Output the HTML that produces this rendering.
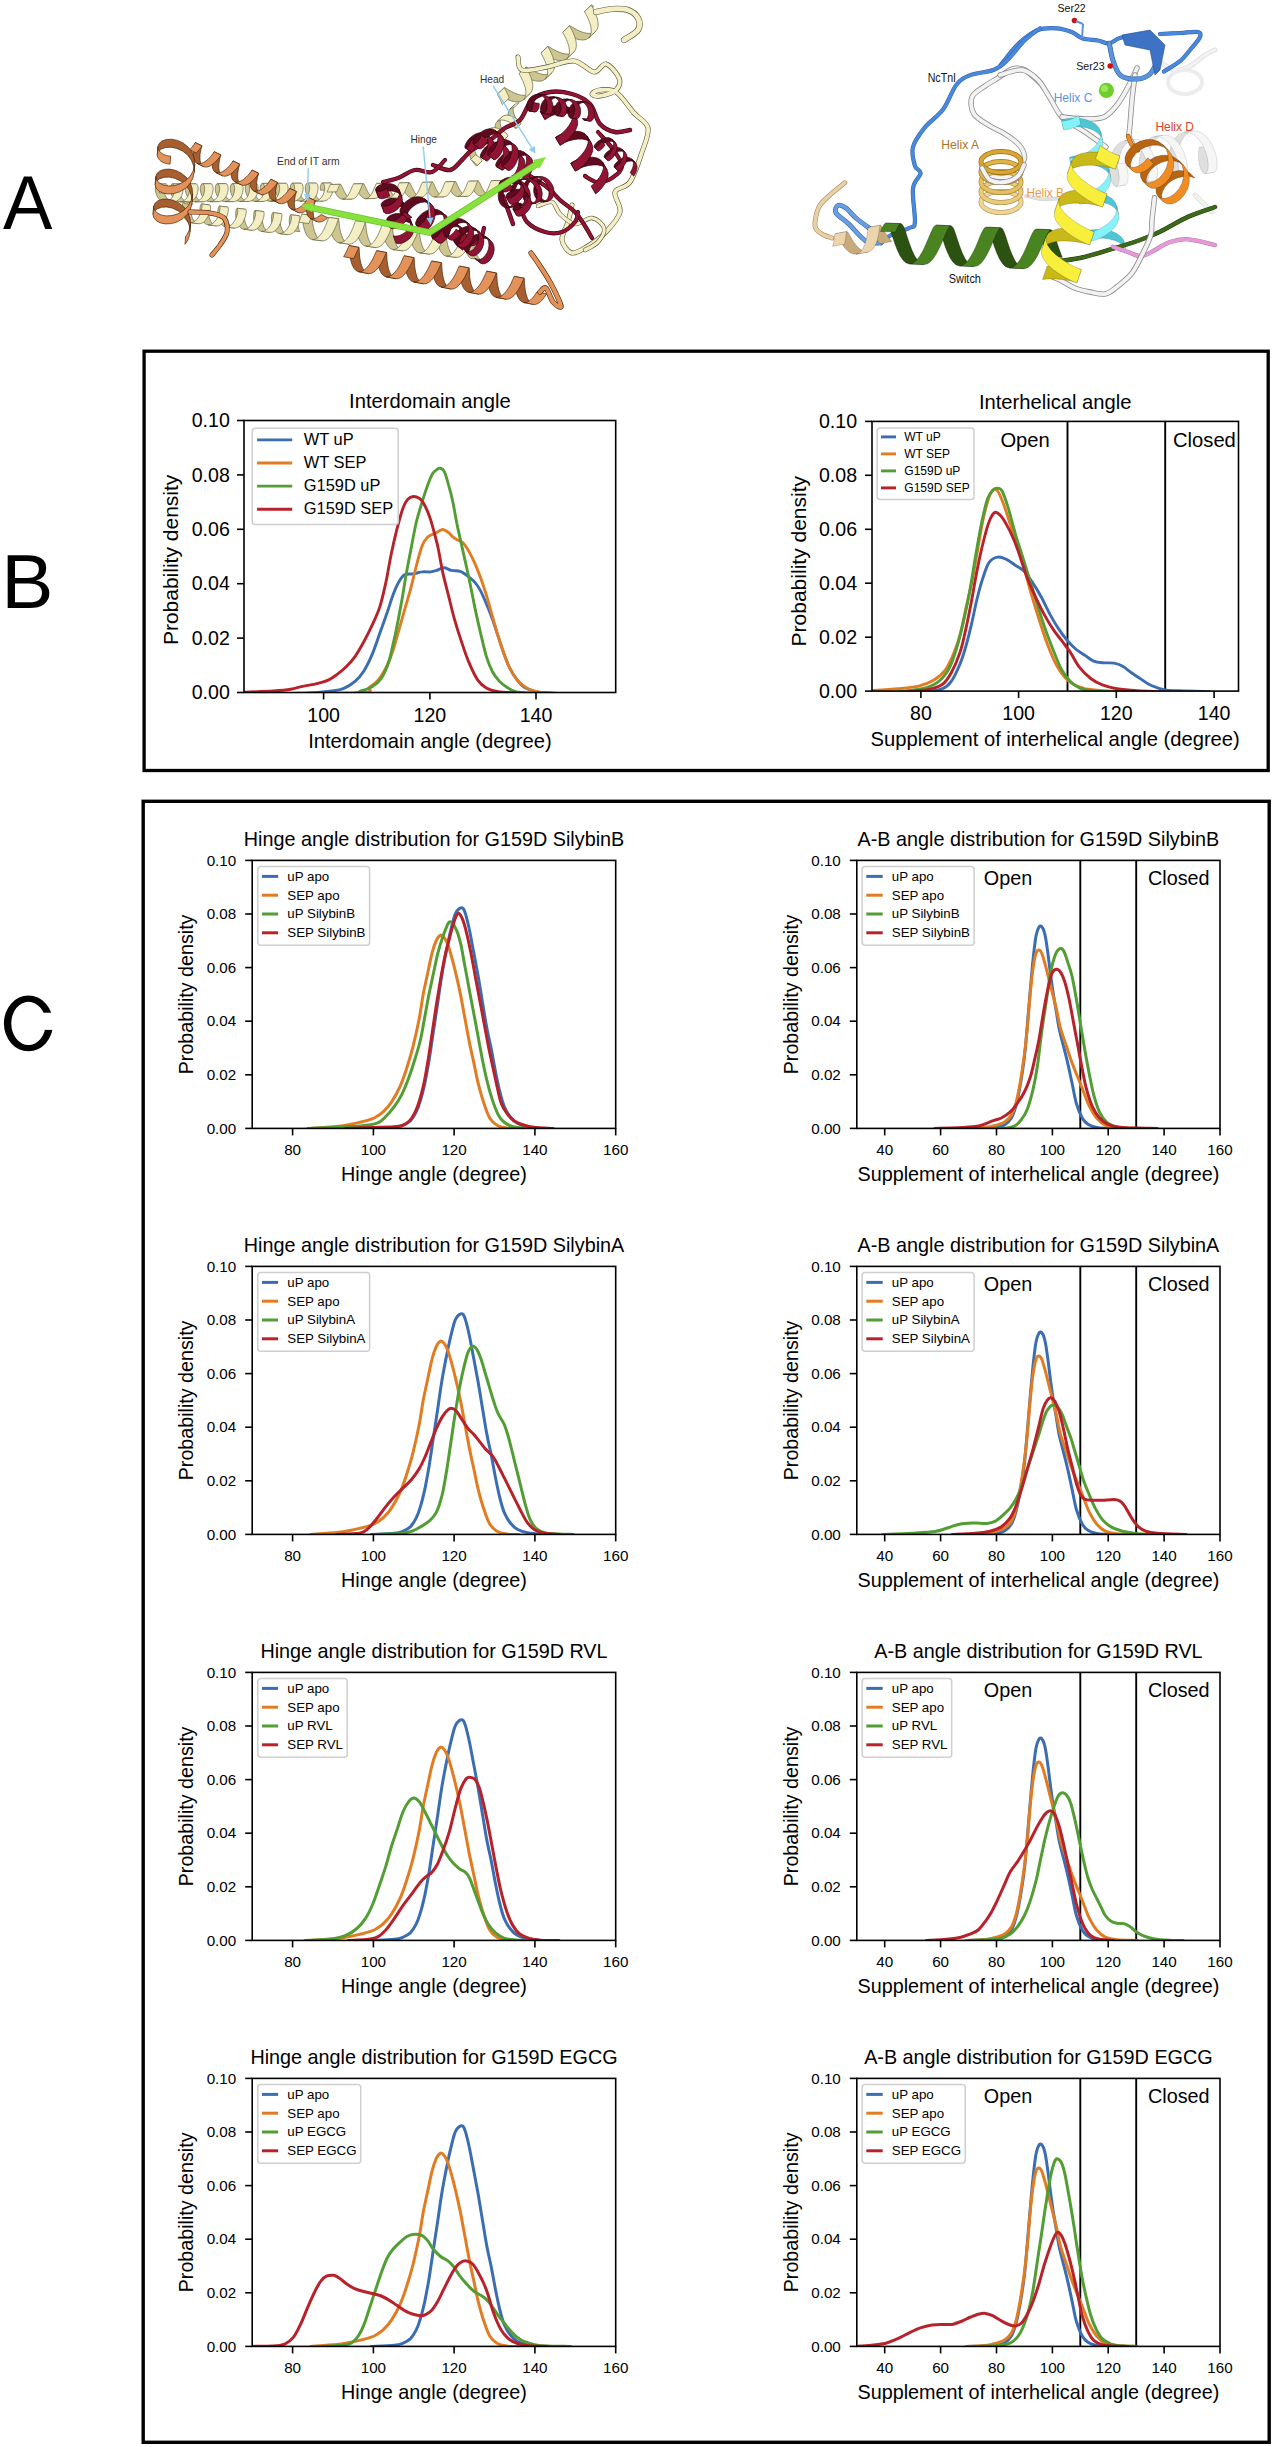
<!DOCTYPE html>
<html><head><meta charset="utf-8"><style>
html,body{margin:0;padding:0;background:#fff;}
svg{display:block;font-family:"Liberation Sans", sans-serif;}
</style></head><body>
<svg width="1274" height="2447" viewBox="0 0 1274 2447">
<rect width="1274" height="2447" fill="#fff"/>
<path d="M504.3,87.6 L504.9,87.8 L506.3,88.6 L508.5,89.9 L511.3,91.5 L514.5,93.1 L518.1,94.4 L521.7,95.2 L525.1,95.3 L528.0,94.7 L530.3,93.2 L523.5,99.8 L521.1,101.2 L518.2,101.9 L514.8,101.7 L511.2,100.9 L507.6,99.6 L504.4,98.0 L501.6,96.5 L499.4,95.1 L498.0,94.3 L497.4,94.1Z" fill="#cdc690" stroke="#6a6640" stroke-width="0.7"/><path d="M526.1,67.0 L526.7,67.1 L528.1,68.0 L530.2,69.3 L533.0,70.9 L536.3,72.4 L539.9,73.7 L543.5,74.6 L546.9,74.7 L549.8,74.1 L552.1,72.6 L545.2,79.1 L542.9,80.6 L540.0,81.2 L536.6,81.1 L533.0,80.3 L529.4,79.0 L526.1,77.4 L523.3,75.8 L521.2,74.5 L519.8,73.7 L519.2,73.5Z" fill="#cdc690" stroke="#6a6640" stroke-width="0.7"/><path d="M547.9,46.3 L548.5,46.5 L549.9,47.3 L552.0,48.7 L554.8,50.2 L558.1,51.8 L561.7,53.1 L565.3,53.9 L568.6,54.1 L571.6,53.4 L573.9,52.0 L567.0,58.5 L564.7,60.0 L561.7,60.6 L558.4,60.5 L554.8,59.6 L551.2,58.3 L547.9,56.8 L545.1,55.2 L543.0,53.9 L541.6,53.0 L541.0,52.9Z" fill="#cdc690" stroke="#6a6640" stroke-width="0.7"/><path d="M569.7,25.7 L570.3,25.9 L571.6,26.7 L573.8,28.0 L576.6,29.6 L579.9,31.2 L583.4,32.5 L587.0,33.3 L590.4,33.4 L593.4,32.8 L595.7,31.3 L588.8,37.9 L586.5,39.3 L583.5,40.0 L580.1,39.8 L576.5,39.0 L573.0,37.7 L569.7,36.1 L566.9,34.6 L564.7,33.2 L563.4,32.4 L562.8,32.2Z" fill="#cdc690" stroke="#6a6640" stroke-width="0.7"/><path d="M591.4,5.1 L591.5,5.0 L591.6,5.0 L591.8,5.1 L591.9,5.2 L592.2,5.3 L592.4,5.5 L592.7,5.6 L593.1,5.9 L593.5,6.1 L593.9,6.4 L587.0,12.9 L586.6,12.6 L586.2,12.4 L585.8,12.2 L585.5,12.0 L585.3,11.8 L585.0,11.7 L584.9,11.6 L584.7,11.6 L584.6,11.6 L584.5,11.6Z" fill="#cdc690" stroke="#6a6640" stroke-width="0.7"/><path d="M509.2,98.1 L508.6,96.4 L507.9,94.7 L507.1,93.2 L506.4,91.8 L505.8,90.6 L505.2,89.6 L504.8,88.8 L504.5,88.2 L504.3,87.8 L504.3,87.6 L497.4,94.1 L497.4,94.3 L497.6,94.7 L497.9,95.3 L498.3,96.2 L498.9,97.2 L499.5,98.4 L500.2,99.7 L501.0,101.2 L501.7,102.9 L502.3,104.6Z" fill="#f3eec4" stroke="#6a6640" stroke-width="0.7"/><path d="M530.3,93.2 L531.9,91.0 L532.7,88.1 L532.8,84.7 L532.1,81.1 L531.0,77.5 L529.6,74.1 L528.2,71.2 L527.0,69.0 L526.3,67.6 L526.1,67.0 L519.2,73.5 L519.4,74.1 L520.1,75.5 L521.3,77.7 L522.7,80.6 L524.1,84.0 L525.2,87.6 L525.9,91.2 L525.8,94.6 L525.0,97.5 L523.5,99.8Z" fill="#f3eec4" stroke="#6a6640" stroke-width="0.7"/><path d="M552.1,72.6 L553.7,70.4 L554.5,67.5 L554.5,64.1 L553.9,60.4 L552.8,56.8 L551.4,53.5 L550.0,50.6 L548.8,48.4 L548.0,46.9 L547.9,46.3 L541.0,52.9 L541.1,53.5 L541.9,54.9 L543.1,57.1 L544.5,60.0 L545.9,63.4 L547.0,67.0 L547.6,70.6 L547.6,74.0 L546.8,76.9 L545.2,79.1Z" fill="#f3eec4" stroke="#6a6640" stroke-width="0.7"/><path d="M573.9,52.0 L575.5,49.7 L576.3,46.8 L576.3,43.5 L575.7,39.8 L574.6,36.2 L573.2,32.8 L571.8,29.9 L570.6,27.7 L569.8,26.3 L569.7,25.7 L562.8,32.2 L562.9,32.8 L563.7,34.3 L564.9,36.5 L566.3,39.4 L567.7,42.7 L568.8,46.4 L569.4,50.0 L569.4,53.4 L568.6,56.3 L567.0,58.5Z" fill="#f3eec4" stroke="#6a6640" stroke-width="0.7"/><path d="M595.7,31.3 L597.3,29.1 L598.1,26.2 L598.1,22.8 L597.5,19.2 L596.4,15.6 L595.0,12.2 L593.6,9.3 L592.4,7.1 L591.6,5.7 L591.4,5.1 L584.5,11.6 L584.7,12.2 L585.5,13.6 L586.7,15.8 L588.1,18.7 L589.5,22.1 L590.6,25.7 L591.2,29.4 L591.2,32.7 L590.4,35.6 L588.8,37.9Z" fill="#f3eec4" stroke="#6a6640" stroke-width="0.7"/>
<path d="M482.0,161.0 L481.4,160.9 L480.4,160.1 L479.0,158.7 L477.5,156.6 L476.1,154.1 L475.0,151.4 L474.3,148.5 L474.2,145.9 L474.8,143.5 L476.0,141.7 L471.0,146.6 L469.7,148.4 L469.2,150.7 L469.2,153.4 L469.9,156.2 L471.0,159.0 L472.5,161.5 L474.0,163.5 L475.3,165.0 L476.4,165.7 L477.0,165.8Z" fill="#cdc690" stroke="#6a6640" stroke-width="0.7"/><path d="M495.0,148.5 L494.4,148.4 L493.4,147.6 L492.0,146.2 L490.5,144.2 L489.1,141.7 L487.9,138.9 L487.3,136.1 L487.2,133.4 L487.8,131.1 L489.0,129.3 L484.0,134.1 L482.7,135.9 L482.1,138.3 L482.2,140.9 L482.9,143.8 L484.0,146.5 L485.5,149.0 L487.0,151.1 L488.3,152.5 L489.4,153.3 L489.9,153.3Z" fill="#cdc690" stroke="#6a6640" stroke-width="0.7"/><path d="M508.0,136.0 L507.4,135.9 L506.4,135.2 L505.0,133.7 L503.5,131.7 L502.1,129.2 L500.9,126.5 L500.3,123.6 L500.2,120.9 L500.8,118.6 L502.0,116.8 L497.0,121.7 L495.7,123.5 L495.1,125.8 L495.2,128.5 L495.9,131.3 L497.0,134.1 L498.4,136.6 L499.9,138.6 L501.3,140.0 L502.4,140.8 L502.9,140.9Z" fill="#cdc690" stroke="#6a6640" stroke-width="0.7"/><path d="M521.0,123.6 L520.4,123.5 L519.3,122.7 L518.0,121.3 L516.5,119.2 L515.1,116.8 L513.9,114.0 L513.2,111.2 L513.2,108.5 L513.7,106.1 L515.0,104.3 L509.9,109.2 L508.7,111.0 L508.1,113.3 L508.2,116.0 L508.9,118.8 L510.0,121.6 L511.4,124.1 L512.9,126.1 L514.3,127.6 L515.4,128.3 L515.9,128.4Z" fill="#cdc690" stroke="#6a6640" stroke-width="0.7"/><path d="M475.4,154.8 L476.7,155.5 L477.9,156.3 L478.9,157.1 L479.9,157.9 L480.6,158.6 L481.2,159.3 L481.7,159.9 L482.0,160.4 L482.1,160.7 L482.0,161.0 L477.0,165.8 L477.0,165.6 L476.9,165.2 L476.6,164.8 L476.2,164.2 L475.6,163.5 L474.8,162.7 L473.9,161.9 L472.8,161.1 L471.7,160.4 L470.4,159.6Z" fill="#f3eec4" stroke="#6a6640" stroke-width="0.7"/><path d="M476.0,141.7 L477.9,140.6 L480.2,140.1 L482.9,140.3 L485.7,141.1 L488.4,142.3 L490.9,143.8 L492.8,145.4 L494.2,146.8 L494.9,147.9 L495.0,148.5 L489.9,153.3 L489.9,152.8 L489.2,151.7 L487.8,150.3 L485.8,148.7 L483.4,147.2 L480.7,145.9 L477.9,145.1 L475.2,144.9 L472.8,145.4 L471.0,146.6Z" fill="#f3eec4" stroke="#6a6640" stroke-width="0.7"/><path d="M489.0,129.3 L490.9,128.1 L493.2,127.6 L495.9,127.8 L498.7,128.6 L501.4,129.8 L503.8,131.4 L505.8,132.9 L507.2,134.4 L507.9,135.5 L508.0,136.0 L502.9,140.9 L502.9,140.3 L502.2,139.2 L500.8,137.8 L498.8,136.2 L496.4,134.7 L493.6,133.4 L490.8,132.7 L488.2,132.5 L485.8,132.9 L484.0,134.1Z" fill="#f3eec4" stroke="#6a6640" stroke-width="0.7"/><path d="M502.0,116.8 L503.9,115.6 L506.2,115.1 L508.9,115.3 L511.7,116.1 L514.4,117.4 L516.8,118.9 L518.8,120.5 L520.2,121.9 L520.9,123.0 L521.0,123.6 L515.9,128.4 L515.9,127.8 L515.1,126.8 L513.8,125.3 L511.8,123.7 L509.4,122.2 L506.6,121.0 L503.8,120.2 L501.2,120.0 L498.8,120.5 L497.0,121.7Z" fill="#f3eec4" stroke="#6a6640" stroke-width="0.7"/><path d="M515.0,104.3 L515.3,104.0 L515.7,103.8 L516.0,103.5 L516.4,103.3 L516.9,103.2 L517.3,103.0 L517.8,102.9 L518.2,102.8 L518.7,102.7 L519.2,102.7 L514.2,107.5 L513.7,107.6 L513.2,107.6 L512.7,107.7 L512.2,107.9 L511.8,108.0 L511.4,108.2 L511.0,108.4 L510.6,108.6 L510.3,108.9 L509.9,109.2Z" fill="#f3eec4" stroke="#6a6640" stroke-width="0.7"/>
<path d="M596.0,12.0 C598.7,11.5 606.7,9.3 612.0,9.0 C617.3,8.7 623.7,8.5 628.0,10.0 C632.3,11.5 636.3,14.7 638.0,18.0 C639.7,21.3 640.3,26.3 638.0,30.0 C635.7,33.7 626.3,38.3 624.0,40.0" fill="none" stroke="#5a573a" stroke-width="6.2" stroke-linecap="round" stroke-linejoin="round"/><path d="M596.0,12.0 C598.7,11.5 606.7,9.3 612.0,9.0 C617.3,8.7 623.7,8.5 628.0,10.0 C632.3,11.5 636.3,14.7 638.0,18.0 C639.7,21.3 640.3,26.3 638.0,30.0 C635.7,33.7 626.3,38.3 624.0,40.0" fill="none" stroke="#f3eec4" stroke-width="5" stroke-linecap="round" stroke-linejoin="round"/>
<path d="M518.0,57.0 C518.7,59.2 517.2,68.3 522.0,70.0 C526.8,71.7 538.3,68.5 547.0,67.0 C555.7,65.5 566.2,60.2 574.0,61.0 C581.8,61.8 588.7,71.5 594.0,72.0 C599.3,72.5 601.8,63.0 606.0,64.0 C610.2,65.0 617.3,73.7 619.0,78.0 C620.7,82.3 619.2,87.0 616.0,90.0 C612.8,93.0 604.0,95.3 600.0,96.0 C596.0,96.7 592.0,95.0 592.0,94.0 C592.0,93.0 596.0,90.3 600.0,90.0 C604.0,89.7 610.3,88.2 616.0,92.0 C621.7,95.8 628.7,107.0 634.0,113.0 C639.3,119.0 646.7,121.5 648.0,128.0 C649.3,134.5 645.0,143.0 642.0,152.0 C639.0,161.0 634.5,175.3 630.0,182.0 C625.5,188.7 616.7,187.0 615.0,192.0 C613.3,197.0 621.5,205.3 620.0,212.0 C618.5,218.7 611.3,226.3 606.0,232.0 C600.7,237.7 593.7,242.5 588.0,246.0 C582.3,249.5 576.3,254.0 572.0,253.0 C567.7,252.0 562.7,245.2 562.0,240.0 C561.3,234.8 566.3,227.8 568.0,222.0 C569.7,216.2 571.3,207.8 572.0,205.0" fill="none" stroke="#5a573a" stroke-width="5.0" stroke-linecap="round" stroke-linejoin="round"/><path d="M518.0,57.0 C518.7,59.2 517.2,68.3 522.0,70.0 C526.8,71.7 538.3,68.5 547.0,67.0 C555.7,65.5 566.2,60.2 574.0,61.0 C581.8,61.8 588.7,71.5 594.0,72.0 C599.3,72.5 601.8,63.0 606.0,64.0 C610.2,65.0 617.3,73.7 619.0,78.0 C620.7,82.3 619.2,87.0 616.0,90.0 C612.8,93.0 604.0,95.3 600.0,96.0 C596.0,96.7 592.0,95.0 592.0,94.0 C592.0,93.0 596.0,90.3 600.0,90.0 C604.0,89.7 610.3,88.2 616.0,92.0 C621.7,95.8 628.7,107.0 634.0,113.0 C639.3,119.0 646.7,121.5 648.0,128.0 C649.3,134.5 645.0,143.0 642.0,152.0 C639.0,161.0 634.5,175.3 630.0,182.0 C625.5,188.7 616.7,187.0 615.0,192.0 C613.3,197.0 621.5,205.3 620.0,212.0 C618.5,218.7 611.3,226.3 606.0,232.0 C600.7,237.7 593.7,242.5 588.0,246.0 C582.3,249.5 576.3,254.0 572.0,253.0 C567.7,252.0 562.7,245.2 562.0,240.0 C561.3,234.8 566.3,227.8 568.0,222.0 C569.7,216.2 571.3,207.8 572.0,205.0" fill="none" stroke="#f3eec4" stroke-width="3.8" stroke-linecap="round" stroke-linejoin="round"/>
<path d="M538.0,206.0 C540.3,205.3 548.3,200.7 552.0,202.0 C555.7,203.3 556.2,210.3 560.0,214.0 C563.8,217.7 569.7,223.3 575.0,224.0 C580.3,224.7 587.2,217.3 592.0,218.0 C596.8,218.7 603.0,224.0 604.0,228.0 C605.0,232.0 601.2,238.3 598.0,242.0 C594.8,245.7 587.2,248.7 585.0,250.0" fill="none" stroke="#5a573a" stroke-width="4.4" stroke-linecap="round" stroke-linejoin="round"/><path d="M538.0,206.0 C540.3,205.3 548.3,200.7 552.0,202.0 C555.7,203.3 556.2,210.3 560.0,214.0 C563.8,217.7 569.7,223.3 575.0,224.0 C580.3,224.7 587.2,217.3 592.0,218.0 C596.8,218.7 603.0,224.0 604.0,228.0 C605.0,232.0 601.2,238.3 598.0,242.0 C594.8,245.7 587.2,248.7 585.0,250.0" fill="none" stroke="#f3eec4" stroke-width="3.2" stroke-linecap="round" stroke-linejoin="round"/>
<path d="M165.9,184.0 L165.0,184.4 L164.3,185.7 L163.9,187.7 L163.8,190.2 L164.3,193.0 L165.4,195.7 L166.9,198.2 L168.9,200.2 L171.1,201.5 L173.6,201.9 L165.1,202.0 L162.6,201.5 L160.4,200.3 L158.4,198.3 L156.9,195.8 L155.9,193.0 L155.3,190.2 L155.4,187.7 L155.8,185.7 L156.5,184.4 L157.4,184.0Z" fill="#cdc690" stroke="#6a6640" stroke-width="0.7"/><path d="M180.9,183.9 L180.0,184.3 L179.3,185.6 L178.9,187.6 L178.8,190.1 L179.3,192.9 L180.4,195.7 L181.9,198.2 L183.9,200.1 L186.1,201.4 L188.6,201.8 L180.1,201.9 L177.6,201.4 L175.4,200.2 L173.4,198.2 L171.9,195.7 L170.8,192.9 L170.3,190.1 L170.4,187.6 L170.8,185.6 L171.5,184.4 L172.4,183.9Z" fill="#cdc690" stroke="#6a6640" stroke-width="0.7"/><path d="M195.9,183.8 L195.0,184.2 L194.3,185.5 L193.8,187.5 L193.8,190.0 L194.3,192.8 L195.4,195.6 L196.9,198.1 L198.9,200.0 L201.1,201.3 L203.6,201.7 L195.1,201.8 L192.6,201.4 L190.4,200.1 L188.4,198.1 L186.9,195.6 L185.8,192.8 L185.3,190.1 L185.4,187.6 L185.8,185.6 L186.5,184.3 L187.4,183.8Z" fill="#cdc690" stroke="#6a6640" stroke-width="0.7"/><path d="M210.9,183.7 L210.0,184.1 L209.3,185.4 L208.8,187.4 L208.8,189.9 L209.3,192.7 L210.4,195.5 L211.9,198.0 L213.9,200.0 L216.1,201.2 L218.6,201.6 L210.1,201.7 L207.6,201.3 L205.4,200.0 L203.4,198.0 L201.9,195.5 L200.8,192.8 L200.3,190.0 L200.3,187.5 L200.8,185.5 L201.5,184.2 L202.4,183.7Z" fill="#cdc690" stroke="#6a6640" stroke-width="0.7"/><path d="M225.9,183.6 L225.0,184.1 L224.3,185.3 L223.8,187.3 L223.8,189.8 L224.3,192.6 L225.4,195.4 L226.9,197.9 L228.9,199.9 L231.1,201.1 L233.6,201.6 L225.1,201.6 L222.6,201.2 L220.4,199.9 L218.4,197.9 L216.9,195.4 L215.8,192.7 L215.3,189.9 L215.3,187.4 L215.8,185.4 L216.5,184.1 L217.4,183.7Z" fill="#cdc690" stroke="#6a6640" stroke-width="0.7"/><path d="M240.9,183.5 L240.0,184.0 L239.3,185.2 L238.8,187.2 L238.8,189.7 L239.3,192.5 L240.4,195.3 L241.9,197.8 L243.9,199.8 L246.1,201.0 L248.6,201.5 L240.1,201.5 L237.6,201.1 L235.4,199.8 L233.4,197.9 L231.9,195.4 L230.8,192.6 L230.3,189.8 L230.3,187.3 L230.8,185.3 L231.5,184.0 L232.4,183.6Z" fill="#cdc690" stroke="#6a6640" stroke-width="0.7"/><path d="M255.9,183.4 L255.0,183.9 L254.3,185.2 L253.8,187.2 L253.8,189.7 L254.3,192.4 L255.4,195.2 L256.9,197.7 L258.9,199.7 L261.1,201.0 L263.6,201.4 L255.1,201.4 L252.6,201.0 L250.4,199.7 L248.4,197.8 L246.9,195.3 L245.8,192.5 L245.3,189.7 L245.3,187.2 L245.8,185.2 L246.5,183.9 L247.4,183.5Z" fill="#cdc690" stroke="#6a6640" stroke-width="0.7"/><path d="M270.9,183.3 L270.0,183.8 L269.3,185.1 L268.8,187.1 L268.8,189.6 L269.3,192.4 L270.4,195.1 L271.9,197.6 L273.9,199.6 L276.1,200.9 L278.6,201.3 L270.1,201.3 L267.6,200.9 L265.4,199.7 L263.4,197.7 L261.9,195.2 L260.8,192.4 L260.3,189.6 L260.3,187.1 L260.8,185.1 L261.5,183.8 L262.4,183.4Z" fill="#cdc690" stroke="#6a6640" stroke-width="0.7"/><path d="M285.9,183.3 L285.0,183.7 L284.3,185.0 L283.8,187.0 L283.8,189.5 L284.3,192.3 L285.4,195.0 L286.9,197.5 L288.9,199.5 L291.1,200.8 L293.6,201.2 L285.1,201.3 L282.6,200.8 L280.4,199.6 L278.4,197.6 L276.9,195.1 L275.8,192.3 L275.3,189.5 L275.3,187.0 L275.8,185.0 L276.5,183.8 L277.4,183.3Z" fill="#cdc690" stroke="#6a6640" stroke-width="0.7"/><path d="M300.9,183.2 L300.0,183.6 L299.3,184.9 L298.8,186.9 L298.8,189.4 L299.3,192.2 L300.4,195.0 L301.9,197.5 L303.9,199.4 L306.1,200.7 L308.5,201.1 L300.0,201.2 L297.6,200.7 L295.4,199.5 L293.4,197.5 L291.9,195.0 L290.8,192.2 L290.3,189.4 L290.3,186.9 L290.8,184.9 L291.5,183.7 L292.4,183.2Z" fill="#cdc690" stroke="#6a6640" stroke-width="0.7"/><path d="M315.9,183.1 L315.0,183.5 L314.3,184.8 L313.8,186.8 L313.8,189.3 L314.3,192.1 L315.4,194.9 L316.9,197.4 L318.9,199.3 L321.1,200.6 L323.5,201.0 L315.0,201.1 L312.6,200.7 L310.4,199.4 L308.4,197.4 L306.9,194.9 L305.8,192.1 L305.3,189.4 L305.3,186.9 L305.8,184.9 L306.5,183.6 L307.4,183.1Z" fill="#cdc690" stroke="#6a6640" stroke-width="0.7"/><path d="M330.9,183.0 L330.5,183.1 L330.1,183.3 L329.8,183.7 L329.5,184.3 L329.2,185.0 L329.0,185.8 L328.8,186.8 L328.8,187.8 L328.8,189.0 L329.0,190.1 L320.5,190.2 L320.3,189.0 L320.3,187.9 L320.3,186.8 L320.5,185.9 L320.7,185.1 L321.0,184.4 L321.3,183.8 L321.6,183.4 L322.0,183.1 L322.4,183.0Z" fill="#cdc690" stroke="#6a6640" stroke-width="0.7"/><path d="M167.6,192.9 L168.0,191.5 L168.1,190.2 L168.2,188.9 L168.1,187.7 L167.9,186.6 L167.6,185.7 L167.3,184.9 L166.9,184.4 L166.4,184.1 L165.9,184.0 L157.4,184.0 L157.9,184.1 L158.4,184.4 L158.8,185.0 L159.1,185.7 L159.4,186.6 L159.6,187.7 L159.7,188.9 L159.6,190.2 L159.5,191.6 L159.1,193.0Z" fill="#f3eec4" stroke="#6a6640" stroke-width="0.7"/><path d="M173.6,201.9 L176.0,201.5 L178.2,200.2 L180.1,198.2 L181.7,195.6 L182.6,192.9 L183.1,190.1 L183.1,187.6 L182.6,185.6 L181.9,184.3 L180.9,183.9 L172.4,183.9 L173.4,184.4 L174.1,185.6 L174.6,187.6 L174.6,190.1 L174.1,192.9 L173.2,195.7 L171.6,198.2 L169.7,200.2 L167.5,201.5 L165.1,202.0Z" fill="#f3eec4" stroke="#6a6640" stroke-width="0.7"/><path d="M188.6,201.8 L191.0,201.4 L193.2,200.1 L195.1,198.1 L196.7,195.6 L197.6,192.8 L198.1,190.0 L198.1,187.5 L197.6,185.5 L196.9,184.2 L195.9,183.8 L187.4,183.8 L188.4,184.3 L189.1,185.5 L189.6,187.5 L189.6,190.0 L189.1,192.8 L188.2,195.6 L186.6,198.1 L184.7,200.1 L182.5,201.4 L180.1,201.9Z" fill="#f3eec4" stroke="#6a6640" stroke-width="0.7"/><path d="M203.6,201.7 L206.0,201.3 L208.2,200.0 L210.1,198.0 L211.7,195.5 L212.6,192.7 L213.1,189.9 L213.1,187.4 L212.6,185.4 L211.9,184.1 L210.9,183.7 L202.4,183.7 L203.4,184.2 L204.1,185.5 L204.6,187.4 L204.6,189.9 L204.1,192.7 L203.2,195.5 L201.6,198.0 L199.7,200.0 L197.5,201.3 L195.1,201.8Z" fill="#f3eec4" stroke="#6a6640" stroke-width="0.7"/><path d="M218.6,201.6 L221.0,201.2 L223.2,199.9 L225.1,197.9 L226.7,195.4 L227.6,192.6 L228.1,189.8 L228.1,187.3 L227.6,185.3 L226.9,184.0 L225.9,183.6 L217.4,183.7 L218.4,184.1 L219.1,185.4 L219.6,187.4 L219.6,189.9 L219.1,192.6 L218.2,195.4 L216.6,197.9 L214.7,200.0 L212.5,201.2 L210.1,201.7Z" fill="#f3eec4" stroke="#6a6640" stroke-width="0.7"/><path d="M233.6,201.6 L236.0,201.1 L238.2,199.8 L240.1,197.8 L241.7,195.3 L242.6,192.5 L243.1,189.7 L243.1,187.2 L242.6,185.2 L241.9,184.0 L240.9,183.5 L232.4,183.6 L233.4,184.0 L234.1,185.3 L234.6,187.3 L234.6,189.8 L234.1,192.6 L233.2,195.3 L231.6,197.9 L229.7,199.9 L227.5,201.2 L225.1,201.6Z" fill="#f3eec4" stroke="#6a6640" stroke-width="0.7"/><path d="M248.6,201.5 L251.0,201.0 L253.2,199.7 L255.1,197.7 L256.7,195.2 L257.6,192.4 L258.1,189.6 L258.1,187.1 L257.6,185.1 L256.9,183.9 L255.9,183.4 L247.4,183.5 L248.4,183.9 L249.1,185.2 L249.6,187.2 L249.6,189.7 L249.1,192.5 L248.2,195.3 L246.6,197.8 L244.7,199.8 L242.5,201.1 L240.1,201.5Z" fill="#f3eec4" stroke="#6a6640" stroke-width="0.7"/><path d="M263.6,201.4 L266.0,200.9 L268.2,199.6 L270.1,197.6 L271.6,195.1 L272.6,192.3 L273.1,189.5 L273.1,187.0 L272.6,185.1 L271.9,183.8 L270.9,183.3 L262.4,183.4 L263.4,183.8 L264.1,185.1 L264.6,187.1 L264.6,189.6 L264.1,192.4 L263.2,195.2 L261.6,197.7 L259.7,199.7 L257.5,201.0 L255.1,201.4Z" fill="#f3eec4" stroke="#6a6640" stroke-width="0.7"/><path d="M278.6,201.3 L281.0,200.8 L283.2,199.6 L285.1,197.6 L286.6,195.0 L287.6,192.2 L288.1,189.5 L288.1,187.0 L287.6,185.0 L286.9,183.7 L285.9,183.3 L277.4,183.3 L278.4,183.7 L279.1,185.0 L279.6,187.0 L279.6,189.5 L279.1,192.3 L278.1,195.1 L276.6,197.6 L274.7,199.6 L272.5,200.9 L270.1,201.3Z" fill="#f3eec4" stroke="#6a6640" stroke-width="0.7"/><path d="M293.6,201.2 L296.0,200.8 L298.2,199.5 L300.1,197.5 L301.6,194.9 L302.6,192.2 L303.1,189.4 L303.1,186.9 L302.6,184.9 L301.9,183.6 L300.9,183.2 L292.4,183.2 L293.4,183.7 L294.1,184.9 L294.6,186.9 L294.6,189.4 L294.1,192.2 L293.1,195.0 L291.6,197.5 L289.7,199.5 L287.5,200.8 L285.1,201.3Z" fill="#f3eec4" stroke="#6a6640" stroke-width="0.7"/><path d="M308.5,201.1 L311.0,200.7 L313.2,199.4 L315.1,197.4 L316.6,194.9 L317.6,192.1 L318.1,189.3 L318.1,186.8 L317.6,184.8 L316.9,183.5 L315.9,183.1 L307.4,183.1 L308.4,183.6 L309.1,184.8 L309.6,186.8 L309.6,189.3 L309.1,192.1 L308.1,194.9 L306.6,197.4 L304.7,199.4 L302.5,200.7 L300.0,201.2Z" fill="#f3eec4" stroke="#6a6640" stroke-width="0.7"/><path d="M323.5,201.0 L326.0,200.6 L328.2,199.3 L330.1,197.3 L331.6,194.8 L332.6,192.0 L333.1,189.2 L333.1,186.7 L332.6,184.7 L331.9,183.4 L330.9,183.0 L322.4,183.0 L323.4,183.5 L324.1,184.8 L324.6,186.7 L324.6,189.3 L324.1,192.0 L323.1,194.8 L321.6,197.3 L319.7,199.3 L317.5,200.6 L315.0,201.1Z" fill="#f3eec4" stroke="#6a6640" stroke-width="0.7"/>
<path d="M340.3,184.3 L340.9,184.6 L341.6,185.7 L342.3,187.3 L343.3,189.4 L344.4,191.7 L345.7,193.9 L347.1,196.0 L348.7,197.6 L350.4,198.7 L352.2,199.0 L342.7,199.2 L340.9,198.9 L339.2,197.9 L337.6,196.2 L336.2,194.2 L334.9,191.9 L333.8,189.6 L332.8,187.5 L332.1,185.9 L331.4,184.8 L330.8,184.5Z" fill="#cdc690" stroke="#6a6640" stroke-width="0.7"/><path d="M363.3,183.7 L363.9,184.1 L364.5,185.1 L365.3,186.8 L366.3,188.8 L367.4,191.1 L368.7,193.4 L370.1,195.5 L371.7,197.1 L373.4,198.1 L375.2,198.4 L365.7,198.7 L363.9,198.3 L362.2,197.3 L360.6,195.7 L359.2,193.6 L357.9,191.3 L356.8,189.1 L355.8,187.0 L355.0,185.3 L354.4,184.3 L353.8,183.9Z" fill="#cdc690" stroke="#6a6640" stroke-width="0.7"/><path d="M386.3,183.2 L386.9,183.5 L387.5,184.6 L388.3,186.2 L389.2,188.3 L390.4,190.6 L391.7,192.9 L393.1,194.9 L394.7,196.5 L396.4,197.6 L398.2,197.9 L388.7,198.1 L386.9,197.8 L385.2,196.8 L383.6,195.1 L382.2,193.1 L380.9,190.8 L379.7,188.5 L378.8,186.4 L378.0,184.8 L377.4,183.8 L376.8,183.4Z" fill="#cdc690" stroke="#6a6640" stroke-width="0.7"/><path d="M409.3,182.6 L409.9,183.0 L410.5,184.0 L411.3,185.7 L412.2,187.7 L413.4,190.0 L414.6,192.3 L416.1,194.4 L417.7,196.0 L419.4,197.0 L421.2,197.4 L411.7,197.6 L409.9,197.3 L408.2,196.2 L406.6,194.6 L405.2,192.6 L403.9,190.3 L402.7,188.0 L401.8,185.9 L401.0,184.3 L400.4,183.2 L399.8,182.9Z" fill="#cdc690" stroke="#6a6640" stroke-width="0.7"/><path d="M432.3,182.1 L432.9,182.4 L433.5,183.5 L434.3,185.1 L435.2,187.2 L436.3,189.5 L437.6,191.8 L439.1,193.8 L440.7,195.5 L442.4,196.5 L444.1,196.8 L434.6,197.0 L432.9,196.7 L431.2,195.7 L429.6,194.1 L428.1,192.0 L426.8,189.7 L425.7,187.4 L424.8,185.4 L424.0,183.7 L423.4,182.7 L422.8,182.3Z" fill="#cdc690" stroke="#6a6640" stroke-width="0.7"/><path d="M455.3,181.5 L455.9,181.9 L456.5,183.0 L457.3,184.6 L458.2,186.7 L459.3,189.0 L460.6,191.2 L462.1,193.3 L463.7,194.9 L465.4,195.9 L467.1,196.3 L457.6,196.5 L455.9,196.2 L454.2,195.1 L452.6,193.5 L451.1,191.5 L449.8,189.2 L448.7,186.9 L447.8,184.8 L447.0,183.2 L446.4,182.1 L445.8,181.8Z" fill="#cdc690" stroke="#6a6640" stroke-width="0.7"/><path d="M478.3,181.0 L478.9,181.4 L479.5,182.4 L480.3,184.1 L481.2,186.1 L482.3,188.4 L483.6,190.7 L485.1,192.8 L486.7,194.4 L488.4,195.4 L490.1,195.7 L480.6,196.0 L478.9,195.6 L477.2,194.6 L475.6,193.0 L474.1,190.9 L472.8,188.6 L471.7,186.3 L470.8,184.3 L470.0,182.6 L469.4,181.6 L468.8,181.2Z" fill="#cdc690" stroke="#6a6640" stroke-width="0.7"/><path d="M501.3,180.5 L501.4,180.5 L501.6,180.6 L501.8,180.7 L501.9,180.9 L502.1,181.2 L502.3,181.5 L502.5,181.9 L502.7,182.3 L502.9,182.8 L503.2,183.3 L493.7,183.5 L493.4,183.0 L493.2,182.5 L493.0,182.1 L492.8,181.7 L492.6,181.4 L492.4,181.2 L492.3,181.0 L492.1,180.8 L491.9,180.7 L491.8,180.7Z" fill="#cdc690" stroke="#6a6640" stroke-width="0.7"/><path d="M336.6,191.8 L337.1,190.7 L337.6,189.5 L338.1,188.4 L338.5,187.4 L338.8,186.5 L339.2,185.7 L339.5,185.1 L339.8,184.6 L340.0,184.4 L340.3,184.3 L330.8,184.5 L330.5,184.6 L330.3,184.9 L330.0,185.3 L329.7,185.9 L329.3,186.7 L329.0,187.6 L328.6,188.6 L328.1,189.7 L327.6,190.9 L327.1,192.1Z" fill="#f3eec4" stroke="#6a6640" stroke-width="0.7"/><path d="M352.2,199.0 L353.9,198.6 L355.5,197.5 L357.1,195.8 L358.4,193.6 L359.6,191.3 L360.6,189.0 L361.5,186.9 L362.2,185.2 L362.8,184.1 L363.3,183.7 L353.8,183.9 L353.3,184.3 L352.7,185.4 L352.0,187.1 L351.1,189.2 L350.1,191.5 L348.9,193.9 L347.6,196.0 L346.0,197.7 L344.4,198.8 L342.7,199.2Z" fill="#f3eec4" stroke="#6a6640" stroke-width="0.7"/><path d="M375.2,198.4 L376.9,198.0 L378.5,196.9 L380.1,195.2 L381.4,193.1 L382.6,190.8 L383.6,188.4 L384.4,186.3 L385.1,184.6 L385.7,183.6 L386.3,183.2 L376.8,183.4 L376.2,183.8 L375.6,184.9 L375.0,186.5 L374.1,188.6 L373.1,191.0 L371.9,193.3 L370.6,195.5 L369.0,197.2 L367.4,198.3 L365.7,198.7Z" fill="#f3eec4" stroke="#6a6640" stroke-width="0.7"/><path d="M398.2,197.9 L399.9,197.5 L401.5,196.4 L403.1,194.7 L404.4,192.6 L405.6,190.2 L406.6,187.9 L407.4,185.8 L408.1,184.1 L408.7,183.0 L409.3,182.6 L399.8,182.9 L399.2,183.2 L398.6,184.3 L397.9,186.0 L397.1,188.1 L396.1,190.4 L394.9,192.8 L393.6,194.9 L392.0,196.6 L390.4,197.7 L388.7,198.1Z" fill="#f3eec4" stroke="#6a6640" stroke-width="0.7"/><path d="M421.2,197.4 L422.9,196.9 L424.5,195.8 L426.0,194.1 L427.4,192.0 L428.6,189.7 L429.6,187.3 L430.4,185.2 L431.1,183.6 L431.7,182.5 L432.3,182.1 L422.8,182.3 L422.2,182.7 L421.6,183.8 L420.9,185.5 L420.1,187.6 L419.1,189.9 L417.9,192.2 L416.5,194.4 L415.0,196.1 L413.4,197.2 L411.7,197.6Z" fill="#f3eec4" stroke="#6a6640" stroke-width="0.7"/><path d="M444.1,196.8 L445.9,196.4 L447.5,195.3 L449.0,193.6 L450.4,191.5 L451.6,189.1 L452.6,186.8 L453.4,184.7 L454.1,183.0 L454.7,181.9 L455.3,181.5 L445.8,181.8 L445.2,182.2 L444.6,183.2 L443.9,184.9 L443.1,187.0 L442.1,189.4 L440.9,191.7 L439.5,193.8 L438.0,195.5 L436.4,196.6 L434.6,197.0Z" fill="#f3eec4" stroke="#6a6640" stroke-width="0.7"/><path d="M467.1,196.3 L468.9,195.9 L470.5,194.8 L472.0,193.1 L473.4,190.9 L474.6,188.6 L475.6,186.3 L476.4,184.1 L477.1,182.5 L477.7,181.4 L478.3,181.0 L468.8,181.2 L468.2,181.6 L467.6,182.7 L466.9,184.4 L466.1,186.5 L465.1,188.8 L463.9,191.2 L462.5,193.3 L461.0,195.0 L459.4,196.1 L457.6,196.5Z" fill="#f3eec4" stroke="#6a6640" stroke-width="0.7"/><path d="M490.1,195.7 L491.9,195.3 L493.5,194.2 L495.0,192.5 L496.4,190.4 L497.6,188.1 L498.6,185.7 L499.4,183.6 L500.1,181.9 L500.7,180.8 L501.3,180.5 L491.8,180.7 L491.2,181.1 L490.6,182.2 L489.9,183.8 L489.1,185.9 L488.1,188.3 L486.9,190.6 L485.5,192.8 L484.0,194.4 L482.4,195.6 L480.6,196.0Z" fill="#f3eec4" stroke="#6a6640" stroke-width="0.7"/>
<path d="M192.1,202.8 L191.5,203.2 L191.0,204.6 L190.6,206.8 L190.5,209.6 L190.8,212.7 L191.6,215.9 L192.8,218.9 L194.4,221.3 L196.4,223.0 L198.6,223.7 L190.1,222.7 L187.9,221.9 L185.9,220.3 L184.3,217.8 L183.1,214.9 L182.4,211.7 L182.1,208.5 L182.2,205.7 L182.5,203.6 L183.1,202.2 L183.6,201.8Z" fill="#cdc690" stroke="#6a6640" stroke-width="0.7"/><path d="M209.9,205.0 L209.4,205.4 L208.8,206.8 L208.5,208.9 L208.4,211.7 L208.7,214.9 L209.4,218.1 L210.6,221.0 L212.3,223.5 L214.2,225.1 L216.4,225.9 L208.0,224.9 L205.8,224.1 L203.8,222.4 L202.2,220.0 L201.0,217.1 L200.3,213.9 L200.0,210.7 L200.0,207.9 L200.4,205.7 L200.9,204.4 L201.5,203.9Z" fill="#cdc690" stroke="#6a6640" stroke-width="0.7"/><path d="M227.8,207.1 L227.2,207.6 L226.7,208.9 L226.4,211.1 L226.3,213.9 L226.6,217.1 L227.3,220.3 L228.5,223.2 L230.1,225.6 L232.1,227.3 L234.3,228.1 L225.9,227.0 L223.7,226.3 L221.7,224.6 L220.1,222.2 L218.9,219.2 L218.1,216.0 L217.8,212.9 L217.9,210.1 L218.3,207.9 L218.8,206.5 L219.3,206.1Z" fill="#cdc690" stroke="#6a6640" stroke-width="0.7"/><path d="M245.7,209.3 L245.1,209.7 L244.6,211.1 L244.2,213.3 L244.1,216.1 L244.4,219.2 L245.2,222.4 L246.4,225.4 L248.0,227.8 L250.0,229.5 L252.2,230.3 L243.7,229.2 L241.5,228.5 L239.6,226.8 L237.9,224.4 L236.7,221.4 L236.0,218.2 L235.7,215.1 L235.8,212.3 L236.1,210.1 L236.7,208.7 L237.2,208.3Z" fill="#cdc690" stroke="#6a6640" stroke-width="0.7"/><path d="M263.5,211.5 L263.0,211.9 L262.5,213.3 L262.1,215.5 L262.0,218.3 L262.3,221.4 L263.1,224.6 L264.2,227.6 L265.9,230.0 L267.8,231.7 L270.0,232.4 L261.6,231.4 L259.4,230.6 L257.4,229.0 L255.8,226.5 L254.6,223.6 L253.9,220.4 L253.6,217.2 L253.7,214.4 L254.0,212.3 L254.5,210.9 L255.1,210.5Z" fill="#cdc690" stroke="#6a6640" stroke-width="0.7"/><path d="M281.4,213.7 L280.8,214.1 L280.3,215.5 L280.0,217.6 L279.9,220.4 L280.2,223.6 L280.9,226.8 L282.1,229.7 L283.7,232.2 L285.7,233.8 L287.9,234.6 L279.5,233.6 L277.3,232.8 L275.3,231.1 L273.7,228.7 L272.5,225.8 L271.7,222.6 L271.4,219.4 L271.5,216.6 L271.9,214.4 L272.4,213.1 L273.0,212.6Z" fill="#cdc690" stroke="#6a6640" stroke-width="0.7"/><path d="M299.3,215.8 L298.9,216.0 L298.5,216.7 L298.2,217.8 L297.9,219.2 L297.8,221.0 L297.8,223.0 L298.0,225.2 L298.4,227.5 L299.0,229.6 L299.8,231.7 L291.4,230.6 L290.6,228.6 L289.9,226.4 L289.5,224.2 L289.3,222.0 L289.3,220.0 L289.5,218.2 L289.7,216.7 L290.1,215.6 L290.4,215.0 L290.8,214.8Z" fill="#cdc690" stroke="#6a6640" stroke-width="0.7"/><path d="M192.6,204.5 L192.6,204.2 L192.6,203.9 L192.6,203.6 L192.5,203.4 L192.4,203.2 L192.4,203.1 L192.3,203.0 L192.2,202.9 L192.1,202.8 L192.1,202.8 L183.6,201.8 L183.7,201.8 L183.8,201.8 L183.9,201.9 L183.9,202.1 L184.0,202.2 L184.1,202.4 L184.1,202.6 L184.2,202.9 L184.2,203.1 L184.2,203.4Z" fill="#f3eec4" stroke="#6a6640" stroke-width="0.7"/><path d="M198.6,223.7 L200.9,223.5 L203.2,222.4 L205.4,220.4 L207.2,217.8 L208.7,214.9 L209.8,211.9 L210.4,209.2 L210.5,207.0 L210.3,205.5 L209.9,205.0 L201.5,203.9 L201.9,204.5 L202.1,205.9 L201.9,208.1 L201.3,210.9 L200.3,213.9 L198.8,216.8 L196.9,219.4 L194.8,221.3 L192.5,222.5 L190.1,222.7Z" fill="#f3eec4" stroke="#6a6640" stroke-width="0.7"/><path d="M216.4,225.9 L218.8,225.7 L221.1,224.5 L223.2,222.6 L225.1,220.0 L226.6,217.1 L227.6,214.1 L228.2,211.3 L228.4,209.1 L228.2,207.7 L227.8,207.1 L219.3,206.1 L219.8,206.7 L220.0,208.1 L219.8,210.3 L219.2,213.0 L218.1,216.0 L216.7,219.0 L214.8,221.5 L212.6,223.5 L210.3,224.7 L208.0,224.9Z" fill="#f3eec4" stroke="#6a6640" stroke-width="0.7"/><path d="M234.3,228.1 L236.6,227.9 L238.9,226.7 L241.1,224.8 L243.0,222.2 L244.4,219.2 L245.5,216.3 L246.1,213.5 L246.3,211.3 L246.1,209.9 L245.7,209.3 L237.2,208.3 L237.6,208.8 L237.8,210.3 L237.7,212.5 L237.1,215.2 L236.0,218.2 L234.5,221.1 L232.7,223.7 L230.5,225.7 L228.2,226.8 L225.9,227.0Z" fill="#f3eec4" stroke="#6a6640" stroke-width="0.7"/><path d="M252.2,230.3 L254.5,230.0 L256.8,228.9 L259.0,226.9 L260.8,224.3 L262.3,221.4 L263.4,218.4 L264.0,215.7 L264.1,213.5 L264.0,212.0 L263.5,211.5 L255.1,210.5 L255.5,211.0 L255.7,212.5 L255.5,214.7 L254.9,217.4 L253.9,220.4 L252.4,223.3 L250.5,225.9 L248.4,227.9 L246.1,229.0 L243.7,229.2Z" fill="#f3eec4" stroke="#6a6640" stroke-width="0.7"/><path d="M270.0,232.4 L272.4,232.2 L274.7,231.1 L276.8,229.1 L278.7,226.5 L280.2,223.6 L281.2,220.6 L281.8,217.9 L282.0,215.7 L281.8,214.2 L281.4,213.7 L273.0,212.6 L273.4,213.2 L273.6,214.6 L273.4,216.8 L272.8,219.6 L271.7,222.6 L270.3,225.5 L268.4,228.1 L266.2,230.0 L263.9,231.2 L261.6,231.4Z" fill="#f3eec4" stroke="#6a6640" stroke-width="0.7"/><path d="M287.9,234.6 L290.2,234.4 L292.6,233.2 L294.7,231.3 L296.6,228.7 L298.1,225.8 L299.1,222.8 L299.7,220.0 L299.9,217.8 L299.7,216.4 L299.3,215.8 L290.8,214.8 L291.2,215.4 L291.4,216.8 L291.3,219.0 L290.7,221.8 L289.6,224.7 L288.1,227.7 L286.3,230.2 L284.1,232.2 L281.8,233.4 L279.5,233.6Z" fill="#f3eec4" stroke="#6a6640" stroke-width="0.7"/>
<path d="M311.9,215.4 L312.0,216.0 L312.2,217.7 L312.4,220.4 L312.8,223.8 L313.5,227.7 L314.6,231.5 L316.0,235.1 L317.8,238.0 L319.9,240.0 L322.3,240.8 L312.4,239.6 L310.0,238.7 L307.9,236.8 L306.1,233.9 L304.6,230.3 L303.6,226.4 L302.9,222.6 L302.5,219.2 L302.2,216.5 L302.1,214.8 L301.9,214.1Z" fill="#cdc690" stroke="#6a6640" stroke-width="0.7"/><path d="M338.6,218.7 L338.8,219.3 L338.9,221.0 L339.2,223.7 L339.6,227.2 L340.3,231.0 L341.4,234.8 L342.8,238.4 L344.6,241.3 L346.7,243.3 L349.1,244.2 L339.2,242.9 L336.8,242.0 L334.7,240.1 L332.9,237.2 L331.4,233.6 L330.4,229.8 L329.7,225.9 L329.2,222.5 L329.0,219.8 L328.9,218.1 L328.7,217.5Z" fill="#cdc690" stroke="#6a6640" stroke-width="0.7"/><path d="M365.4,222.0 L365.6,222.6 L365.7,224.3 L366.0,227.0 L366.4,230.5 L367.1,234.3 L368.2,238.2 L369.6,241.7 L371.4,244.6 L373.5,246.6 L375.9,247.5 L366.0,246.2 L363.6,245.4 L361.5,243.4 L359.7,240.5 L358.2,236.9 L357.2,233.1 L356.5,229.2 L356.0,225.8 L355.8,223.1 L355.7,221.4 L355.5,220.8Z" fill="#cdc690" stroke="#6a6640" stroke-width="0.7"/><path d="M392.2,225.3 L392.4,225.9 L392.5,227.7 L392.8,230.4 L393.2,233.8 L393.9,237.6 L395.0,241.5 L396.4,245.0 L398.2,247.9 L400.3,249.9 L402.7,250.8 L392.8,249.6 L390.4,248.7 L388.3,246.7 L386.5,243.8 L385.0,240.2 L384.0,236.4 L383.3,232.6 L382.8,229.1 L382.6,226.4 L382.5,224.7 L382.3,224.1Z" fill="#cdc690" stroke="#6a6640" stroke-width="0.7"/><path d="M419.0,228.6 L419.2,229.2 L419.3,231.0 L419.6,233.7 L420.0,237.1 L420.7,240.9 L421.8,244.8 L423.2,248.3 L425.0,251.2 L427.1,253.2 L429.5,254.1 L419.6,252.9 L417.2,252.0 L415.1,250.0 L413.3,247.1 L411.8,243.6 L410.8,239.7 L410.1,235.9 L409.6,232.4 L409.4,229.7 L409.3,228.0 L409.1,227.4Z" fill="#cdc690" stroke="#6a6640" stroke-width="0.7"/><path d="M445.8,231.9 L446.0,232.5 L446.1,234.3 L446.4,237.0 L446.8,240.4 L447.5,244.2 L448.5,248.1 L450.0,251.6 L451.8,254.5 L453.9,256.5 L456.3,257.4 L446.4,256.2 L444.0,255.3 L441.9,253.3 L440.1,250.4 L438.6,246.9 L437.6,243.0 L436.9,239.2 L436.4,235.8 L436.2,233.1 L436.1,231.3 L435.9,230.7Z" fill="#cdc690" stroke="#6a6640" stroke-width="0.7"/><path d="M472.6,235.2 L472.8,235.7 L472.9,237.1 L473.1,239.2 L473.3,242.0 L473.8,245.2 L474.6,248.7 L475.6,252.0 L476.9,255.1 L478.4,257.7 L480.3,259.5 L470.4,258.3 L468.5,256.4 L466.9,253.9 L465.6,250.8 L464.6,247.4 L463.9,244.0 L463.4,240.8 L463.1,238.0 L463.0,235.9 L462.9,234.5 L462.7,234.0Z" fill="#cdc690" stroke="#6a6640" stroke-width="0.7"/><path d="M308.8,223.5 L309.4,222.1 L309.9,220.9 L310.3,219.7 L310.7,218.6 L311.0,217.6 L311.2,216.8 L311.5,216.2 L311.6,215.7 L311.8,215.5 L311.9,215.4 L301.9,214.1 L301.8,214.2 L301.7,214.5 L301.5,215.0 L301.3,215.6 L301.1,216.4 L300.7,217.3 L300.4,218.4 L299.9,219.6 L299.4,220.9 L298.9,222.3Z" fill="#f3eec4" stroke="#6a6640" stroke-width="0.7"/><path d="M322.3,240.8 L324.8,240.6 L327.4,239.2 L329.8,236.8 L332.1,233.7 L334.1,230.2 L335.7,226.7 L336.9,223.5 L337.8,220.9 L338.3,219.2 L338.6,218.7 L328.7,217.5 L328.4,218.0 L327.9,219.7 L327.0,222.2 L325.7,225.4 L324.1,229.0 L322.2,232.5 L319.9,235.6 L317.4,237.9 L314.9,239.3 L312.4,239.6Z" fill="#f3eec4" stroke="#6a6640" stroke-width="0.7"/><path d="M349.1,244.2 L351.6,243.9 L354.2,242.5 L356.6,240.1 L358.9,237.0 L360.8,233.5 L362.5,230.0 L363.7,226.8 L364.6,224.2 L365.1,222.6 L365.4,222.0 L355.5,220.8 L355.2,221.3 L354.7,223.0 L353.8,225.5 L352.5,228.8 L350.9,232.3 L349.0,235.8 L346.7,238.9 L344.2,241.2 L341.7,242.7 L339.2,242.9Z" fill="#f3eec4" stroke="#6a6640" stroke-width="0.7"/><path d="M375.9,247.5 L378.4,247.2 L381.0,245.8 L383.4,243.4 L385.7,240.3 L387.6,236.8 L389.3,233.3 L390.5,230.1 L391.4,227.5 L391.9,225.9 L392.2,225.3 L382.3,224.1 L382.0,224.6 L381.5,226.3 L380.6,228.9 L379.3,232.1 L377.7,235.6 L375.7,239.1 L373.5,242.2 L371.0,244.6 L368.5,246.0 L366.0,246.2Z" fill="#f3eec4" stroke="#6a6640" stroke-width="0.7"/><path d="M402.7,250.8 L405.2,250.5 L407.8,249.1 L410.2,246.7 L412.5,243.6 L414.4,240.1 L416.1,236.6 L417.3,233.4 L418.2,230.8 L418.7,229.2 L419.0,228.6 L409.1,227.4 L408.8,227.9 L408.3,229.6 L407.4,232.2 L406.1,235.4 L404.5,238.9 L402.5,242.4 L400.3,245.5 L397.8,247.9 L395.3,249.3 L392.8,249.6Z" fill="#f3eec4" stroke="#6a6640" stroke-width="0.7"/><path d="M429.5,254.1 L432.0,253.8 L434.6,252.4 L437.0,250.0 L439.3,246.9 L441.2,243.5 L442.9,239.9 L444.1,236.7 L445.0,234.1 L445.5,232.5 L445.8,231.9 L435.9,230.7 L435.6,231.3 L435.0,232.9 L434.2,235.5 L432.9,238.7 L431.3,242.2 L429.3,245.7 L427.1,248.8 L424.6,251.2 L422.1,252.6 L419.6,252.9Z" fill="#f3eec4" stroke="#6a6640" stroke-width="0.7"/><path d="M456.3,257.4 L458.8,257.1 L461.3,255.7 L463.8,253.4 L466.1,250.3 L468.0,246.8 L469.7,243.2 L470.9,240.0 L471.8,237.4 L472.3,235.8 L472.6,235.2 L462.7,234.0 L462.4,234.6 L461.8,236.2 L461.0,238.8 L459.7,242.0 L458.1,245.5 L456.1,249.0 L453.9,252.1 L451.4,254.5 L448.9,255.9 L446.4,256.2Z" fill="#f3eec4" stroke="#6a6640" stroke-width="0.7"/>
<path d="M433.0,165.0 C435.8,165.8 445.2,170.8 450.0,170.0 C454.8,169.2 458.3,163.3 462.0,160.0 C465.7,156.7 467.3,153.3 472.0,150.0 C476.7,146.7 484.5,143.7 490.0,140.0 C495.5,136.3 500.0,131.3 505.0,128.0 C510.0,124.7 515.5,124.7 520.0,120.0 C524.5,115.3 527.0,104.7 532.0,100.0 C537.0,95.3 543.3,93.0 550.0,92.0 C556.7,91.0 565.3,92.0 572.0,94.0 C578.7,96.0 585.3,99.0 590.0,104.0 C594.7,109.0 595.8,119.3 600.0,124.0 C604.2,128.7 610.0,131.0 615.0,132.0 C620.0,133.0 627.5,130.3 630.0,130.0" fill="none" stroke="#3a0510" stroke-width="4.4" stroke-linecap="round" stroke-linejoin="round"/><path d="M433.0,165.0 C435.8,165.8 445.2,170.8 450.0,170.0 C454.8,169.2 458.3,163.3 462.0,160.0 C465.7,156.7 467.3,153.3 472.0,150.0 C476.7,146.7 484.5,143.7 490.0,140.0 C495.5,136.3 500.0,131.3 505.0,128.0 C510.0,124.7 515.5,124.7 520.0,120.0 C524.5,115.3 527.0,104.7 532.0,100.0 C537.0,95.3 543.3,93.0 550.0,92.0 C556.7,91.0 565.3,92.0 572.0,94.0 C578.7,96.0 585.3,99.0 590.0,104.0 C594.7,109.0 595.8,119.3 600.0,124.0 C604.2,128.7 610.0,131.0 615.0,132.0 C620.0,133.0 627.5,130.3 630.0,130.0" fill="none" stroke="#921434" stroke-width="3.2" stroke-linecap="round" stroke-linejoin="round"/>
<path d="M383.0,182.0 C385.5,181.3 392.7,180.0 398.0,178.0 C403.3,176.0 409.3,171.0 415.0,170.0 C420.7,169.0 427.0,173.7 432.0,172.0 C437.0,170.3 442.8,162.0 445.0,160.0" fill="none" stroke="#3a0510" stroke-width="4.2" stroke-linecap="round" stroke-linejoin="round"/><path d="M383.0,182.0 C385.5,181.3 392.7,180.0 398.0,178.0 C403.3,176.0 409.3,171.0 415.0,170.0 C420.7,169.0 427.0,173.7 432.0,172.0 C437.0,170.3 442.8,162.0 445.0,160.0" fill="none" stroke="#921434" stroke-width="3" stroke-linecap="round" stroke-linejoin="round"/>
<path d="M530.0,176.0 C533.0,178.0 543.0,184.0 548.0,188.0 C553.0,192.0 555.5,196.0 560.0,200.0 C564.5,204.0 570.8,207.7 575.0,212.0 C579.2,216.3 582.2,221.7 585.0,226.0 C587.8,230.3 590.8,236.0 592.0,238.0" fill="none" stroke="#3a0510" stroke-width="4.2" stroke-linecap="round" stroke-linejoin="round"/><path d="M530.0,176.0 C533.0,178.0 543.0,184.0 548.0,188.0 C553.0,192.0 555.5,196.0 560.0,200.0 C564.5,204.0 570.8,207.7 575.0,212.0 C579.2,216.3 582.2,221.7 585.0,226.0 C587.8,230.3 590.8,236.0 592.0,238.0" fill="none" stroke="#921434" stroke-width="3" stroke-linecap="round" stroke-linejoin="round"/>
<path d="M598.0,132.0 C600.3,134.7 608.0,142.3 612.0,148.0 C616.0,153.7 622.0,161.0 622.0,166.0 C622.0,171.0 616.2,175.3 612.0,178.0 C607.8,180.7 601.5,182.3 597.0,182.0 C592.5,181.7 587.0,177.0 585.0,176.0" fill="none" stroke="#3a0510" stroke-width="4.2" stroke-linecap="round" stroke-linejoin="round"/><path d="M598.0,132.0 C600.3,134.7 608.0,142.3 612.0,148.0 C616.0,153.7 622.0,161.0 622.0,166.0 C622.0,171.0 616.2,175.3 612.0,178.0 C607.8,180.7 601.5,182.3 597.0,182.0 C592.5,181.7 587.0,177.0 585.0,176.0" fill="none" stroke="#921434" stroke-width="3" stroke-linecap="round" stroke-linejoin="round"/>
<path d="M503.0,196.0 C503.8,198.3 506.3,205.3 508.0,210.0 C509.7,214.7 512.2,221.7 513.0,224.0" fill="none" stroke="#3a0510" stroke-width="4.4" stroke-linecap="round" stroke-linejoin="round"/><path d="M503.0,196.0 C503.8,198.3 506.3,205.3 508.0,210.0 C509.7,214.7 512.2,221.7 513.0,224.0" fill="none" stroke="#921434" stroke-width="3.2" stroke-linecap="round" stroke-linejoin="round"/>
<path d="M520.0,205.0 C521.2,207.8 522.8,217.5 527.0,222.0 C531.2,226.5 539.2,230.3 545.0,232.0 C550.8,233.7 557.0,233.7 562.0,232.0 C567.0,230.3 572.3,225.3 575.0,222.0 C577.7,218.7 577.5,213.7 578.0,212.0" fill="none" stroke="#3a0510" stroke-width="4.2" stroke-linecap="round" stroke-linejoin="round"/><path d="M520.0,205.0 C521.2,207.8 522.8,217.5 527.0,222.0 C531.2,226.5 539.2,230.3 545.0,232.0 C550.8,233.7 557.0,233.7 562.0,232.0 C567.0,230.3 572.3,225.3 575.0,222.0 C577.7,218.7 577.5,213.7 578.0,212.0" fill="none" stroke="#921434" stroke-width="3" stroke-linecap="round" stroke-linejoin="round"/>
<path d="M454.0,236.0 C456.7,237.3 465.7,243.3 470.0,244.0 C474.3,244.7 477.7,242.7 480.0,240.0 C482.3,237.3 483.3,230.0 484.0,228.0" fill="none" stroke="#3a0510" stroke-width="4.2" stroke-linecap="round" stroke-linejoin="round"/><path d="M454.0,236.0 C456.7,237.3 465.7,243.3 470.0,244.0 C474.3,244.7 477.7,242.7 480.0,240.0 C482.3,237.3 483.3,230.0 484.0,228.0" fill="none" stroke="#921434" stroke-width="3" stroke-linecap="round" stroke-linejoin="round"/>
<path d="M544.8,119.4 L545.3,118.8 L547.0,117.8 L549.8,116.4 L553.5,115.1 L557.8,113.9 L562.5,113.2 L567.0,113.2 L571.1,114.0 L574.3,115.7 L576.6,118.1 L572.0,110.3 L569.8,107.9 L566.5,106.3 L562.4,105.5 L557.9,105.5 L553.3,106.2 L548.9,107.3 L545.2,108.7 L542.4,110.0 L540.7,111.1 L540.3,111.6Z" fill="#600a20" stroke="#30000c" stroke-width="0.7"/><path d="M560.1,145.2 L560.5,144.7 L562.2,143.6 L565.0,142.3 L568.7,140.9 L573.1,139.8 L577.7,139.1 L582.2,139.1 L586.3,139.9 L589.6,141.5 L591.8,143.9 L587.2,136.2 L585.0,133.7 L581.7,132.1 L577.7,131.3 L573.1,131.3 L568.5,132.0 L564.2,133.1 L560.4,134.5 L557.6,135.9 L556.0,136.9 L555.5,137.5Z" fill="#600a20" stroke="#30000c" stroke-width="0.7"/><path d="M575.3,171.1 L575.8,170.5 L577.5,169.5 L580.3,168.1 L584.0,166.7 L588.3,165.6 L593.0,164.9 L597.5,164.9 L601.5,165.7 L604.8,167.3 L607.0,169.8 L602.5,162.0 L600.2,159.6 L597.0,158.0 L592.9,157.2 L588.4,157.2 L583.8,157.8 L579.4,159.0 L575.7,160.4 L572.9,161.7 L571.2,162.8 L570.7,163.3Z" fill="#600a20" stroke="#30000c" stroke-width="0.7"/><path d="M551.0,115.5 L550.0,116.3 L549.1,117.1 L548.2,117.7 L547.4,118.2 L546.7,118.7 L546.1,119.0 L545.6,119.2 L545.2,119.4 L544.9,119.4 L544.8,119.4 L540.3,111.6 L540.4,111.7 L540.6,111.6 L541.0,111.5 L541.5,111.2 L542.1,110.9 L542.8,110.5 L543.6,109.9 L544.5,109.3 L545.4,108.6 L546.4,107.8Z" fill="#921434" stroke="#30000c" stroke-width="0.7"/><path d="M576.6,118.1 L577.6,121.2 L577.5,124.9 L576.2,128.8 L574.0,132.8 L571.2,136.5 L568.1,139.7 L565.0,142.3 L562.5,144.1 L560.8,145.1 L560.1,145.2 L555.5,137.5 L556.2,137.3 L557.9,136.4 L560.5,134.6 L563.5,132.0 L566.6,128.7 L569.4,125.0 L571.6,121.0 L572.9,117.1 L573.0,113.5 L572.0,110.3Z" fill="#921434" stroke="#30000c" stroke-width="0.7"/><path d="M591.8,143.9 L592.9,147.1 L592.7,150.7 L591.4,154.6 L589.2,158.6 L586.4,162.3 L583.3,165.6 L580.3,168.2 L577.8,170.0 L576.0,170.9 L575.3,171.1 L570.7,163.3 L571.4,163.2 L573.2,162.2 L575.7,160.4 L578.7,157.8 L581.8,154.6 L584.7,150.8 L586.8,146.9 L588.1,143.0 L588.3,139.3 L587.2,136.2Z" fill="#921434" stroke="#30000c" stroke-width="0.7"/><path d="M607.0,169.8 L607.9,171.9 L608.2,174.3 L607.9,176.9 L607.0,179.6 L605.7,182.4 L604.0,185.1 L602.0,187.7 L599.9,190.1 L597.7,192.2 L595.6,193.9 L591.1,186.2 L593.1,184.4 L595.3,182.3 L597.4,180.0 L599.4,177.4 L601.1,174.6 L602.4,171.9 L603.3,169.1 L603.6,166.5 L603.3,164.1 L602.5,162.0Z" fill="#921434" stroke="#30000c" stroke-width="0.7"/>
<path d="M534.9,111.9 L533.8,111.3 L532.9,109.9 L532.6,107.8 L532.8,105.3 L533.6,102.6 L535.1,100.0 L537.1,97.8 L539.5,96.2 L542.1,95.3 L544.8,95.3 L538.9,94.4 L536.2,94.4 L533.6,95.2 L531.2,96.8 L529.2,99.0 L527.7,101.6 L526.9,104.3 L526.7,106.8 L527.0,108.9 L527.9,110.3 L529.0,111.0Z" fill="#600a20" stroke="#30000c" stroke-width="0.7"/><path d="M548.7,114.2 L547.6,113.6 L546.8,112.2 L546.4,110.1 L546.6,107.6 L547.5,104.9 L548.9,102.3 L550.9,100.1 L553.3,98.5 L555.9,97.6 L558.6,97.6 L552.7,96.7 L550.0,96.7 L547.4,97.5 L545.0,99.1 L543.0,101.3 L541.5,103.9 L540.7,106.6 L540.5,109.1 L540.8,111.2 L541.7,112.6 L542.8,113.3Z" fill="#600a20" stroke="#30000c" stroke-width="0.7"/><path d="M562.6,116.5 L561.4,115.9 L560.6,114.5 L560.2,112.4 L560.4,109.9 L561.3,107.2 L562.7,104.6 L564.7,102.4 L567.1,100.8 L569.7,99.9 L572.4,99.9 L566.5,99.0 L563.8,99.0 L561.2,99.8 L558.8,101.4 L556.8,103.6 L555.4,106.2 L554.5,108.9 L554.3,111.4 L554.6,113.5 L555.5,114.9 L556.6,115.6Z" fill="#600a20" stroke="#30000c" stroke-width="0.7"/><path d="M576.4,118.9 L575.2,118.2 L574.4,116.8 L574.0,114.7 L574.2,112.2 L575.1,109.5 L576.5,106.9 L578.5,104.7 L580.9,103.1 L583.5,102.2 L586.2,102.2 L580.3,101.3 L577.6,101.3 L575.0,102.1 L572.6,103.7 L570.6,105.9 L569.2,108.5 L568.3,111.2 L568.1,113.7 L568.5,115.8 L569.3,117.2 L570.4,117.9Z" fill="#600a20" stroke="#30000c" stroke-width="0.7"/><path d="M590.2,121.2 L589.9,121.1 L589.7,121.0 L589.5,120.9 L589.3,120.7 L589.1,120.6 L588.9,120.4 L588.7,120.1 L588.5,119.9 L588.4,119.6 L588.2,119.3 L582.3,118.3 L582.5,118.6 L582.6,118.9 L582.8,119.1 L583.0,119.4 L583.1,119.6 L583.4,119.8 L583.6,119.9 L583.8,120.0 L584.0,120.1 L584.3,120.2Z" fill="#600a20" stroke="#30000c" stroke-width="0.7"/><path d="M539.2,103.5 L539.2,105.0 L539.1,106.3 L538.9,107.6 L538.5,108.8 L538.0,109.8 L537.5,110.6 L536.9,111.3 L536.2,111.7 L535.6,111.9 L534.9,111.9 L529.0,111.0 L529.7,111.0 L530.3,110.7 L531.0,110.3 L531.6,109.6 L532.1,108.8 L532.6,107.8 L532.9,106.6 L533.2,105.4 L533.3,104.0 L533.3,102.5Z" fill="#921434" stroke="#30000c" stroke-width="0.7"/><path d="M544.8,95.3 L547.3,96.2 L549.5,97.9 L551.3,100.2 L552.4,102.9 L553.0,105.8 L552.9,108.6 L552.3,111.1 L551.3,112.9 L550.0,114.0 L548.7,114.2 L542.8,113.3 L544.1,113.0 L545.4,111.9 L546.4,110.1 L547.0,107.7 L547.1,104.8 L546.5,101.9 L545.4,99.2 L543.6,96.9 L541.4,95.2 L538.9,94.4Z" fill="#921434" stroke="#30000c" stroke-width="0.7"/><path d="M558.6,97.6 L561.1,98.5 L563.4,100.2 L565.1,102.5 L566.3,105.2 L566.8,108.1 L566.7,110.9 L566.1,113.4 L565.1,115.2 L563.9,116.3 L562.6,116.5 L556.6,115.6 L557.9,115.3 L559.2,114.2 L560.2,112.4 L560.8,110.0 L560.9,107.1 L560.3,104.2 L559.2,101.5 L557.4,99.2 L555.2,97.5 L552.7,96.7Z" fill="#921434" stroke="#30000c" stroke-width="0.7"/><path d="M572.4,99.9 L575.0,100.8 L577.2,102.5 L578.9,104.8 L580.1,107.5 L580.6,110.4 L580.5,113.2 L579.9,115.7 L578.9,117.5 L577.7,118.6 L576.4,118.9 L570.4,117.9 L571.7,117.6 L573.0,116.5 L574.0,114.7 L574.6,112.3 L574.7,109.4 L574.1,106.5 L573.0,103.8 L571.2,101.5 L569.0,99.8 L566.5,99.0Z" fill="#921434" stroke="#30000c" stroke-width="0.7"/><path d="M586.2,102.2 L588.8,103.1 L591.0,104.8 L592.7,107.1 L593.9,109.8 L594.4,112.7 L594.3,115.5 L593.7,118.0 L592.7,119.8 L591.5,120.9 L590.2,121.2 L584.3,120.2 L585.6,119.9 L586.8,118.8 L587.8,117.0 L588.4,114.6 L588.5,111.7 L588.0,108.8 L586.8,106.1 L585.1,103.8 L582.8,102.1 L580.3,101.3Z" fill="#921434" stroke="#30000c" stroke-width="0.7"/>
<path d="M512.5,206.9 L509.8,206.7 L507.3,205.3 L505.1,202.7 L503.7,199.3 L503.1,195.3 L503.6,191.2 L505.0,187.3 L507.4,183.9 L510.6,181.6 L514.3,180.3 L509.3,181.1 L505.7,182.4 L502.5,184.8 L500.1,188.1 L498.6,192.0 L498.2,196.1 L498.7,200.1 L500.2,203.5 L502.3,206.1 L504.9,207.5 L507.6,207.8Z" fill="#600a20" stroke="#30000c" stroke-width="0.7"/><path d="M524.4,205.0 L521.7,204.8 L519.1,203.4 L517.0,200.8 L515.5,197.4 L515.0,193.4 L515.4,189.2 L516.9,185.3 L519.3,182.0 L522.4,179.6 L526.1,178.4 L521.2,179.2 L517.5,180.4 L514.4,182.8 L512.0,186.1 L510.5,190.0 L510.0,194.2 L510.6,198.2 L512.0,201.6 L514.2,204.2 L516.7,205.6 L519.4,205.8Z" fill="#600a20" stroke="#30000c" stroke-width="0.7"/><path d="M536.2,203.1 L533.5,202.9 L531.0,201.4 L528.8,198.9 L527.4,195.4 L526.8,191.4 L527.3,187.3 L528.7,183.4 L531.1,180.1 L534.3,177.7 L537.9,176.5 L533.0,177.3 L529.4,178.5 L526.2,180.9 L523.8,184.2 L522.3,188.1 L521.9,192.3 L522.4,196.2 L523.9,199.7 L526.0,202.2 L528.6,203.7 L531.3,203.9Z" fill="#600a20" stroke="#30000c" stroke-width="0.7"/><path d="M548.0,201.2 L546.0,201.1 L544.0,200.3 L542.1,198.9 L540.6,196.8 L539.4,194.2 L538.8,191.3 L538.7,188.2 L539.2,185.0 L540.3,182.0 L541.9,179.4 L537.0,180.2 L535.4,182.8 L534.3,185.8 L533.8,189.0 L533.8,192.1 L534.5,195.0 L535.6,197.6 L537.2,199.7 L539.1,201.1 L541.1,201.9 L543.1,202.0Z" fill="#600a20" stroke="#30000c" stroke-width="0.7"/><path d="M517.7,192.9 L518.2,194.9 L518.5,196.9 L518.5,198.8 L518.2,200.6 L517.7,202.2 L517.0,203.7 L516.1,204.9 L515.0,205.9 L513.8,206.6 L512.5,206.9 L507.6,207.8 L508.9,207.4 L510.1,206.7 L511.1,205.7 L512.0,204.5 L512.7,203.1 L513.2,201.4 L513.5,199.6 L513.5,197.7 L513.3,195.7 L512.8,193.7Z" fill="#921434" stroke="#30000c" stroke-width="0.7"/><path d="M514.3,180.3 L518.1,180.3 L521.9,181.6 L525.2,184.0 L527.8,187.2 L529.6,191.0 L530.3,194.9 L530.0,198.7 L528.8,201.8 L526.8,204.0 L524.4,205.0 L519.4,205.8 L521.9,204.8 L523.9,202.6 L525.1,199.5 L525.4,195.8 L524.6,191.8 L522.9,188.0 L520.3,184.8 L516.9,182.4 L513.2,181.1 L509.3,181.1Z" fill="#921434" stroke="#30000c" stroke-width="0.7"/><path d="M526.1,178.4 L530.0,178.4 L533.7,179.7 L537.0,182.0 L539.7,185.3 L541.4,189.1 L542.2,193.0 L541.9,196.7 L540.7,199.9 L538.7,202.0 L536.2,203.1 L531.3,203.9 L533.7,202.8 L535.7,200.7 L536.9,197.5 L537.2,193.8 L536.5,189.9 L534.7,186.1 L532.1,182.8 L528.8,180.5 L525.0,179.2 L521.2,179.2Z" fill="#921434" stroke="#30000c" stroke-width="0.7"/><path d="M537.9,176.5 L541.8,176.5 L545.6,177.7 L548.9,180.1 L551.5,183.4 L553.3,187.1 L554.0,191.1 L553.7,194.8 L552.5,197.9 L550.5,200.1 L548.0,201.2 L543.1,202.0 L545.6,200.9 L547.6,198.7 L548.8,195.6 L549.1,191.9 L548.3,187.9 L546.6,184.2 L544.0,180.9 L540.6,178.5 L536.9,177.3 L533.0,177.3Z" fill="#921434" stroke="#30000c" stroke-width="0.7"/>
<path d="M471.2,151.5 L470.8,150.7 L471.1,149.0 L472.0,146.8 L473.7,144.2 L476.0,141.6 L478.8,139.3 L481.8,137.5 L484.8,136.5 L487.7,136.4 L490.2,137.3 L484.2,133.7 L481.7,132.8 L478.8,132.9 L475.8,133.9 L472.8,135.7 L470.0,138.0 L467.7,140.6 L466.0,143.2 L465.1,145.4 L464.8,147.1 L465.2,147.9Z" fill="#600a20" stroke="#30000c" stroke-width="0.7"/><path d="M486.6,160.8 L486.2,159.9 L486.5,158.3 L487.5,156.0 L489.1,153.5 L491.4,150.9 L494.2,148.5 L497.2,146.8 L500.3,145.8 L503.2,145.7 L505.7,146.6 L499.7,143.0 L497.2,142.1 L494.3,142.2 L491.2,143.2 L488.2,144.9 L485.4,147.3 L483.1,149.9 L481.5,152.4 L480.5,154.7 L480.2,156.3 L480.6,157.2Z" fill="#600a20" stroke="#30000c" stroke-width="0.7"/><path d="M502.1,170.1 L501.7,169.2 L501.9,167.5 L502.9,165.3 L504.6,162.7 L506.9,160.1 L509.6,157.8 L512.6,156.0 L515.7,155.0 L518.6,155.0 L521.1,155.8 L515.1,152.2 L512.6,151.4 L509.7,151.4 L506.6,152.4 L503.6,154.2 L500.9,156.5 L498.6,159.1 L496.9,161.7 L495.9,163.9 L495.7,165.6 L496.1,166.5Z" fill="#600a20" stroke="#30000c" stroke-width="0.7"/><path d="M477.7,142.6 L477.2,144.3 L476.5,145.9 L475.8,147.3 L475.0,148.6 L474.3,149.6 L473.5,150.5 L472.8,151.1 L472.2,151.5 L471.6,151.6 L471.2,151.5 L465.2,147.9 L465.6,148.0 L466.2,147.9 L466.8,147.5 L467.5,146.9 L468.3,146.0 L469.0,145.0 L469.8,143.7 L470.5,142.3 L471.2,140.7 L471.7,139.0Z" fill="#921434" stroke="#30000c" stroke-width="0.7"/><path d="M490.2,137.3 L492.2,139.1 L493.5,141.7 L494.0,144.9 L493.9,148.4 L493.2,151.9 L491.9,155.1 L490.5,157.8 L488.9,159.7 L487.6,160.8 L486.6,160.8 L480.6,157.2 L481.6,157.2 L482.9,156.1 L484.5,154.2 L485.9,151.5 L487.1,148.3 L487.9,144.8 L488.0,141.3 L487.5,138.1 L486.2,135.5 L484.2,133.7Z" fill="#921434" stroke="#30000c" stroke-width="0.7"/><path d="M505.7,146.6 L507.6,148.4 L508.9,151.0 L509.5,154.1 L509.3,157.6 L508.6,161.2 L507.4,164.4 L505.9,167.1 L504.4,169.0 L503.0,170.0 L502.1,170.1 L496.1,166.5 L497.0,166.4 L498.4,165.4 L499.9,163.5 L501.4,160.8 L502.6,157.6 L503.3,154.0 L503.5,150.5 L502.9,147.4 L501.6,144.8 L499.7,143.0Z" fill="#921434" stroke="#30000c" stroke-width="0.7"/><path d="M521.1,155.8 L523.0,157.6 L524.3,160.1 L524.9,163.2 L524.8,166.6 L524.1,170.0 L523.0,173.3 L521.6,176.0 L520.1,178.0 L518.7,179.2 L517.7,179.4 L511.7,175.8 L512.7,175.6 L514.1,174.4 L515.6,172.4 L517.0,169.7 L518.1,166.4 L518.8,163.0 L518.9,159.6 L518.3,156.5 L517.0,154.0 L515.1,152.2Z" fill="#921434" stroke="#30000c" stroke-width="0.7"/>
<path d="M378.5,197.4 L378.6,196.0 L379.7,194.5 L381.7,193.0 L384.5,191.8 L387.9,191.1 L391.5,190.9 L395.0,191.5 L398.0,192.7 L400.4,194.6 L401.9,197.1 L399.1,189.6 L397.6,187.2 L395.2,185.2 L392.1,184.0 L388.7,183.4 L385.1,183.6 L381.7,184.3 L378.9,185.5 L376.9,187.0 L375.8,188.5 L375.7,189.9Z" fill="#600a20" stroke="#30000c" stroke-width="0.7"/><path d="M384.1,212.3 L384.2,211.0 L385.3,209.5 L387.3,208.0 L390.2,206.8 L393.5,206.0 L397.1,205.9 L400.6,206.4 L403.6,207.7 L406.0,209.6 L407.5,212.1 L404.7,204.6 L403.2,202.1 L400.8,200.2 L397.8,199.0 L394.3,198.4 L390.7,198.5 L387.4,199.3 L384.5,200.5 L382.5,202.0 L381.4,203.5 L381.3,204.8Z" fill="#600a20" stroke="#30000c" stroke-width="0.7"/><path d="M389.7,227.3 L389.8,226.0 L390.9,224.4 L393.0,223.0 L395.8,221.8 L399.1,221.0 L402.7,220.9 L406.2,221.4 L409.3,222.7 L411.7,224.6 L413.2,227.1 L410.3,219.6 L408.8,217.1 L406.5,215.2 L403.4,213.9 L399.9,213.4 L396.3,213.5 L393.0,214.3 L390.1,215.5 L388.1,217.0 L387.0,218.5 L386.9,219.8Z" fill="#600a20" stroke="#30000c" stroke-width="0.7"/><path d="M389.7,195.9 L388.2,196.8 L386.7,197.6 L385.2,198.1 L383.8,198.5 L382.5,198.7 L381.3,198.7 L380.3,198.6 L379.4,198.3 L378.9,197.9 L378.5,197.4 L375.7,189.9 L376.0,190.4 L376.6,190.8 L377.5,191.1 L378.5,191.3 L379.7,191.2 L381.0,191.0 L382.4,190.6 L383.9,190.1 L385.4,189.3 L386.9,188.4Z" fill="#921434" stroke="#30000c" stroke-width="0.7"/><path d="M401.9,197.1 L402.4,200.0 L401.9,203.0 L400.4,206.0 L398.1,208.7 L395.3,210.9 L392.3,212.5 L389.4,213.5 L386.9,213.7 L385.1,213.3 L384.1,212.3 L381.3,204.8 L382.3,205.8 L384.1,206.2 L386.6,206.0 L389.5,205.1 L392.5,203.4 L395.3,201.2 L397.6,198.5 L399.1,195.5 L399.6,192.5 L399.1,189.6Z" fill="#921434" stroke="#30000c" stroke-width="0.7"/><path d="M407.5,212.1 L408.0,214.9 L407.5,218.0 L406.0,220.9 L403.7,223.6 L401.0,225.9 L397.9,227.5 L395.0,228.5 L392.5,228.7 L390.7,228.3 L389.7,227.3 L386.9,219.8 L387.9,220.8 L389.7,221.2 L392.2,221.0 L395.1,220.0 L398.1,218.4 L400.9,216.2 L403.2,213.4 L404.7,210.5 L405.2,207.5 L404.7,204.6Z" fill="#921434" stroke="#30000c" stroke-width="0.7"/><path d="M413.2,227.1 L413.6,229.7 L413.3,232.4 L412.1,235.1 L410.3,237.7 L407.9,239.9 L405.2,241.7 L402.5,242.9 L399.9,243.6 L397.8,243.7 L396.2,243.2 L393.4,235.7 L395.0,236.2 L397.1,236.1 L399.7,235.4 L402.4,234.2 L405.1,232.4 L407.5,230.2 L409.3,227.6 L410.5,224.9 L410.8,222.2 L410.3,219.6Z" fill="#921434" stroke="#30000c" stroke-width="0.7"/>
<path d="M407.3,218.4 L406.5,217.0 L406.8,214.8 L408.0,212.1 L410.1,209.2 L413.1,206.4 L416.6,204.1 L420.5,202.5 L424.5,202.0 L428.1,202.5 L431.2,204.1 L424.5,198.8 L421.4,197.2 L417.8,196.7 L413.8,197.3 L409.9,198.9 L406.4,201.2 L403.4,203.9 L401.3,206.9 L400.1,209.6 L399.9,211.8 L400.6,213.1Z" fill="#600a20" stroke="#30000c" stroke-width="0.7"/><path d="M423.0,230.7 L422.3,229.3 L422.5,227.1 L423.7,224.4 L425.9,221.5 L428.8,218.7 L432.4,216.4 L436.3,214.9 L440.2,214.3 L443.8,214.8 L446.9,216.4 L440.2,211.1 L437.1,209.5 L433.5,209.0 L429.6,209.6 L425.7,211.2 L422.1,213.5 L419.2,216.3 L417.0,219.2 L415.8,221.9 L415.6,224.1 L416.3,225.5Z" fill="#600a20" stroke="#30000c" stroke-width="0.7"/><path d="M438.8,243.0 L438.0,241.7 L438.3,239.5 L439.5,236.8 L441.6,233.8 L444.6,231.1 L448.1,228.7 L452.0,227.2 L456.0,226.6 L459.6,227.1 L462.7,228.7 L456.0,223.5 L452.9,221.9 L449.3,221.4 L445.3,222.0 L441.4,223.5 L437.9,225.8 L434.9,228.6 L432.8,231.5 L431.6,234.2 L431.4,236.4 L432.1,237.8Z" fill="#600a20" stroke="#30000c" stroke-width="0.7"/><path d="M411.9,217.3 L411.3,217.7 L410.7,218.1 L410.2,218.3 L409.7,218.5 L409.2,218.7 L408.7,218.7 L408.3,218.7 L407.9,218.7 L407.6,218.6 L407.3,218.4 L400.6,213.1 L400.9,213.3 L401.2,213.4 L401.6,213.5 L402.0,213.5 L402.5,213.4 L403.0,213.3 L403.5,213.1 L404.1,212.8 L404.6,212.5 L405.2,212.1Z" fill="#921434" stroke="#30000c" stroke-width="0.7"/><path d="M431.2,204.1 L433.5,206.7 L434.8,210.1 L435.2,214.0 L434.6,218.2 L433.2,222.2 L431.2,225.7 L428.9,228.5 L426.6,230.3 L424.5,231.1 L423.0,230.7 L416.3,225.5 L417.8,225.8 L419.9,225.1 L422.2,223.3 L424.6,220.5 L426.5,216.9 L427.9,212.9 L428.5,208.8 L428.1,204.8 L426.8,201.4 L424.5,198.8Z" fill="#921434" stroke="#30000c" stroke-width="0.7"/><path d="M446.9,216.4 L449.2,219.0 L450.6,222.4 L450.9,226.3 L450.4,230.5 L449.0,234.5 L447.0,238.1 L444.7,240.8 L442.3,242.7 L440.3,243.4 L438.8,243.0 L432.1,237.8 L433.6,238.2 L435.6,237.4 L438.0,235.6 L440.3,232.8 L442.3,229.3 L443.7,225.3 L444.3,221.1 L443.9,217.2 L442.5,213.7 L440.2,211.1Z" fill="#921434" stroke="#30000c" stroke-width="0.7"/><path d="M462.7,228.7 L464.1,230.2 L465.3,231.9 L466.1,233.9 L466.6,236.2 L466.7,238.6 L466.5,241.1 L465.9,243.5 L465.1,245.9 L464.1,248.2 L462.8,250.2 L456.1,245.0 L457.4,243.0 L458.4,240.7 L459.2,238.3 L459.8,235.8 L460.0,233.3 L459.9,231.0 L459.4,228.7 L458.6,226.7 L457.4,224.9 L456.0,223.5Z" fill="#921434" stroke="#30000c" stroke-width="0.7"/>
<path d="M449.9,239.5 L448.7,237.8 L448.4,235.5 L449.0,232.6 L450.6,229.6 L453.1,226.8 L456.2,224.5 L459.7,223.0 L463.3,222.4 L466.7,222.9 L469.6,224.4 L464.5,220.4 L461.5,218.9 L458.1,218.4 L454.5,219.0 L451.0,220.6 L447.9,222.9 L445.5,225.7 L443.9,228.7 L443.2,231.5 L443.5,233.9 L444.7,235.5Z" fill="#600a20" stroke="#30000c" stroke-width="0.7"/><path d="M460.2,247.4 L459.0,245.7 L458.7,243.3 L459.4,240.5 L461.0,237.5 L463.4,234.7 L466.5,232.4 L470.0,230.9 L473.6,230.3 L477.0,230.8 L479.9,232.3 L474.8,228.3 L471.8,226.8 L468.4,226.3 L464.8,226.9 L461.3,228.5 L458.2,230.8 L455.8,233.6 L454.2,236.6 L453.5,239.4 L453.8,241.8 L455.0,243.4Z" fill="#600a20" stroke="#30000c" stroke-width="0.7"/><path d="M470.5,255.3 L469.3,253.6 L469.0,251.2 L469.7,248.4 L471.3,245.4 L473.7,242.6 L476.8,240.3 L480.3,238.8 L483.9,238.2 L487.3,238.7 L490.3,240.2 L485.1,236.2 L482.2,234.7 L478.8,234.2 L475.2,234.8 L471.7,236.4 L468.6,238.7 L466.1,241.5 L464.5,244.5 L463.9,247.3 L464.2,249.7 L465.4,251.3Z" fill="#600a20" stroke="#30000c" stroke-width="0.7"/><path d="M480.9,263.2 L480.7,263.1 L480.6,263.0 L480.5,262.8 L480.4,262.7 L480.3,262.6 L480.1,262.4 L480.0,262.3 L480.0,262.1 L479.9,262.0 L479.8,261.8 L474.6,257.9 L474.7,258.0 L474.8,258.2 L474.9,258.3 L475.0,258.5 L475.1,258.6 L475.2,258.8 L475.3,258.9 L475.4,259.0 L475.6,259.1 L475.7,259.2Z" fill="#600a20" stroke="#30000c" stroke-width="0.7"/><path d="M461.3,233.1 L460.3,234.7 L459.2,236.2 L458.0,237.4 L456.7,238.5 L455.4,239.3 L454.2,239.9 L452.9,240.2 L451.8,240.2 L450.7,240.0 L449.9,239.5 L444.7,235.5 L445.6,236.0 L446.6,236.2 L447.8,236.2 L449.0,235.9 L450.3,235.4 L451.6,234.5 L452.8,233.5 L454.0,232.2 L455.1,230.8 L456.1,229.1Z" fill="#921434" stroke="#30000c" stroke-width="0.7"/><path d="M469.6,224.4 L471.8,226.8 L473.2,230.0 L473.6,233.6 L473.0,237.4 L471.6,241.0 L469.5,244.1 L467.1,246.4 L464.5,247.8 L462.1,248.1 L460.2,247.4 L455.0,243.4 L456.9,244.1 L459.3,243.8 L461.9,242.4 L464.4,240.1 L466.4,237.0 L467.8,233.4 L468.4,229.7 L468.0,226.0 L466.7,222.9 L464.5,220.4Z" fill="#921434" stroke="#30000c" stroke-width="0.7"/><path d="M479.9,232.3 L482.2,234.7 L483.5,237.9 L483.9,241.5 L483.3,245.3 L481.9,248.9 L479.8,252.0 L477.4,254.3 L474.8,255.7 L472.4,256.0 L470.5,255.3 L465.4,251.3 L467.3,252.0 L469.6,251.7 L472.2,250.3 L474.7,248.0 L476.7,244.9 L478.2,241.3 L478.7,237.6 L478.3,233.9 L477.0,230.8 L474.8,228.3Z" fill="#921434" stroke="#30000c" stroke-width="0.7"/><path d="M490.3,240.2 L492.5,242.6 L493.8,245.8 L494.2,249.4 L493.6,253.2 L492.2,256.8 L490.2,259.9 L487.7,262.2 L485.1,263.6 L482.8,263.9 L480.9,263.2 L475.7,259.2 L477.6,259.9 L480.0,259.6 L482.5,258.2 L485.0,255.9 L487.1,252.8 L488.5,249.2 L489.0,245.5 L488.7,241.8 L487.3,238.6 L485.1,236.2Z" fill="#921434" stroke="#30000c" stroke-width="0.7"/>
<path d="M479.5,148.7 L479.1,147.7 L479.6,145.8 L480.8,143.5 L482.9,140.8 L485.6,138.2 L488.8,136.0 L492.2,134.4 L495.6,133.6 L498.6,133.8 L501.2,135.0 L494.8,130.2 L492.3,129.0 L489.2,128.8 L485.8,129.5 L482.4,131.2 L479.2,133.4 L476.5,136.0 L474.4,138.6 L473.2,141.0 L472.8,142.8 L473.2,143.9Z" fill="#600a20" stroke="#30000c" stroke-width="0.7"/><path d="M493.9,159.5 L493.5,158.5 L493.9,156.7 L495.2,154.3 L497.2,151.7 L499.9,149.1 L503.1,146.8 L506.5,145.2 L509.9,144.4 L513.0,144.6 L515.6,145.8 L509.2,141.0 L506.6,139.8 L503.5,139.6 L500.2,140.4 L496.8,142.0 L493.6,144.2 L490.8,146.8 L488.8,149.5 L487.5,151.9 L487.1,153.7 L487.5,154.7Z" fill="#600a20" stroke="#30000c" stroke-width="0.7"/><path d="M508.3,170.4 L507.9,169.4 L508.3,167.5 L509.5,165.2 L511.6,162.5 L514.3,159.9 L517.5,157.7 L520.9,156.1 L524.3,155.3 L527.4,155.5 L529.9,156.7 L523.5,151.9 L521.0,150.7 L517.9,150.5 L514.5,151.2 L511.1,152.9 L507.9,155.1 L505.2,157.7 L503.2,160.3 L501.9,162.7 L501.5,164.5 L501.9,165.6Z" fill="#600a20" stroke="#30000c" stroke-width="0.7"/><path d="M488.0,140.0 L487.1,141.8 L486.2,143.4 L485.2,144.8 L484.2,146.1 L483.3,147.1 L482.3,147.9 L481.4,148.5 L480.7,148.8 L480.0,148.9 L479.5,148.7 L473.2,143.9 L473.6,144.1 L474.3,144.0 L475.0,143.7 L475.9,143.1 L476.9,142.3 L477.9,141.2 L478.9,140.0 L479.8,138.5 L480.8,136.9 L481.6,135.2Z" fill="#921434" stroke="#30000c" stroke-width="0.7"/><path d="M501.2,135.0 L503.0,137.1 L504.1,140.0 L504.2,143.5 L503.6,147.2 L502.3,150.9 L500.6,154.2 L498.6,156.9 L496.7,158.8 L495.0,159.7 L493.9,159.5 L487.5,154.7 L488.6,154.8 L490.3,153.9 L492.2,152.1 L494.2,149.4 L496.0,146.1 L497.2,142.4 L497.9,138.7 L497.7,135.2 L496.7,132.3 L494.8,130.2Z" fill="#921434" stroke="#30000c" stroke-width="0.7"/><path d="M515.6,145.8 L517.4,148.0 L518.4,150.9 L518.6,154.3 L518.0,158.1 L516.7,161.7 L515.0,165.1 L513.0,167.8 L511.0,169.6 L509.4,170.5 L508.3,170.4 L501.9,165.6 L503.0,165.7 L504.6,164.8 L506.6,162.9 L508.6,160.2 L510.3,156.9 L511.6,153.2 L512.2,149.5 L512.0,146.0 L511.0,143.1 L509.2,141.0Z" fill="#921434" stroke="#30000c" stroke-width="0.7"/><path d="M529.9,156.7 L531.4,158.2 L532.4,160.3 L532.9,162.7 L532.9,165.4 L532.5,168.3 L531.6,171.1 L530.5,173.9 L529.1,176.3 L527.5,178.4 L526.0,179.9 L519.6,175.1 L521.2,173.5 L522.7,171.5 L524.1,169.0 L525.3,166.3 L526.1,163.5 L526.6,160.6 L526.5,157.9 L526.0,155.5 L525.0,153.4 L523.5,151.9Z" fill="#921434" stroke="#30000c" stroke-width="0.7"/>
<path d="M502.8,191.0 L502.6,189.8 L503.4,188.2 L505.0,186.6 L507.3,185.1 L510.2,183.9 L513.4,183.3 L516.6,183.2 L519.5,183.9 L521.9,185.3 L523.6,187.3 L520.2,181.2 L518.5,179.2 L516.1,177.8 L513.1,177.1 L509.9,177.2 L506.8,177.8 L503.9,179.0 L501.5,180.5 L499.9,182.1 L499.2,183.7 L499.3,184.9Z" fill="#600a20" stroke="#30000c" stroke-width="0.7"/><path d="M509.7,203.2 L509.5,202.0 L510.3,200.4 L511.9,198.8 L514.2,197.3 L517.1,196.1 L520.3,195.4 L523.5,195.4 L526.4,196.1 L528.8,197.4 L530.5,199.4 L527.1,193.3 L525.4,191.4 L523.0,190.0 L520.0,189.3 L516.8,189.3 L513.7,190.0 L510.8,191.2 L508.4,192.7 L506.8,194.3 L506.1,195.9 L506.2,197.1Z" fill="#600a20" stroke="#30000c" stroke-width="0.7"/><path d="M516.6,215.4 L516.4,214.9 L516.4,214.3 L516.5,213.7 L516.9,213.1 L517.3,212.4 L518.0,211.7 L518.7,211.0 L519.7,210.3 L520.7,209.7 L521.8,209.1 L518.4,203.0 L517.2,203.6 L516.2,204.2 L515.3,204.9 L514.5,205.6 L513.9,206.3 L513.4,207.0 L513.1,207.6 L512.9,208.3 L512.9,208.8 L513.1,209.3Z" fill="#600a20" stroke="#30000c" stroke-width="0.7"/><path d="M512.7,188.3 L511.5,189.3 L510.2,190.1 L508.9,190.8 L507.7,191.4 L506.5,191.7 L505.5,191.9 L504.5,191.9 L503.7,191.8 L503.1,191.5 L502.8,191.0 L499.3,184.9 L499.7,185.4 L500.3,185.7 L501.1,185.8 L502.0,185.8 L503.1,185.7 L504.2,185.3 L505.5,184.8 L506.7,184.1 L508.0,183.2 L509.2,182.2Z" fill="#921434" stroke="#30000c" stroke-width="0.7"/><path d="M523.6,187.3 L524.4,189.7 L524.4,192.5 L523.4,195.3 L521.8,198.1 L519.6,200.4 L517.1,202.3 L514.6,203.6 L512.4,204.1 L510.6,204.0 L509.7,203.2 L506.2,197.1 L507.2,197.9 L508.9,198.0 L511.1,197.5 L513.6,196.2 L516.1,194.4 L518.3,192.0 L520.0,189.2 L520.9,186.4 L521.0,183.6 L520.2,181.2Z" fill="#921434" stroke="#30000c" stroke-width="0.7"/><path d="M530.5,199.4 L531.3,201.9 L531.3,204.7 L530.3,207.5 L528.7,210.2 L526.5,212.6 L524.0,214.5 L521.5,215.7 L519.3,216.3 L517.6,216.1 L516.6,215.4 L513.1,209.3 L514.1,210.1 L515.8,210.2 L518.0,209.7 L520.5,208.4 L523.0,206.5 L525.2,204.1 L526.9,201.4 L527.8,198.6 L527.9,195.8 L527.1,193.3Z" fill="#921434" stroke="#30000c" stroke-width="0.7"/>
<path d="M597.9,150.6 L597.7,149.8 L598.2,148.5 L599.4,146.9 L601.2,145.2 L603.5,143.5 L606.2,142.2 L608.9,141.4 L611.5,141.2 L613.8,141.7 L615.6,142.8 L612.0,139.3 L610.2,138.1 L607.9,137.6 L605.3,137.9 L602.6,138.7 L600.0,140.0 L597.7,141.6 L595.9,143.4 L594.7,145.0 L594.2,146.3 L594.3,147.1Z" fill="#600a20" stroke="#30000c" stroke-width="0.7"/><path d="M607.8,160.5 L607.6,159.7 L608.1,158.4 L609.3,156.8 L611.1,155.1 L613.4,153.4 L616.1,152.1 L618.8,151.3 L621.4,151.1 L623.7,151.6 L625.5,152.7 L621.9,149.2 L620.1,148.0 L617.8,147.5 L615.2,147.8 L612.5,148.6 L609.9,149.9 L607.6,151.5 L605.8,153.3 L604.6,154.9 L604.1,156.2 L604.2,157.0Z" fill="#600a20" stroke="#30000c" stroke-width="0.7"/><path d="M617.7,170.4 L617.5,169.6 L618.0,168.3 L619.2,166.7 L621.0,165.0 L623.3,163.3 L626.0,162.0 L628.7,161.2 L631.3,161.0 L633.6,161.5 L635.4,162.6 L631.8,159.1 L630.0,157.9 L627.7,157.4 L625.1,157.7 L622.4,158.5 L619.8,159.8 L617.5,161.4 L615.7,163.2 L614.5,164.8 L614.0,166.1 L614.1,166.9Z" fill="#600a20" stroke="#30000c" stroke-width="0.7"/><path d="M604.9,144.9 L604.2,146.2 L603.3,147.3 L602.5,148.2 L601.6,149.1 L600.8,149.8 L600.0,150.3 L599.3,150.6 L598.7,150.8 L598.2,150.8 L597.9,150.6 L594.3,147.1 L594.7,147.2 L595.1,147.2 L595.7,147.1 L596.4,146.7 L597.2,146.2 L598.1,145.5 L598.9,144.7 L599.8,143.7 L600.6,142.6 L601.4,141.4Z" fill="#921434" stroke="#30000c" stroke-width="0.7"/><path d="M615.6,142.8 L616.7,144.6 L617.2,146.9 L617.0,149.5 L616.2,152.2 L614.8,154.8 L613.2,157.2 L611.5,159.0 L609.9,160.2 L608.6,160.7 L607.8,160.5 L604.2,157.0 L605.0,157.1 L606.3,156.6 L608.0,155.4 L609.7,153.6 L611.3,151.3 L612.6,148.7 L613.5,146.0 L613.7,143.4 L613.2,141.1 L612.0,139.3Z" fill="#921434" stroke="#30000c" stroke-width="0.7"/><path d="M625.5,152.7 L626.6,154.5 L627.1,156.8 L626.9,159.4 L626.1,162.1 L624.7,164.7 L623.1,167.1 L621.4,168.9 L619.8,170.1 L618.5,170.6 L617.7,170.4 L614.1,166.9 L614.9,167.0 L616.2,166.5 L617.9,165.3 L619.6,163.5 L621.2,161.2 L622.5,158.6 L623.4,155.9 L623.6,153.3 L623.1,151.0 L621.9,149.2Z" fill="#921434" stroke="#30000c" stroke-width="0.7"/><path d="M635.4,162.6 L636.1,163.6 L636.6,164.7 L636.9,165.9 L637.0,167.3 L636.9,168.8 L636.6,170.3 L636.0,171.8 L635.4,173.3 L634.6,174.8 L633.7,176.1 L630.1,172.6 L631.0,171.2 L631.8,169.8 L632.5,168.3 L633.0,166.8 L633.3,165.2 L633.5,163.8 L633.4,162.4 L633.1,161.1 L632.6,160.0 L631.8,159.1Z" fill="#921434" stroke="#30000c" stroke-width="0.7"/>
<path d="M359.0,247.4 L359.2,248.0 L359.2,249.8 L359.4,252.5 L359.6,256.0 L360.1,259.8 L361.0,263.8 L362.3,267.4 L363.9,270.4 L366.0,272.5 L368.4,273.6 L358.5,271.7 L356.2,270.7 L354.1,268.6 L352.4,265.6 L351.2,261.9 L350.3,258.0 L349.8,254.1 L349.5,250.7 L349.4,247.9 L349.3,246.2 L349.2,245.6Z" fill="#a85f30" stroke="#4a2508" stroke-width="0.7"/><path d="M386.5,252.5 L386.7,253.2 L386.8,254.9 L386.9,257.6 L387.1,261.1 L387.7,265.0 L388.5,268.9 L389.8,272.5 L391.5,275.5 L393.5,277.7 L395.9,278.7 L386.1,276.9 L383.7,275.8 L381.6,273.7 L380.0,270.7 L378.7,267.1 L377.8,263.1 L377.3,259.3 L377.1,255.8 L376.9,253.1 L376.9,251.3 L376.7,250.7Z" fill="#a85f30" stroke="#4a2508" stroke-width="0.7"/><path d="M414.0,257.7 L414.2,258.3 L414.3,260.1 L414.4,262.8 L414.7,266.2 L415.2,270.1 L416.1,274.0 L417.3,277.7 L419.0,280.7 L421.0,282.8 L423.4,283.8 L413.6,282.0 L411.2,281.0 L409.2,278.8 L407.5,275.8 L406.2,272.2 L405.4,268.3 L404.8,264.4 L404.6,260.9 L404.5,258.2 L404.4,256.5 L404.2,255.8Z" fill="#a85f30" stroke="#4a2508" stroke-width="0.7"/><path d="M441.6,262.8 L441.7,263.4 L441.8,265.2 L441.9,267.9 L442.2,271.4 L442.7,275.2 L443.6,279.2 L444.8,282.8 L446.5,285.8 L448.6,287.9 L450.9,289.0 L441.1,287.1 L438.7,286.1 L436.7,284.0 L435.0,281.0 L433.8,277.3 L432.9,273.4 L432.4,269.5 L432.1,266.1 L432.0,263.4 L431.9,261.6 L431.7,261.0Z" fill="#a85f30" stroke="#4a2508" stroke-width="0.7"/><path d="M469.1,267.9 L469.3,268.6 L469.4,270.3 L469.5,273.0 L469.7,276.5 L470.2,280.4 L471.1,284.3 L472.4,287.9 L474.0,290.9 L476.1,293.1 L478.5,294.1 L468.6,292.3 L466.3,291.2 L464.2,289.1 L462.5,286.1 L461.3,282.5 L460.4,278.5 L459.9,274.7 L459.6,271.2 L459.5,268.5 L459.4,266.7 L459.3,266.1Z" fill="#a85f30" stroke="#4a2508" stroke-width="0.7"/><path d="M496.6,273.1 L496.8,273.7 L496.9,275.5 L497.0,278.2 L497.2,281.6 L497.8,285.5 L498.6,289.4 L499.9,293.1 L501.6,296.1 L503.6,298.2 L506.0,299.2 L496.2,297.4 L493.8,296.4 L491.7,294.2 L490.1,291.2 L488.8,287.6 L487.9,283.7 L487.4,279.8 L487.2,276.3 L487.0,273.6 L487.0,271.9 L486.8,271.2Z" fill="#a85f30" stroke="#4a2508" stroke-width="0.7"/><path d="M524.1,278.2 L524.3,278.8 L524.4,280.6 L524.5,283.3 L524.8,286.8 L525.3,290.6 L526.2,294.6 L527.4,298.2 L529.1,301.2 L531.1,303.3 L533.5,304.4 L523.7,302.5 L521.3,301.5 L519.3,299.4 L517.6,296.4 L516.3,292.7 L515.5,288.8 L514.9,284.9 L514.7,281.5 L514.6,278.8 L514.5,277.0 L514.3,276.4Z" fill="#a85f30" stroke="#4a2508" stroke-width="0.7"/><path d="M353.5,258.6 L354.4,256.9 L355.3,255.2 L356.1,253.5 L356.8,252.0 L357.4,250.7 L357.9,249.5 L358.3,248.6 L358.6,247.9 L358.8,247.5 L359.0,247.4 L349.2,245.6 L349.0,245.7 L348.8,246.1 L348.5,246.8 L348.1,247.7 L347.6,248.9 L347.0,250.2 L346.3,251.7 L345.5,253.3 L344.6,255.0 L343.6,256.7Z" fill="#e3935a" stroke="#4a2508" stroke-width="0.7"/><path d="M368.4,273.6 L370.9,273.4 L373.6,272.2 L376.3,270.0 L378.8,267.1 L381.0,263.7 L382.9,260.3 L384.3,257.2 L385.4,254.7 L386.1,253.1 L386.5,252.5 L376.7,250.7 L376.3,251.2 L375.6,252.8 L374.5,255.3 L373.0,258.5 L371.1,261.9 L368.9,265.2 L366.4,268.2 L363.8,270.4 L361.1,271.6 L358.5,271.7Z" fill="#e3935a" stroke="#4a2508" stroke-width="0.7"/><path d="M395.9,278.7 L398.5,278.6 L401.1,277.3 L403.8,275.1 L406.3,272.2 L408.5,268.8 L410.4,265.4 L411.9,262.3 L413.0,259.8 L413.7,258.2 L414.0,257.7 L404.2,255.8 L403.8,256.4 L403.1,258.0 L402.0,260.5 L400.6,263.6 L398.7,267.0 L396.4,270.4 L394.0,273.3 L391.3,275.5 L388.6,276.7 L386.1,276.9Z" fill="#e3935a" stroke="#4a2508" stroke-width="0.7"/><path d="M423.4,283.8 L426.0,283.7 L428.7,282.5 L431.3,280.3 L433.8,277.3 L436.0,274.0 L437.9,270.6 L439.4,267.4 L440.5,264.9 L441.2,263.3 L441.6,262.8 L431.7,261.0 L431.4,261.5 L430.6,263.1 L429.6,265.6 L428.1,268.7 L426.2,272.1 L424.0,275.5 L421.5,278.4 L418.8,280.6 L416.2,281.9 L413.6,282.0Z" fill="#e3935a" stroke="#4a2508" stroke-width="0.7"/><path d="M450.9,289.0 L453.5,288.9 L456.2,287.6 L458.8,285.4 L461.3,282.5 L463.6,279.1 L465.4,275.7 L466.9,272.6 L468.0,270.1 L468.7,268.5 L469.1,267.9 L459.3,266.1 L458.9,266.6 L458.2,268.2 L457.1,270.7 L455.6,273.9 L453.7,277.3 L451.5,280.6 L449.0,283.6 L446.4,285.8 L443.7,287.0 L441.1,287.1Z" fill="#e3935a" stroke="#4a2508" stroke-width="0.7"/><path d="M478.5,294.1 L481.0,294.0 L483.7,292.7 L486.4,290.5 L488.9,287.6 L491.1,284.2 L493.0,280.8 L494.5,277.7 L495.5,275.2 L496.2,273.6 L496.6,273.1 L486.8,271.2 L486.4,271.8 L485.7,273.4 L484.6,275.9 L483.1,279.0 L481.3,282.4 L479.0,285.8 L476.5,288.7 L473.9,290.9 L471.2,292.2 L468.6,292.3Z" fill="#e3935a" stroke="#4a2508" stroke-width="0.7"/><path d="M506.0,299.2 L508.6,299.1 L511.2,297.9 L513.9,295.7 L516.4,292.7 L518.6,289.4 L520.5,286.0 L522.0,282.8 L523.1,280.3 L523.8,278.7 L524.1,278.2 L514.3,276.4 L513.9,276.9 L513.2,278.5 L512.1,281.0 L510.7,284.1 L508.8,287.5 L506.5,290.9 L504.1,293.8 L501.4,296.1 L498.7,297.3 L496.2,297.4Z" fill="#e3935a" stroke="#4a2508" stroke-width="0.7"/><path d="M533.5,304.4 L534.8,304.5 L536.2,304.2 L537.6,303.7 L539.0,302.8 L540.4,301.8 L541.8,300.4 L543.1,298.9 L544.3,297.3 L545.5,295.5 L546.6,293.7 L536.8,291.9 L535.7,293.7 L534.5,295.4 L533.3,297.1 L531.9,298.6 L530.6,299.9 L529.2,301.0 L527.8,301.8 L526.4,302.4 L525.0,302.6 L523.7,302.5Z" fill="#e3935a" stroke="#4a2508" stroke-width="0.7"/>
<path d="M531.0,253.0 C532.5,255.2 536.8,261.2 540.0,266.0 C543.2,270.8 547.0,276.7 550.0,282.0 C553.0,287.3 556.2,293.8 558.0,298.0 C559.8,302.2 561.8,306.3 561.0,307.0 C560.2,307.7 555.5,305.2 553.0,302.0 C550.5,298.8 548.2,289.7 546.0,288.0 C543.8,286.3 541.0,291.3 540.0,292.0" fill="none" stroke="#4a2508" stroke-width="5.2" stroke-linecap="round" stroke-linejoin="round"/><path d="M531.0,253.0 C532.5,255.2 536.8,261.2 540.0,266.0 C543.2,270.8 547.0,276.7 550.0,282.0 C553.0,287.3 556.2,293.8 558.0,298.0 C559.8,302.2 561.8,306.3 561.0,307.0 C560.2,307.7 555.5,305.2 553.0,302.0 C550.5,298.8 548.2,289.7 546.0,288.0 C543.8,286.3 541.0,291.3 540.0,292.0" fill="none" stroke="#e3935a" stroke-width="4" stroke-linecap="round" stroke-linejoin="round"/>
<path d="M202.0,145.8 L201.9,146.3 L201.5,147.5 L200.9,149.4 L200.4,151.9 L200.0,154.8 L199.9,157.9 L200.1,160.8 L200.8,163.3 L202.0,165.3 L203.6,166.6 L196.9,163.3 L195.2,162.1 L194.1,160.1 L193.4,157.5 L193.1,154.6 L193.2,151.6 L193.6,148.7 L194.2,146.2 L194.7,144.2 L195.2,143.0 L195.3,142.6Z" fill="#a85f30" stroke="#4a2508" stroke-width="0.7"/><path d="M220.9,155.0 L220.8,155.4 L220.4,156.6 L219.8,158.6 L219.3,161.1 L218.9,164.0 L218.8,167.0 L219.0,169.9 L219.7,172.5 L220.9,174.5 L222.5,175.8 L215.8,172.5 L214.1,171.2 L213.0,169.2 L212.3,166.7 L212.0,163.8 L212.1,160.7 L212.5,157.8 L213.1,155.3 L213.6,153.4 L214.0,152.1 L214.2,151.7Z" fill="#a85f30" stroke="#4a2508" stroke-width="0.7"/><path d="M239.8,164.2 L239.7,164.6 L239.3,165.8 L238.7,167.8 L238.2,170.3 L237.8,173.2 L237.7,176.2 L237.9,179.1 L238.6,181.7 L239.8,183.7 L241.4,184.9 L234.7,181.7 L233.0,180.4 L231.9,178.4 L231.2,175.8 L230.9,172.9 L231.0,169.9 L231.4,167.0 L232.0,164.5 L232.5,162.5 L232.9,161.3 L233.1,160.9Z" fill="#a85f30" stroke="#4a2508" stroke-width="0.7"/><path d="M258.7,173.3 L258.6,173.7 L258.2,175.0 L257.6,176.9 L257.1,179.4 L256.7,182.3 L256.5,185.4 L256.8,188.3 L257.5,190.8 L258.7,192.8 L260.3,194.1 L253.6,190.8 L251.9,189.5 L250.8,187.5 L250.1,185.0 L249.8,182.1 L249.9,179.1 L250.3,176.2 L250.9,173.6 L251.4,171.7 L251.8,170.5 L252.0,170.0Z" fill="#a85f30" stroke="#4a2508" stroke-width="0.7"/><path d="M277.6,182.5 L277.5,182.9 L277.1,184.1 L276.5,186.1 L276.0,188.6 L275.6,191.5 L275.4,194.5 L275.7,197.4 L276.4,200.0 L277.6,202.0 L279.2,203.3 L272.5,200.0 L270.8,198.7 L269.6,196.7 L268.9,194.2 L268.7,191.2 L268.8,188.2 L269.2,185.3 L269.8,182.8 L270.3,180.9 L270.7,179.6 L270.9,179.2Z" fill="#a85f30" stroke="#4a2508" stroke-width="0.7"/><path d="M296.5,191.6 L296.4,192.1 L296.0,193.3 L295.4,195.2 L294.9,197.8 L294.5,200.7 L294.3,203.7 L294.6,206.6 L295.3,209.1 L296.5,211.1 L298.1,212.4 L291.4,209.1 L289.7,207.9 L288.5,205.9 L287.8,203.3 L287.6,200.4 L287.7,197.4 L288.1,194.5 L288.7,192.0 L289.2,190.0 L289.6,188.8 L289.8,188.4Z" fill="#a85f30" stroke="#4a2508" stroke-width="0.7"/><path d="M315.4,200.8 L315.3,201.2 L314.9,202.5 L314.3,204.4 L313.8,206.9 L313.4,209.8 L313.2,212.8 L313.5,215.8 L314.2,218.3 L315.4,220.3 L317.0,221.6 L310.2,218.3 L308.6,217.0 L307.4,215.0 L306.7,212.5 L306.5,209.6 L306.6,206.5 L307.0,203.6 L307.6,201.1 L308.1,199.2 L308.5,198.0 L308.7,197.5Z" fill="#a85f30" stroke="#4a2508" stroke-width="0.7"/><path d="M196.2,153.0 L197.3,152.0 L198.2,150.9 L199.1,149.9 L199.9,148.9 L200.5,148.0 L201.1,147.3 L201.5,146.6 L201.8,146.2 L201.9,145.9 L202.0,145.8 L195.3,142.6 L195.2,142.6 L195.0,142.9 L194.7,143.4 L194.3,144.0 L193.8,144.8 L193.1,145.6 L192.4,146.6 L191.5,147.6 L190.5,148.7 L189.5,149.7Z" fill="#e3935a" stroke="#4a2508" stroke-width="0.7"/><path d="M203.6,166.6 L205.6,167.1 L207.9,166.8 L210.4,165.8 L212.8,164.1 L215.1,162.2 L217.1,160.1 L218.8,158.1 L219.9,156.4 L220.7,155.4 L220.9,155.0 L214.2,151.7 L213.9,152.1 L213.2,153.2 L212.0,154.8 L210.4,156.8 L208.4,158.9 L206.1,160.9 L203.6,162.5 L201.2,163.5 L198.9,163.8 L196.9,163.3Z" fill="#e3935a" stroke="#4a2508" stroke-width="0.7"/><path d="M222.5,175.8 L224.5,176.3 L226.8,175.9 L229.3,174.9 L231.7,173.3 L234.0,171.3 L236.0,169.2 L237.7,167.2 L238.8,165.6 L239.6,164.5 L239.8,164.2 L233.1,160.9 L232.8,161.2 L232.1,162.3 L230.9,164.0 L229.3,166.0 L227.3,168.1 L225.0,170.0 L222.5,171.6 L220.1,172.7 L217.8,173.0 L215.8,172.5Z" fill="#e3935a" stroke="#4a2508" stroke-width="0.7"/><path d="M241.4,184.9 L243.4,185.4 L245.7,185.1 L248.2,184.1 L250.6,182.5 L252.9,180.5 L254.9,178.4 L256.6,176.4 L257.7,174.8 L258.5,173.7 L258.7,173.3 L252.0,170.0 L251.7,170.4 L251.0,171.5 L249.8,173.1 L248.2,175.1 L246.1,177.2 L243.9,179.2 L241.4,180.8 L239.0,181.8 L236.7,182.1 L234.7,181.7Z" fill="#e3935a" stroke="#4a2508" stroke-width="0.7"/><path d="M260.3,194.1 L262.3,194.6 L264.6,194.3 L267.1,193.2 L269.5,191.6 L271.8,189.7 L273.8,187.5 L275.4,185.6 L276.6,183.9 L277.3,182.8 L277.6,182.5 L270.9,179.2 L270.6,179.6 L269.9,180.6 L268.7,182.3 L267.1,184.3 L265.0,186.4 L262.7,188.4 L260.3,190.0 L257.9,191.0 L255.6,191.3 L253.6,190.8Z" fill="#e3935a" stroke="#4a2508" stroke-width="0.7"/><path d="M279.2,203.3 L281.2,203.7 L283.5,203.4 L286.0,202.4 L288.4,200.8 L290.7,198.8 L292.7,196.7 L294.3,194.7 L295.5,193.1 L296.2,192.0 L296.5,191.6 L289.8,188.4 L289.5,188.7 L288.8,189.8 L287.6,191.4 L286.0,193.4 L283.9,195.5 L281.6,197.5 L279.2,199.1 L276.8,200.2 L274.5,200.5 L272.5,200.0Z" fill="#e3935a" stroke="#4a2508" stroke-width="0.7"/><path d="M298.1,212.4 L300.1,212.9 L302.4,212.6 L304.8,211.6 L307.3,210.0 L309.6,208.0 L311.6,205.9 L313.2,203.9 L314.4,202.2 L315.1,201.2 L315.4,200.8 L308.7,197.5 L308.4,197.9 L307.7,199.0 L306.5,200.6 L304.9,202.6 L302.8,204.7 L300.5,206.7 L298.1,208.3 L295.7,209.3 L293.4,209.6 L291.4,209.1Z" fill="#e3935a" stroke="#4a2508" stroke-width="0.7"/><path d="M317.0,221.6 L317.9,221.9 L318.9,222.1 L319.9,222.0 L321.0,221.8 L322.2,221.5 L323.3,220.9 L324.5,220.3 L325.6,219.5 L326.8,218.7 L327.8,217.7 L321.1,214.5 L320.0,215.4 L318.9,216.3 L317.7,217.0 L316.6,217.7 L315.4,218.2 L314.3,218.6 L313.2,218.8 L312.1,218.8 L311.2,218.6 L310.2,218.3Z" fill="#e3935a" stroke="#4a2508" stroke-width="0.7"/>
<path d="M157.3,154.7 L158.5,151.6 L161.4,149.0 L165.7,147.5 L171.0,147.2 L176.8,148.4 L182.5,151.0 L187.6,155.0 L191.4,160.2 L193.7,166.1 L194.2,172.4 L194.7,164.4 L194.2,158.1 L192.0,152.2 L188.1,147.1 L183.1,143.0 L177.4,140.4 L171.6,139.2 L166.3,139.5 L161.9,141.0 L159.1,143.6 L157.9,146.7Z" fill="#a85f30" stroke="#4a2508" stroke-width="0.7"/><path d="M155.2,184.6 L156.3,181.5 L159.2,179.0 L163.6,177.4 L168.9,177.1 L174.7,178.3 L180.4,180.9 L185.4,185.0 L189.3,190.1 L191.5,196.0 L192.0,202.3 L192.6,194.3 L192.1,188.1 L189.8,182.1 L186.0,177.0 L181.0,173.0 L175.3,170.3 L169.5,169.1 L164.1,169.4 L159.8,171.0 L156.9,173.5 L155.8,176.6Z" fill="#a85f30" stroke="#4a2508" stroke-width="0.7"/><path d="M153.1,214.5 L154.2,211.4 L157.1,208.9 L161.4,207.3 L166.8,207.0 L172.6,208.2 L178.3,210.9 L183.3,214.9 L187.1,220.0 L189.4,226.0 L189.9,232.2 L190.5,224.2 L190.0,218.0 L187.7,212.1 L183.8,206.9 L178.8,202.9 L173.1,200.2 L167.3,199.1 L162.0,199.3 L157.7,200.9 L154.8,203.4 L153.6,206.6Z" fill="#a85f30" stroke="#4a2508" stroke-width="0.7"/><path d="M170.1,164.1 L167.8,163.8 L165.7,163.4 L163.8,162.7 L162.1,161.9 L160.6,160.9 L159.4,159.8 L158.4,158.6 L157.8,157.3 L157.4,156.0 L157.3,154.7 L157.9,146.7 L158.0,148.0 L158.3,149.4 L159.0,150.6 L159.9,151.8 L161.2,152.9 L162.7,153.9 L164.4,154.8 L166.3,155.4 L168.4,155.9 L170.6,156.1Z" fill="#e3935a" stroke="#4a2508" stroke-width="0.7"/><path d="M194.2,172.4 L192.8,178.5 L189.7,184.0 L185.2,188.6 L179.6,191.8 L173.6,193.6 L167.7,194.0 L162.5,192.9 L158.4,190.8 L155.9,187.9 L155.2,184.6 L155.8,176.6 L156.5,179.9 L159.0,182.8 L163.0,185.0 L168.3,186.0 L174.2,185.7 L180.2,183.8 L185.7,180.6 L190.3,176.0 L193.4,170.5 L194.7,164.4Z" fill="#e3935a" stroke="#4a2508" stroke-width="0.7"/><path d="M192.0,202.3 L190.7,208.4 L187.6,213.9 L183.0,218.5 L177.5,221.8 L171.5,223.6 L165.5,223.9 L160.3,222.9 L156.3,220.7 L153.8,217.8 L153.1,214.5 L153.6,206.6 L154.3,209.8 L156.8,212.7 L160.9,214.9 L166.1,215.9 L172.0,215.6 L178.0,213.8 L183.6,210.5 L188.1,205.9 L191.2,200.4 L192.6,194.3Z" fill="#e3935a" stroke="#4a2508" stroke-width="0.7"/><path d="M189.9,232.2 L189.8,233.5 L189.5,234.8 L189.2,236.1 L188.9,237.4 L188.4,238.6 L187.9,239.8 L187.3,241.0 L186.6,242.2 L185.8,243.3 L185.0,244.3 L185.6,236.4 L186.4,235.3 L187.2,234.2 L187.8,233.0 L188.4,231.8 L189.0,230.6 L189.4,229.4 L189.8,228.1 L190.1,226.8 L190.3,225.5 L190.5,224.2Z" fill="#e3935a" stroke="#4a2508" stroke-width="0.7"/>
<path d="M190.0,212.0 C193.3,212.2 204.3,212.0 210.0,213.0 C215.7,214.0 221.2,214.8 224.0,218.0 C226.8,221.2 227.7,227.5 227.0,232.0 C226.3,236.5 222.5,241.2 220.0,245.0 C217.5,248.8 213.3,253.3 212.0,255.0" fill="none" stroke="#4a2508" stroke-width="5.0" stroke-linecap="round" stroke-linejoin="round"/><path d="M190.0,212.0 C193.3,212.2 204.3,212.0 210.0,213.0 C215.7,214.0 221.2,214.8 224.0,218.0 C226.8,221.2 227.7,227.5 227.0,232.0 C226.3,236.5 222.5,241.2 220.0,245.0 C217.5,248.8 213.3,253.3 212.0,255.0" fill="none" stroke="#e3935a" stroke-width="3.8" stroke-linecap="round" stroke-linejoin="round"/>
<path d="M305,206.5 L429.5,232.5 L540,162" fill="none" stroke="#6cc430" stroke-width="6.5" stroke-linejoin="round"/>
<path d="M305,206.5 L429.5,232.5 L540,162" fill="none" stroke="#88e23e" stroke-width="5" stroke-linejoin="round"/>
<path d="M300,205 L314,203 L312,212Z" fill="#88e23e"/>
<path d="M546,157 L533,160 L539,169Z" fill="#88e23e"/>
<line x1="308.3" y1="168.3" x2="307.4" y2="194.3" stroke="#8ccdf0" stroke-width="1.4"/>
<path d="M307.1,201.3 L303.9,194.2 L310.9,194.4Z" fill="#8ccdf0"/>
<line x1="423.2" y1="146.6" x2="430.0" y2="217.8" stroke="#8ccdf0" stroke-width="1.4"/>
<path d="M430.7,224.8 L426.5,218.2 L433.5,217.5Z" fill="#8ccdf0"/>
<line x1="493.1" y1="85.9" x2="531.8" y2="147.8" stroke="#8ccdf0" stroke-width="1.4"/>
<path d="M535.5,153.7 L528.8,149.6 L534.8,145.9Z" fill="#8ccdf0"/>
<g font-family='"Liberation Sans", sans-serif' font-size="11.5" fill="#333">
<text x="277" y="164.8" textLength="62.6" lengthAdjust="spacingAndGlyphs">End of IT arm</text>
<text x="410.5" y="142.9" textLength="26.5" lengthAdjust="spacingAndGlyphs">Hinge</text>
<text x="480" y="82.8" textLength="24.2" lengthAdjust="spacingAndGlyphs">Head</text>
</g>
<g opacity="0.8">
<path d="M1125.0,185.1 L1123.0,184.3 L1121.0,181.4 L1119.4,176.7 L1118.4,170.7 L1118.4,163.8 L1119.5,156.8 L1121.6,150.3 L1124.8,144.9 L1128.9,141.2 L1133.6,139.4 L1124.7,140.7 L1120.0,142.4 L1115.9,146.2 L1112.7,151.5 L1110.6,158.1 L1109.5,165.1 L1109.5,171.9 L1110.4,178.0 L1112.1,182.7 L1114.0,185.6 L1116.1,186.4Z" fill="#d8d8d8" stroke="#00000030" stroke-width="0.7"/><path d="M1154.7,180.8 L1152.7,180.0 L1150.7,177.2 L1149.1,172.5 L1148.1,166.4 L1148.1,159.6 L1149.2,152.5 L1151.3,146.0 L1154.5,140.7 L1158.6,136.9 L1163.3,135.2 L1154.4,136.4 L1149.7,138.2 L1145.6,141.9 L1142.4,147.3 L1140.3,153.8 L1139.2,160.8 L1139.2,167.7 L1140.1,173.8 L1141.8,178.4 L1143.7,181.3 L1145.8,182.1Z" fill="#d8d8d8" stroke="#00000030" stroke-width="0.7"/><path d="M1184.4,176.6 L1182.4,175.8 L1180.4,172.9 L1178.8,168.2 L1177.8,162.2 L1177.8,155.3 L1178.9,148.3 L1181.0,141.8 L1184.2,136.4 L1188.3,132.7 L1193.0,130.9 L1184.1,132.2 L1179.4,133.9 L1175.3,137.7 L1172.1,143.1 L1170.0,149.6 L1168.9,156.6 L1168.9,163.5 L1169.8,169.5 L1171.5,174.2 L1173.4,177.1 L1175.5,177.9Z" fill="#d8d8d8" stroke="#00000030" stroke-width="0.7"/><path d="M1214.1,172.4 L1212.9,172.2 L1211.8,171.3 L1210.6,169.7 L1209.5,167.5 L1208.6,164.8 L1208.0,161.6 L1207.5,158.0 L1207.4,154.1 L1207.6,150.1 L1208.1,146.1 L1199.2,147.3 L1198.7,151.4 L1198.5,155.4 L1198.6,159.2 L1199.0,162.8 L1199.7,166.0 L1200.6,168.8 L1201.7,171.0 L1202.9,172.5 L1204.0,173.4 L1205.2,173.6Z" fill="#d8d8d8" stroke="#00000030" stroke-width="0.7"/><path d="M1125.3,162.8 L1126.4,166.1 L1127.3,169.4 L1127.8,172.5 L1128.1,175.5 L1128.1,178.1 L1127.8,180.4 L1127.4,182.3 L1126.7,183.7 L1125.9,184.7 L1125.0,185.1 L1116.1,186.4 L1117.0,185.9 L1117.8,185.0 L1118.5,183.6 L1118.9,181.7 L1119.2,179.4 L1119.2,176.8 L1118.9,173.8 L1118.3,170.7 L1117.5,167.4 L1116.4,164.1Z" fill="#f4f4f4" stroke="#00000030" stroke-width="0.7"/><path d="M1133.6,139.4 L1138.6,139.8 L1143.6,142.2 L1148.2,146.5 L1152.1,152.1 L1155.0,158.6 L1157.0,165.2 L1157.8,171.2 L1157.5,176.2 L1156.4,179.5 L1154.7,180.8 L1145.8,182.1 L1147.5,180.8 L1148.6,177.5 L1148.9,172.5 L1148.0,166.4 L1146.1,159.8 L1143.2,153.4 L1139.3,147.8 L1134.7,143.5 L1129.7,141.0 L1124.7,140.7Z" fill="#f4f4f4" stroke="#00000030" stroke-width="0.7"/><path d="M1163.3,135.2 L1168.3,135.5 L1173.3,138.0 L1177.9,142.2 L1181.8,147.9 L1184.7,154.3 L1186.7,160.9 L1187.5,167.0 L1187.2,171.9 L1186.1,175.3 L1184.4,176.6 L1175.5,177.9 L1177.2,176.5 L1178.3,173.2 L1178.6,168.3 L1177.7,162.2 L1175.8,155.6 L1172.9,149.2 L1169.0,143.5 L1164.4,139.3 L1159.4,136.8 L1154.4,136.4Z" fill="#f4f4f4" stroke="#00000030" stroke-width="0.7"/><path d="M1193.0,130.9 L1198.0,131.3 L1203.0,133.7 L1207.6,138.0 L1211.5,143.6 L1214.4,150.1 L1216.4,156.7 L1217.2,162.8 L1216.9,167.7 L1215.8,171.0 L1214.1,172.4 L1205.2,173.6 L1206.9,172.3 L1208.0,169.0 L1208.2,164.0 L1207.4,157.9 L1205.5,151.4 L1202.6,144.9 L1198.7,139.3 L1194.1,135.0 L1189.1,132.6 L1184.1,132.2Z" fill="#f4f4f4" stroke="#00000030" stroke-width="0.7"/>
<path d="M1160.0,62.0 C1162.5,63.3 1170.0,69.3 1175.0,70.0 C1180.0,70.7 1185.0,68.5 1190.0,66.0 C1195.0,63.5 1200.8,57.7 1205.0,55.0 C1209.2,52.3 1213.3,50.8 1215.0,50.0" fill="none" stroke="#00000030" stroke-width="4.7" stroke-linecap="round" stroke-linejoin="round"/><path d="M1160.0,62.0 C1162.5,63.3 1170.0,69.3 1175.0,70.0 C1180.0,70.7 1185.0,68.5 1190.0,66.0 C1195.0,63.5 1200.8,57.7 1205.0,55.0 C1209.2,52.3 1213.3,50.8 1215.0,50.0" fill="none" stroke="#f0f0f0" stroke-width="3.5" stroke-linecap="round" stroke-linejoin="round"/>
<ellipse cx="1185" cy="82" rx="17" ry="12" fill="none" stroke="#e8e8e8" stroke-width="4"/>
<path d="M1195.0,195.0 C1196.7,196.7 1202.2,202.2 1205.0,205.0 C1207.8,207.8 1210.8,210.8 1212.0,212.0" fill="none" stroke="#00000030" stroke-width="4.7" stroke-linecap="round" stroke-linejoin="round"/><path d="M1195.0,195.0 C1196.7,196.7 1202.2,202.2 1205.0,205.0 C1207.8,207.8 1210.8,210.8 1212.0,212.0" fill="none" stroke="#f0f0f0" stroke-width="3.5" stroke-linecap="round" stroke-linejoin="round"/>
</g>
<path d="M1040.0,83.0 C1037.5,80.8 1029.7,72.3 1025.0,70.0 C1020.3,67.7 1016.5,67.7 1012.0,69.0 C1007.5,70.3 1002.5,75.2 998.0,78.0 C993.5,80.8 989.3,82.8 985.0,86.0 C980.7,89.2 973.8,92.3 972.0,97.0 C970.2,101.7 971.0,109.2 974.0,114.0 C977.0,118.8 984.8,122.7 990.0,126.0 C995.2,129.3 1000.0,130.7 1005.0,134.0 C1010.0,137.3 1016.8,141.7 1020.0,146.0 C1023.2,150.3 1025.7,155.0 1024.0,160.0 C1022.3,165.0 1015.3,173.3 1010.0,176.0 C1004.7,178.7 996.7,177.3 992.0,176.0 C987.3,174.7 983.7,169.3 982.0,168.0" fill="none" stroke="#8a8a8a" stroke-width="5.4" stroke-linecap="round" stroke-linejoin="round"/><path d="M1040.0,83.0 C1037.5,80.8 1029.7,72.3 1025.0,70.0 C1020.3,67.7 1016.5,67.7 1012.0,69.0 C1007.5,70.3 1002.5,75.2 998.0,78.0 C993.5,80.8 989.3,82.8 985.0,86.0 C980.7,89.2 973.8,92.3 972.0,97.0 C970.2,101.7 971.0,109.2 974.0,114.0 C977.0,118.8 984.8,122.7 990.0,126.0 C995.2,129.3 1000.0,130.7 1005.0,134.0 C1010.0,137.3 1016.8,141.7 1020.0,146.0 C1023.2,150.3 1025.7,155.0 1024.0,160.0 C1022.3,165.0 1015.3,173.3 1010.0,176.0 C1004.7,178.7 996.7,177.3 992.0,176.0 C987.3,174.7 983.7,169.3 982.0,168.0" fill="none" stroke="#f2f2f2" stroke-width="3.8" stroke-linecap="round" stroke-linejoin="round"/>
<path d="M1000.0,75.0 C1003.7,74.2 1015.7,69.2 1022.0,70.0 C1028.3,70.8 1033.3,75.3 1038.0,80.0 C1042.7,84.7 1046.0,91.8 1050.0,98.0 C1054.0,104.2 1056.2,111.3 1062.0,117.0 C1067.8,122.7 1077.7,127.0 1085.0,132.0 C1092.3,137.0 1102.5,144.5 1106.0,147.0" fill="none" stroke="#8a8a8a" stroke-width="5.4" stroke-linecap="round" stroke-linejoin="round"/><path d="M1000.0,75.0 C1003.7,74.2 1015.7,69.2 1022.0,70.0 C1028.3,70.8 1033.3,75.3 1038.0,80.0 C1042.7,84.7 1046.0,91.8 1050.0,98.0 C1054.0,104.2 1056.2,111.3 1062.0,117.0 C1067.8,122.7 1077.7,127.0 1085.0,132.0 C1092.3,137.0 1102.5,144.5 1106.0,147.0" fill="none" stroke="#f2f2f2" stroke-width="3.8" stroke-linecap="round" stroke-linejoin="round"/>
<path d="M1062.0,117.0 C1065.8,117.3 1078.0,119.0 1085.0,119.0 C1092.0,119.0 1098.7,119.3 1104.0,117.0 C1109.3,114.7 1113.0,110.0 1117.0,105.0 C1121.0,100.0 1124.7,93.2 1128.0,87.0 C1131.3,80.8 1135.5,71.2 1137.0,68.0" fill="none" stroke="#8a8a8a" stroke-width="5.4" stroke-linecap="round" stroke-linejoin="round"/><path d="M1062.0,117.0 C1065.8,117.3 1078.0,119.0 1085.0,119.0 C1092.0,119.0 1098.7,119.3 1104.0,117.0 C1109.3,114.7 1113.0,110.0 1117.0,105.0 C1121.0,100.0 1124.7,93.2 1128.0,87.0 C1131.3,80.8 1135.5,71.2 1137.0,68.0" fill="none" stroke="#f2f2f2" stroke-width="3.8" stroke-linecap="round" stroke-linejoin="round"/>
<path d="M1135.0,75.0 C1134.5,79.2 1132.8,91.7 1132.0,100.0 C1131.2,108.3 1130.5,119.0 1130.0,125.0 C1129.5,131.0 1128.7,133.0 1129.0,136.0 C1129.3,139.0 1131.5,141.8 1132.0,143.0" fill="none" stroke="#8a8a8a" stroke-width="5.4" stroke-linecap="round" stroke-linejoin="round"/><path d="M1135.0,75.0 C1134.5,79.2 1132.8,91.7 1132.0,100.0 C1131.2,108.3 1130.5,119.0 1130.0,125.0 C1129.5,131.0 1128.7,133.0 1129.0,136.0 C1129.3,139.0 1131.5,141.8 1132.0,143.0" fill="none" stroke="#f2f2f2" stroke-width="3.8" stroke-linecap="round" stroke-linejoin="round"/>
<path d="M1026.0,196.0 C1028.3,196.5 1036.0,198.5 1040.0,199.0 C1044.0,199.5 1046.2,199.2 1050.0,199.0 C1053.8,198.8 1060.8,198.2 1063.0,198.0" fill="none" stroke="#00000030" stroke-width="3.5" stroke-linecap="round" stroke-linejoin="round"/><path d="M1026.0,196.0 C1028.3,196.5 1036.0,198.5 1040.0,199.0 C1044.0,199.5 1046.2,199.2 1050.0,199.0 C1053.8,198.8 1060.8,198.2 1063.0,198.0" fill="none" stroke="#e0e0e0" stroke-width="2.5" stroke-linecap="round" stroke-linejoin="round"/>
<ellipse cx="1001" cy="202" rx="20" ry="10.5" fill="none" stroke="#b8a070" stroke-width="5"/>
<ellipse cx="1001" cy="202" rx="20" ry="10.5" fill="none" stroke="#efd590" stroke-width="3.6"/>
<ellipse cx="1001" cy="192" rx="20" ry="10.5" fill="none" stroke="#b09555" stroke-width="5"/>
<ellipse cx="1001" cy="192" rx="20" ry="10.5" fill="none" stroke="#ebcb78" stroke-width="3.6"/>
<ellipse cx="1001" cy="182" rx="20" ry="10.5" fill="none" stroke="#a88a40" stroke-width="5"/>
<ellipse cx="1001" cy="182" rx="20" ry="10.5" fill="none" stroke="#e6c060" stroke-width="3.6"/>
<ellipse cx="1001" cy="172" rx="20" ry="10.5" fill="none" stroke="#a07a20" stroke-width="5"/>
<ellipse cx="1001" cy="172" rx="20" ry="10.5" fill="none" stroke="#e0b445" stroke-width="3.6"/>
<ellipse cx="1001" cy="162" rx="20" ry="10.5" fill="none" stroke="#9a7010" stroke-width="5"/>
<ellipse cx="1001" cy="162" rx="20" ry="10.5" fill="none" stroke="#d9a534" stroke-width="3.6"/>
<path d="M982.0,168.0 C983.3,170.0 986.2,177.7 990.0,180.0 C993.8,182.3 1000.3,182.7 1005.0,182.0 C1009.7,181.3 1014.8,178.8 1018.0,176.0 C1021.2,173.2 1023.0,166.8 1024.0,165.0" fill="none" stroke="#8a8a8a" stroke-width="5.4" stroke-linecap="round" stroke-linejoin="round"/><path d="M982.0,168.0 C983.3,170.0 986.2,177.7 990.0,180.0 C993.8,182.3 1000.3,182.7 1005.0,182.0 C1009.7,181.3 1014.8,178.8 1018.0,176.0 C1021.2,173.2 1023.0,166.8 1024.0,165.0" fill="none" stroke="#f2f2f2" stroke-width="3.8" stroke-linecap="round" stroke-linejoin="round"/>
<path d="M1000.0,66.0 C1003.1,62.2 1012.5,49.3 1018.8,43.3 C1025.1,37.3 1031.4,32.6 1037.7,30.1 C1044.0,27.6 1050.8,28.0 1056.5,28.3 C1062.2,28.6 1067.2,30.3 1071.6,32.0 C1076.0,33.7 1078.5,37.2 1082.9,38.6 C1087.3,40.0 1093.6,39.7 1098.0,40.5 C1102.4,41.3 1105.5,43.8 1109.3,43.3 C1113.1,42.8 1115.0,39.2 1120.6,37.7 C1126.2,36.2 1139.3,34.6 1143.0,34.0" fill="none" stroke="#3064b0" stroke-width="4.2" stroke-linecap="round" stroke-linejoin="round"/><path d="M1000.0,66.0 C1003.1,62.2 1012.5,49.3 1018.8,43.3 C1025.1,37.3 1031.4,32.6 1037.7,30.1 C1044.0,27.6 1050.8,28.0 1056.5,28.3 C1062.2,28.6 1067.2,30.3 1071.6,32.0 C1076.0,33.7 1078.5,37.2 1082.9,38.6 C1087.3,40.0 1093.6,39.7 1098.0,40.5 C1102.4,41.3 1105.5,43.8 1109.3,43.3 C1113.1,42.8 1115.0,39.2 1120.6,37.7 C1126.2,36.2 1139.3,34.6 1143.0,34.0" fill="none" stroke="#4a88dc" stroke-width="3.2" stroke-linecap="round" stroke-linejoin="round"/>
<path d="M1040.0,28.3 C1037.5,30.2 1030.5,34.7 1025.0,40.0 C1019.5,45.3 1012.4,55.3 1007.2,60.3 C1002.0,65.2 1000.3,67.2 994.0,69.7 C987.7,72.2 975.9,72.9 969.6,75.4 C963.3,77.9 960.8,79.2 956.4,84.8 C952.0,90.4 948.6,102.1 943.2,109.3 C937.9,116.5 929.3,121.8 924.3,128.1 C919.3,134.4 914.6,140.7 913.0,147.0 C911.4,153.3 913.6,161.4 914.9,165.8 C916.2,170.2 920.9,169.5 920.6,173.3 C920.3,177.1 914.0,180.2 913.0,188.4 C912.0,196.6 915.5,215.7 914.9,222.3 C914.3,228.9 913.4,225.8 909.3,228.0 C905.2,230.2 895.1,233.0 890.4,235.5 C885.7,238.0 882.6,241.8 881.0,243.0" fill="none" stroke="#3064b0" stroke-width="4.2" stroke-linecap="round" stroke-linejoin="round"/><path d="M1040.0,28.3 C1037.5,30.2 1030.5,34.7 1025.0,40.0 C1019.5,45.3 1012.4,55.3 1007.2,60.3 C1002.0,65.2 1000.3,67.2 994.0,69.7 C987.7,72.2 975.9,72.9 969.6,75.4 C963.3,77.9 960.8,79.2 956.4,84.8 C952.0,90.4 948.6,102.1 943.2,109.3 C937.9,116.5 929.3,121.8 924.3,128.1 C919.3,134.4 914.6,140.7 913.0,147.0 C911.4,153.3 913.6,161.4 914.9,165.8 C916.2,170.2 920.9,169.5 920.6,173.3 C920.3,177.1 914.0,180.2 913.0,188.4 C912.0,196.6 915.5,215.7 914.9,222.3 C914.3,228.9 913.4,225.8 909.3,228.0 C905.2,230.2 895.1,233.0 890.4,235.5 C885.7,238.0 882.6,241.8 881.0,243.0" fill="none" stroke="#4a88dc" stroke-width="3.2" stroke-linecap="round" stroke-linejoin="round"/>
<path d="M881.0,243.0 C878.5,242.7 871.3,244.2 866.0,241.1 C860.7,238.0 854.0,228.9 849.0,224.2 C844.0,219.5 837.8,216.2 836.0,213.0 C834.2,209.8 836.3,206.1 838.0,205.3 C839.7,204.5 842.9,205.8 846.0,208.0 C849.1,210.2 852.2,214.9 856.5,218.5 C860.8,222.1 867.7,226.9 871.6,229.8 C875.5,232.7 878.6,235.0 880.0,236.0" fill="none" stroke="#3064b0" stroke-width="4.8" stroke-linecap="round" stroke-linejoin="round"/><path d="M881.0,243.0 C878.5,242.7 871.3,244.2 866.0,241.1 C860.7,238.0 854.0,228.9 849.0,224.2 C844.0,219.5 837.8,216.2 836.0,213.0 C834.2,209.8 836.3,206.1 838.0,205.3 C839.7,204.5 842.9,205.8 846.0,208.0 C849.1,210.2 852.2,214.9 856.5,218.5 C860.8,222.1 867.7,226.9 871.6,229.8 C875.5,232.7 878.6,235.0 880.0,236.0" fill="none" stroke="#6a9ee0" stroke-width="3.6" stroke-linecap="round" stroke-linejoin="round"/>
<path d="M1160.0,34.0 C1163.3,33.8 1173.7,33.3 1180.0,33.0 C1186.3,32.7 1194.5,31.2 1197.8,32.0 C1201.1,32.8 1201.0,34.7 1199.7,37.7 C1198.4,40.7 1193.1,46.2 1190.0,50.0 C1186.9,53.8 1185.2,56.7 1180.9,60.3 C1176.6,63.9 1166.7,69.7 1163.9,71.6" fill="none" stroke="#3064b0" stroke-width="4.2" stroke-linecap="round" stroke-linejoin="round"/><path d="M1160.0,34.0 C1163.3,33.8 1173.7,33.3 1180.0,33.0 C1186.3,32.7 1194.5,31.2 1197.8,32.0 C1201.1,32.8 1201.0,34.7 1199.7,37.7 C1198.4,40.7 1193.1,46.2 1190.0,50.0 C1186.9,53.8 1185.2,56.7 1180.9,60.3 C1176.6,63.9 1166.7,69.7 1163.9,71.6" fill="none" stroke="#4a88dc" stroke-width="3.2" stroke-linecap="round" stroke-linejoin="round"/>
<path d="M1109.3,43.3 C1109.9,46.1 1111.1,54.9 1113.0,60.3 C1114.9,65.7 1116.5,72.3 1120.6,75.4 C1124.7,78.5 1132.6,79.2 1137.5,79.0 C1142.4,78.8 1146.6,77.2 1150.0,74.0 C1153.4,70.8 1156.7,62.3 1158.0,60.0" fill="none" stroke="#3064b0" stroke-width="5.0" stroke-linecap="round" stroke-linejoin="round"/><path d="M1109.3,43.3 C1109.9,46.1 1111.1,54.9 1113.0,60.3 C1114.9,65.7 1116.5,72.3 1120.6,75.4 C1124.7,78.5 1132.6,79.2 1137.5,79.0 C1142.4,78.8 1146.6,77.2 1150.0,74.0 C1153.4,70.8 1156.7,62.3 1158.0,60.0" fill="none" stroke="#5a94dc" stroke-width="3.8" stroke-linecap="round" stroke-linejoin="round"/>
<path d="M1122,35 L1150,30 L1165,45 L1160,70 L1155,75 L1150,50 L1125,45Z" fill="#3d72c4" stroke="#24508f" stroke-width="0.6"/>
<circle cx="1074.5" cy="20.5" r="2.8" fill="#d01010"/><circle cx="1110.2" cy="66" r="2.8" fill="#d01010"/>
<line x1="1082" y1="38" x2="1083" y2="24" stroke="#5a94dc" stroke-width="2"/><line x1="1083" y1="24" x2="1076" y2="21" stroke="#5a94dc" stroke-width="2"/>
<line x1="1109" y1="43" x2="1112" y2="60" stroke="#5a94dc" stroke-width="2"/>
<circle cx="1106.4" cy="90.4" r="7.6" fill="#6ccf2a"/><circle cx="1104.5" cy="88.5" r="3.5" fill="#9be860"/>
<path d="M845.0,182.7 C842.5,184.8 834.4,190.9 830.0,195.0 C825.6,199.1 821.3,202.0 818.8,207.2 C816.3,212.4 814.5,221.5 815.0,226.0 C815.5,230.5 819.2,232.0 822.0,234.0 C824.8,236.0 830.3,237.3 832.0,238.0" fill="none" stroke="#a88a60" stroke-width="4.8" stroke-linecap="round" stroke-linejoin="round"/><path d="M845.0,182.7 C842.5,184.8 834.4,190.9 830.0,195.0 C825.6,199.1 821.3,202.0 818.8,207.2 C816.3,212.4 814.5,221.5 815.0,226.0 C815.5,230.5 819.2,232.0 822.0,234.0 C824.8,236.0 830.3,237.3 832.0,238.0" fill="none" stroke="#e9d0a6" stroke-width="3.6" stroke-linecap="round" stroke-linejoin="round"/>
<path d="M847.0,231.5 L847.7,232.0 L848.7,233.5 L850.1,236.0 L851.9,239.0 L854.1,242.4 L856.6,245.7 L859.4,248.6 L862.3,250.7 L865.3,251.9 L868.2,252.0 L856.4,254.2 L853.5,254.1 L850.5,252.9 L847.6,250.8 L844.8,247.9 L842.3,244.6 L840.1,241.3 L838.3,238.2 L836.9,235.8 L835.9,234.2 L835.2,233.7Z" fill="#c8aa7c" stroke="#00000040" stroke-width="0.7"/><path d="M880.4,225.2 L880.9,225.4 L881.4,226.1 L882.1,227.3 L883.0,228.8 L884.1,230.7 L885.4,232.9 L886.8,235.1 L888.4,237.4 L890.2,239.6 L892.0,241.5 L880.2,243.8 L878.4,241.8 L876.6,239.6 L875.0,237.3 L873.6,235.1 L872.3,233.0 L871.2,231.1 L870.4,229.5 L869.6,228.3 L869.1,227.6 L868.6,227.4Z" fill="#c8aa7c" stroke="#00000040" stroke-width="0.7"/><path d="M844.4,244.2 L844.9,242.2 L845.2,240.3 L845.5,238.5 L845.8,236.8 L846.0,235.3 L846.2,234.0 L846.4,233.0 L846.6,232.2 L846.8,231.7 L847.0,231.5 L835.2,233.7 L835.0,233.9 L834.8,234.4 L834.6,235.2 L834.4,236.2 L834.2,237.5 L834.0,239.0 L833.8,240.7 L833.5,242.5 L833.1,244.5 L832.6,246.4Z" fill="#ecd4ac" stroke="#00000040" stroke-width="0.7"/><path d="M868.2,252.0 L870.8,250.9 L873.2,248.7 L875.1,245.6 L876.7,241.9 L877.8,237.9 L878.7,234.0 L879.2,230.5 L879.6,227.7 L880.0,225.9 L880.4,225.2 L868.6,227.4 L868.2,228.1 L867.8,229.9 L867.4,232.7 L866.9,236.2 L866.1,240.1 L864.9,244.1 L863.3,247.8 L861.4,250.9 L859.0,253.1 L856.4,254.2Z" fill="#ecd4ac" stroke="#00000040" stroke-width="0.7"/>
<path d="M1063.4,129.5 L1064.1,128.7 L1066.5,127.8 L1070.5,127.1 L1075.5,126.8 L1081.3,127.0 L1087.2,128.1 L1092.7,130.0 L1097.4,132.8 L1100.8,136.3 L1102.6,140.4 L1100.7,131.6 L1098.9,127.5 L1095.5,124.0 L1090.8,121.2 L1085.3,119.3 L1079.4,118.3 L1073.6,118.0 L1068.5,118.3 L1064.6,119.0 L1062.2,119.9 L1061.5,120.7Z" fill="#4fc6d4" stroke="#00000030" stroke-width="0.7"/><path d="M1071.5,166.6 L1072.2,165.9 L1074.6,165.0 L1078.5,164.2 L1083.6,163.9 L1089.3,164.2 L1095.3,165.2 L1100.8,167.2 L1105.5,169.9 L1108.9,173.4 L1110.7,177.6 L1108.8,168.8 L1107.0,164.6 L1103.6,161.1 L1098.9,158.4 L1093.4,156.4 L1087.4,155.4 L1081.7,155.1 L1076.6,155.4 L1072.7,156.2 L1070.3,157.1 L1069.5,157.8Z" fill="#4fc6d4" stroke="#00000030" stroke-width="0.7"/><path d="M1079.5,203.8 L1080.3,203.0 L1082.7,202.1 L1086.6,201.4 L1091.7,201.0 L1097.4,201.3 L1103.3,202.4 L1108.9,204.3 L1113.6,207.1 L1116.9,210.6 L1118.7,214.7 L1116.8,205.9 L1115.0,201.8 L1111.7,198.3 L1107.0,195.5 L1101.4,193.6 L1095.5,192.5 L1089.7,192.2 L1084.7,192.6 L1080.8,193.3 L1078.4,194.2 L1077.6,195.0Z" fill="#4fc6d4" stroke="#00000030" stroke-width="0.7"/><path d="M1087.6,240.9 L1088.2,240.2 L1090.3,239.3 L1093.8,238.6 L1098.3,238.2 L1103.5,238.3 L1109.0,239.0 L1114.4,240.4 L1119.3,242.6 L1123.1,245.5 L1125.8,249.0 L1123.9,240.2 L1121.2,236.7 L1117.3,233.8 L1112.5,231.6 L1107.1,230.2 L1101.6,229.5 L1096.4,229.4 L1091.9,229.8 L1088.4,230.6 L1086.3,231.4 L1085.7,232.1Z" fill="#4fc6d4" stroke="#00000030" stroke-width="0.7"/><path d="M1080.7,124.3 L1078.1,125.7 L1075.6,127.0 L1073.1,128.0 L1070.8,128.8 L1068.7,129.3 L1066.9,129.7 L1065.5,129.9 L1064.4,129.9 L1063.7,129.8 L1063.4,129.5 L1061.5,120.7 L1061.8,121.0 L1062.5,121.1 L1063.6,121.1 L1065.0,120.9 L1066.8,120.5 L1068.9,120.0 L1071.2,119.2 L1073.6,118.2 L1076.2,116.9 L1078.8,115.5Z" fill="#84f2f8" stroke="#00000030" stroke-width="0.7"/><path d="M1102.6,140.4 L1102.7,144.9 L1101.1,149.5 L1098.0,154.0 L1093.7,158.0 L1088.7,161.4 L1083.6,164.1 L1078.9,165.9 L1075.0,166.8 L1072.4,167.0 L1071.5,166.6 L1069.5,157.8 L1070.5,158.2 L1073.1,158.1 L1077.0,157.1 L1081.7,155.3 L1086.8,152.7 L1091.8,149.2 L1096.0,145.2 L1099.1,140.7 L1100.8,136.1 L1100.7,131.6Z" fill="#84f2f8" stroke="#00000030" stroke-width="0.7"/><path d="M1110.7,177.6 L1110.7,182.0 L1109.1,186.7 L1106.0,191.1 L1101.8,195.2 L1096.8,198.6 L1091.7,201.2 L1087.0,203.0 L1083.1,204.0 L1080.5,204.2 L1079.5,203.8 L1077.6,195.0 L1078.6,195.4 L1081.2,195.2 L1085.0,194.2 L1089.8,192.4 L1094.9,189.8 L1099.9,186.4 L1104.1,182.3 L1107.2,177.9 L1108.8,173.3 L1108.8,168.8Z" fill="#84f2f8" stroke="#00000030" stroke-width="0.7"/><path d="M1118.7,214.7 L1118.8,219.2 L1117.2,223.8 L1114.1,228.2 L1109.8,232.3 L1104.9,235.7 L1099.8,238.4 L1095.0,240.2 L1091.2,241.1 L1088.6,241.3 L1087.6,240.9 L1085.7,232.1 L1086.7,232.5 L1089.3,232.3 L1093.1,231.4 L1097.9,229.6 L1103.0,226.9 L1107.9,223.5 L1112.2,219.4 L1115.3,215.0 L1116.9,210.4 L1116.8,205.9Z" fill="#84f2f8" stroke="#00000030" stroke-width="0.7"/>
<path d="M901.0,223.6 L902.6,224.7 L904.1,227.6 L905.8,232.1 L907.6,237.7 L909.7,244.0 L912.1,250.3 L914.8,256.0 L917.8,260.5 L921.0,263.5 L924.4,264.6 L909.4,264.0 L906.0,262.9 L902.8,259.9 L899.8,255.4 L897.1,249.7 L894.7,243.4 L892.6,237.1 L890.8,231.5 L889.1,227.0 L887.6,224.1 L886.0,223.0Z" fill="#2b5210" stroke="#00000055" stroke-width="0.7"/><path d="M951.0,225.7 L952.5,226.7 L954.1,229.6 L955.7,234.1 L957.6,239.8 L959.7,246.0 L962.1,252.3 L964.8,258.0 L967.7,262.5 L971.0,265.5 L974.3,266.6 L959.4,266.0 L956.0,264.9 L952.8,261.9 L949.8,257.4 L947.1,251.7 L944.7,245.4 L942.6,239.1 L940.7,233.5 L939.1,229.0 L937.5,226.1 L936.0,225.0Z" fill="#2b5210" stroke="#00000055" stroke-width="0.7"/><path d="M1000.9,227.7 L1002.5,228.7 L1004.0,231.6 L1005.7,236.1 L1007.5,241.8 L1009.6,248.0 L1012.0,254.3 L1014.7,260.0 L1017.7,264.6 L1020.9,267.5 L1024.3,268.7 L1009.3,268.0 L1005.9,266.9 L1002.7,264.0 L999.7,259.4 L997.0,253.7 L994.6,247.4 L992.5,241.2 L990.7,235.5 L989.0,231.0 L987.5,228.1 L986.0,227.1Z" fill="#2b5210" stroke="#00000055" stroke-width="0.7"/><path d="M1050.9,229.7 L1051.8,230.1 L1052.8,231.3 L1053.7,233.1 L1054.7,235.6 L1055.8,238.6 L1056.9,242.0 L1058.1,245.7 L1059.4,249.6 L1060.9,253.6 L1062.4,257.4 L1047.4,256.7 L1045.9,252.9 L1044.4,249.0 L1043.1,245.1 L1041.9,241.4 L1040.8,238.0 L1039.7,235.0 L1038.8,232.5 L1037.8,230.6 L1036.9,229.5 L1035.9,229.1Z" fill="#2b5210" stroke="#00000055" stroke-width="0.7"/><path d="M895.4,232.1 L896.1,230.6 L896.7,229.2 L897.3,227.9 L897.9,226.8 L898.5,225.8 L899.0,225.0 L899.5,224.4 L900.0,224.0 L900.5,223.7 L901.0,223.6 L886.0,223.0 L885.5,223.1 L885.1,223.4 L884.5,223.8 L884.0,224.4 L883.5,225.2 L882.9,226.2 L882.3,227.3 L881.7,228.6 L881.1,230.0 L880.4,231.5Z" fill="#4a8420" stroke="#00000055" stroke-width="0.7"/><path d="M924.4,264.6 L927.8,263.8 L931.3,261.1 L934.6,256.8 L937.8,251.3 L940.7,245.3 L943.3,239.2 L945.6,233.7 L947.6,229.3 L949.4,226.6 L951.0,225.7 L936.0,225.0 L934.4,226.0 L932.6,228.7 L930.6,233.1 L928.3,238.6 L925.7,244.6 L922.8,250.7 L919.6,256.2 L916.3,260.5 L912.9,263.2 L909.4,264.0Z" fill="#4a8420" stroke="#00000055" stroke-width="0.7"/><path d="M974.3,266.6 L977.8,265.8 L981.3,263.1 L984.6,258.8 L987.7,253.3 L990.6,247.3 L993.2,241.2 L995.5,235.7 L997.6,231.4 L999.3,228.6 L1000.9,227.7 L986.0,227.1 L984.3,228.0 L982.6,230.8 L980.5,235.1 L978.3,240.6 L975.7,246.7 L972.8,252.7 L969.6,258.2 L966.3,262.5 L962.8,265.2 L959.4,266.0Z" fill="#4a8420" stroke="#00000055" stroke-width="0.7"/><path d="M1024.3,268.7 L1027.8,267.8 L1031.2,265.1 L1034.6,260.8 L1037.7,255.4 L1040.6,249.3 L1043.2,243.2 L1045.5,237.7 L1047.5,233.4 L1049.3,230.6 L1050.9,229.7 L1035.9,229.1 L1034.3,230.0 L1032.5,232.8 L1030.5,237.1 L1028.2,242.6 L1025.6,248.7 L1022.7,254.8 L1019.6,260.2 L1016.2,264.5 L1012.8,267.2 L1009.3,268.0Z" fill="#4a8420" stroke="#00000055" stroke-width="0.7"/>
<path d="M1050.0,262.0 C1055.0,261.3 1069.5,260.2 1080.0,258.0 C1090.5,255.8 1103.0,251.7 1113.0,248.7 C1123.0,245.7 1132.2,242.8 1140.0,240.0 C1147.8,237.2 1151.9,235.6 1160.0,231.7 C1168.1,227.8 1179.2,220.7 1188.4,216.6 C1197.6,212.5 1210.6,208.6 1215.0,207.0" fill="none" stroke="#1f3a08" stroke-width="4.5" stroke-linecap="round" stroke-linejoin="round"/><path d="M1050.0,262.0 C1055.0,261.3 1069.5,260.2 1080.0,258.0 C1090.5,255.8 1103.0,251.7 1113.0,248.7 C1123.0,245.7 1132.2,242.8 1140.0,240.0 C1147.8,237.2 1151.9,235.6 1160.0,231.7 C1168.1,227.8 1179.2,220.7 1188.4,216.6 C1197.6,212.5 1210.6,208.6 1215.0,207.0" fill="none" stroke="#3d6a1a" stroke-width="3.5" stroke-linecap="round" stroke-linejoin="round"/>
<path d="M1113.0,246.8 C1115.5,247.7 1123.3,250.4 1128.0,252.0 C1132.7,253.6 1136.8,256.5 1141.3,256.2 C1145.8,255.9 1150.2,252.4 1155.0,250.0 C1159.8,247.6 1164.4,243.8 1170.0,242.0 C1175.6,240.2 1180.9,238.8 1188.4,239.3 C1195.9,239.8 1210.6,244.1 1215.0,245.0" fill="none" stroke="#b070a0" stroke-width="4.3" stroke-linecap="round" stroke-linejoin="round"/><path d="M1113.0,246.8 C1115.5,247.7 1123.3,250.4 1128.0,252.0 C1132.7,253.6 1136.8,256.5 1141.3,256.2 C1145.8,255.9 1150.2,252.4 1155.0,250.0 C1159.8,247.6 1164.4,243.8 1170.0,242.0 C1175.6,240.2 1180.9,238.8 1188.4,239.3 C1195.9,239.8 1210.6,244.1 1215.0,245.0" fill="none" stroke="#e39ad6" stroke-width="3.5" stroke-linecap="round" stroke-linejoin="round"/>
<path d="M1154.5,197.8 C1154.1,201.5 1152.6,213.7 1152.0,220.0 C1151.4,226.3 1152.4,229.7 1150.7,235.5 C1149.0,241.3 1145.1,248.7 1142.0,255.0 C1138.9,261.3 1135.9,268.0 1131.9,273.2 C1127.9,278.4 1122.4,282.6 1118.0,286.0 C1113.6,289.4 1110.2,292.9 1105.5,293.9 C1100.8,294.9 1095.0,292.9 1090.0,292.0 C1085.0,291.1 1080.4,290.2 1075.4,288.2 C1070.4,286.2 1063.8,281.9 1060.0,280.0 C1056.2,278.1 1053.9,277.5 1052.7,277.0" fill="none" stroke="#8a8a8a" stroke-width="5.4" stroke-linecap="round" stroke-linejoin="round"/><path d="M1154.5,197.8 C1154.1,201.5 1152.6,213.7 1152.0,220.0 C1151.4,226.3 1152.4,229.7 1150.7,235.5 C1149.0,241.3 1145.1,248.7 1142.0,255.0 C1138.9,261.3 1135.9,268.0 1131.9,273.2 C1127.9,278.4 1122.4,282.6 1118.0,286.0 C1113.6,289.4 1110.2,292.9 1105.5,293.9 C1100.8,294.9 1095.0,292.9 1090.0,292.0 C1085.0,291.1 1080.4,290.2 1075.4,288.2 C1070.4,286.2 1063.8,281.9 1060.0,280.0 C1056.2,278.1 1053.9,277.5 1052.7,277.0" fill="none" stroke="#f2f2f2" stroke-width="3.8" stroke-linecap="round" stroke-linejoin="round"/>
<path d="M1115.4,169.2 L1114.4,168.8 L1111.4,167.9 L1106.6,166.9 L1100.4,165.9 L1093.5,165.3 L1086.3,165.3 L1079.5,166.2 L1073.8,167.9 L1069.6,170.5 L1067.3,174.0 L1071.8,160.7 L1074.1,157.3 L1078.3,154.6 L1084.0,152.9 L1090.8,152.1 L1097.9,152.1 L1104.9,152.7 L1111.1,153.6 L1115.9,154.7 L1118.9,155.5 L1119.9,155.9Z" fill="#c8b818" stroke="#00000040" stroke-width="0.7"/><path d="M1102.6,207.0 L1101.6,206.7 L1098.6,205.8 L1093.8,204.8 L1087.6,203.8 L1080.6,203.2 L1073.5,203.2 L1066.7,204.1 L1061.0,205.8 L1056.8,208.4 L1054.5,211.9 L1059.0,198.6 L1061.3,195.1 L1065.5,192.5 L1071.2,190.8 L1077.9,190.0 L1085.1,190.0 L1092.1,190.5 L1098.3,191.5 L1103.0,192.6 L1106.1,193.4 L1107.1,193.8Z" fill="#c8b818" stroke="#00000040" stroke-width="0.7"/><path d="M1089.8,244.9 L1088.8,244.6 L1085.7,243.7 L1081.0,242.7 L1074.8,241.7 L1067.8,241.1 L1060.6,241.1 L1053.9,241.9 L1048.2,243.7 L1044.0,246.3 L1041.7,249.8 L1046.2,236.5 L1048.5,233.0 L1052.7,230.4 L1058.4,228.7 L1065.1,227.9 L1072.3,227.8 L1079.3,228.4 L1085.4,229.4 L1090.2,230.4 L1093.2,231.3 L1094.2,231.7Z" fill="#c8b818" stroke="#00000040" stroke-width="0.7"/><path d="M1076.9,282.8 L1076.5,282.6 L1075.1,282.2 L1072.8,281.6 L1069.7,280.8 L1065.9,280.1 L1061.5,279.5 L1056.8,279.1 L1051.9,278.9 L1047.1,279.1 L1042.5,279.6 L1047.0,266.3 L1051.6,265.8 L1056.4,265.7 L1061.3,265.8 L1066.0,266.3 L1070.4,266.9 L1074.2,267.6 L1077.3,268.3 L1079.6,268.9 L1081.0,269.4 L1081.4,269.6Z" fill="#c8b818" stroke="#00000040" stroke-width="0.7"/><path d="M1095.6,158.9 L1098.6,160.9 L1101.5,162.6 L1104.4,164.2 L1107.0,165.6 L1109.4,166.8 L1111.5,167.7 L1113.1,168.4 L1114.4,168.8 L1115.1,169.1 L1115.4,169.2 L1119.9,155.9 L1119.6,155.8 L1118.8,155.6 L1117.6,155.1 L1115.9,154.4 L1113.9,153.5 L1111.5,152.4 L1108.9,151.0 L1106.0,149.4 L1103.1,147.6 L1100.1,145.6Z" fill="#f8ee3c" stroke="#00000040" stroke-width="0.7"/><path d="M1067.3,174.0 L1067.0,178.2 L1068.8,182.8 L1072.3,187.6 L1077.1,192.4 L1082.8,196.8 L1088.7,200.5 L1094.2,203.5 L1098.6,205.6 L1101.5,206.7 L1102.6,207.0 L1107.1,193.8 L1106.0,193.5 L1103.1,192.3 L1098.7,190.3 L1093.2,187.3 L1087.3,183.5 L1081.6,179.1 L1076.7,174.4 L1073.2,169.5 L1071.5,164.9 L1071.8,160.7Z" fill="#f8ee3c" stroke="#00000040" stroke-width="0.7"/><path d="M1054.5,211.9 L1054.2,216.1 L1055.9,220.7 L1059.4,225.5 L1064.3,230.3 L1070.0,234.7 L1075.9,238.4 L1081.4,241.4 L1085.8,243.5 L1088.7,244.6 L1089.8,244.9 L1094.2,231.7 L1093.2,231.4 L1090.3,230.2 L1085.9,228.1 L1080.4,225.2 L1074.5,221.4 L1068.8,217.0 L1063.9,212.3 L1060.4,207.4 L1058.7,202.8 L1059.0,198.6Z" fill="#f8ee3c" stroke="#00000040" stroke-width="0.7"/><path d="M1041.7,249.8 L1041.4,254.0 L1043.1,258.6 L1046.6,263.4 L1051.5,268.2 L1057.2,272.6 L1063.1,276.3 L1068.6,279.3 L1073.0,281.4 L1075.9,282.5 L1076.9,282.8 L1081.4,269.6 L1080.4,269.3 L1077.5,268.1 L1073.1,266.0 L1067.6,263.1 L1061.7,259.3 L1056.0,254.9 L1051.1,250.2 L1047.6,245.3 L1045.9,240.7 L1046.2,236.5Z" fill="#f8ee3c" stroke="#00000040" stroke-width="0.7"/>
<path d="M1128.0,136.0 C1128.7,137.5 1130.3,142.7 1132.0,145.0 C1133.7,147.3 1137.0,149.2 1138.0,150.0" fill="none" stroke="#80450a" stroke-width="4.5" stroke-linecap="round" stroke-linejoin="round"/><path d="M1128.0,136.0 C1128.7,137.5 1130.3,142.7 1132.0,145.0 C1133.7,147.3 1137.0,149.2 1138.0,150.0" fill="none" stroke="#f08c22" stroke-width="3.5" stroke-linecap="round" stroke-linejoin="round"/>
<path d="M1132.6,170.9 L1130.8,167.7 L1130.6,163.5 L1132.2,158.8 L1135.4,154.1 L1140.0,150.0 L1145.7,146.9 L1151.9,145.3 L1158.1,145.3 L1163.9,147.0 L1168.6,150.4 L1163.0,144.7 L1158.2,141.3 L1152.5,139.6 L1146.2,139.6 L1140.0,141.3 L1134.3,144.3 L1129.7,148.5 L1126.5,153.1 L1124.9,157.8 L1125.1,162.0 L1126.9,165.2Z" fill="#b86410" stroke="#00000050" stroke-width="0.7"/><path d="M1148.1,186.4 L1146.3,183.2 L1146.2,179.0 L1147.7,174.3 L1150.9,169.7 L1155.6,165.6 L1161.2,162.5 L1167.5,160.8 L1173.7,160.8 L1179.4,162.5 L1184.2,165.9 L1178.5,160.3 L1173.8,156.9 L1168.0,155.2 L1161.8,155.2 L1155.6,156.8 L1149.9,159.9 L1145.3,164.0 L1142.1,168.7 L1140.5,173.4 L1140.7,177.6 L1142.5,180.8Z" fill="#b86410" stroke="#00000050" stroke-width="0.7"/><path d="M1163.7,202.0 L1162.0,199.2 L1161.6,195.5 L1162.6,191.3 L1165.0,187.1 L1168.6,183.1 L1173.3,179.7 L1178.6,177.4 L1184.3,176.2 L1189.9,176.5 L1195.0,178.1 L1189.3,172.4 L1184.2,170.8 L1178.6,170.6 L1172.9,171.7 L1167.6,174.1 L1163.0,177.4 L1159.4,181.4 L1157.0,185.7 L1155.9,189.8 L1156.3,193.5 L1158.0,196.3Z" fill="#b86410" stroke="#00000050" stroke-width="0.7"/><path d="M1153.4,163.4 L1151.5,165.9 L1149.3,168.1 L1147.0,169.9 L1144.7,171.3 L1142.3,172.3 L1140.0,172.8 L1137.8,173.0 L1135.8,172.7 L1134.0,172.0 L1132.6,170.9 L1126.9,165.2 L1128.4,166.3 L1130.1,167.0 L1132.1,167.3 L1134.3,167.2 L1136.6,166.6 L1139.0,165.6 L1141.4,164.2 L1143.7,162.4 L1145.8,160.2 L1147.8,157.8Z" fill="#f08c22" stroke="#00000050" stroke-width="0.7"/><path d="M1168.6,150.4 L1172.0,155.1 L1173.7,160.8 L1173.7,167.1 L1172.1,173.3 L1169.0,179.0 L1164.9,183.6 L1160.2,186.8 L1155.5,188.4 L1151.3,188.2 L1148.1,186.4 L1142.5,180.8 L1145.7,182.6 L1149.9,182.7 L1154.6,181.2 L1159.2,178.0 L1163.3,173.3 L1166.4,167.7 L1168.1,161.4 L1168.1,155.2 L1166.3,149.4 L1163.0,144.7Z" fill="#f08c22" stroke="#00000050" stroke-width="0.7"/><path d="M1184.2,165.9 L1187.6,170.7 L1189.3,176.4 L1189.3,182.7 L1187.6,188.9 L1184.5,194.5 L1180.4,199.2 L1175.8,202.4 L1171.1,204.0 L1166.9,203.8 L1163.7,202.0 L1158.0,196.3 L1161.2,198.1 L1165.4,198.3 L1170.1,196.7 L1174.8,193.5 L1178.9,188.9 L1182.0,183.2 L1183.6,177.0 L1183.6,170.7 L1181.9,165.0 L1178.5,160.3Z" fill="#f08c22" stroke="#00000050" stroke-width="0.7"/>
<g font-family='"Liberation Sans", sans-serif' font-size="12">
<text x="927.7" y="82.3" fill="#111" textLength="28.3" lengthAdjust="spacingAndGlyphs">NcTnI</text>
<text x="941.3" y="148.8" fill="#a5742a" textLength="37.7" lengthAdjust="spacingAndGlyphs">Helix A</text>
<text x="1026.4" y="196.9" fill="#e89a45" textLength="37.6" lengthAdjust="spacingAndGlyphs">Helix B</text>
<text x="1053.7" y="101.7" fill="#5a95e0" textLength="38.6" lengthAdjust="spacingAndGlyphs">Helix C</text>
<text x="1155.4" y="131" fill="#d2452a" textLength="38.6" lengthAdjust="spacingAndGlyphs">Helix D</text>
<text x="948.8" y="282.6" fill="#111" textLength="32.1" lengthAdjust="spacingAndGlyphs">Switch</text>
<text x="1057.5" y="12.2" fill="#111" font-size="11" textLength="28.2" lengthAdjust="spacingAndGlyphs">Ser22</text>
<text x="1076.3" y="69.7" fill="#111" font-size="11" textLength="28.3" lengthAdjust="spacingAndGlyphs">Ser23</text>
</g>
<g font-family='"Liberation Sans", sans-serif' fill="#000">
<text x="3" y="228.9" font-size="76" transform="translate(3 0) scale(0.975 1) translate(-3 0)">A</text>
<text x="1.4" y="607.9" font-size="76" transform="translate(7.5 0) scale(1.03 1) translate(-7.5 0)">B</text>
<path d="M53.1,1023.4 A24.6,27.95 0 1 0 3.9,1023.4 A24.6,27.95 0 1 0 53.1,1023.4 Z M45.7,1023.4 A17.2,21.65 0 1 1 11.3,1023.4 A17.2,21.65 0 1 1 45.7,1023.4 Z" fill="#000" fill-rule="evenodd"/>
<rect x="36" y="1012.7" width="22" height="17.2" fill="#fff"/>
</g>
<rect x="144.1" y="351.2" width="1124.1" height="419.3" fill="none" stroke="#000" stroke-width="3.3"/>
<rect x="143.2" y="801.3" width="1126" height="1641" fill="none" stroke="#000" stroke-width="3.4"/>
<g fill="#000">
<clipPath id="cpB1"><rect x="244" y="415.5" width="371.70000000000005" height="277.0"/></clipPath>
<path d="M244.0,693.4 C254.2,693.3 290.7,693.5 305.3,693.1 C319.9,692.7 325.3,691.8 331.6,691.0 C337.9,690.3 339.4,690.3 343.3,688.7 C347.2,687.1 351.6,684.3 355.0,681.4 C358.4,678.5 360.8,675.8 363.7,671.2 C366.7,666.5 369.8,660.0 372.5,653.6 C375.2,647.3 377.4,640.0 379.8,633.2 C382.2,626.4 384.9,619.1 387.1,612.8 C389.3,606.4 391.0,600.3 392.9,595.2 C394.9,590.1 396.8,585.5 398.8,582.1 C400.7,578.7 402.2,576.2 404.6,574.8 C407.1,573.4 410.5,574.4 413.4,573.9 C416.3,573.4 419.2,572.2 422.2,571.9 C425.1,571.5 428.5,572.1 430.9,571.9 C433.3,571.6 434.6,571.1 436.8,570.4 C438.9,569.7 441.6,567.8 444.1,567.8 C446.5,567.8 448.7,569.8 451.4,570.4 C454.0,571.0 457.7,570.6 460.1,571.3 C462.6,572.0 463.5,573.0 466.0,574.8 C468.4,576.6 472.3,579.4 474.7,582.1 C477.2,584.8 478.6,587.2 480.6,590.9 C482.5,594.5 484.5,599.4 486.4,604.0 C488.4,608.6 490.3,613.2 492.2,618.6 C494.2,624.0 496.1,630.3 498.1,636.1 C500.0,642.0 502.0,648.3 503.9,653.6 C505.9,659.0 507.6,663.9 509.8,668.2 C512.0,672.6 514.6,676.8 517.1,679.9 C519.5,683.1 521.2,685.3 524.4,687.2 C527.5,689.2 531.2,690.6 536.1,691.6 C540.9,692.6 548.2,692.8 553.6,693.1 C558.9,693.4 565.7,693.3 568.2,693.4" fill="none" stroke="#3b6db3" stroke-width="2.9" stroke-linejoin="round" stroke-linecap="round" clip-path="url(#cpB1)"/>
<path d="M244.0,693.4 C263.0,693.3 337.0,694.1 357.9,693.1 C378.8,692.1 366.2,689.4 369.6,687.2 C373.0,685.0 375.4,683.6 378.3,679.9 C381.3,676.3 384.7,670.2 387.1,665.3 C389.5,660.5 391.0,656.6 392.9,650.7 C394.9,644.9 396.8,637.1 398.8,630.3 C400.7,623.5 402.7,616.7 404.6,609.8 C406.6,603.0 408.5,596.7 410.5,589.4 C412.4,582.1 414.4,573.3 416.3,566.0 C418.3,558.7 420.2,550.5 422.2,545.6 C424.1,540.7 425.8,538.9 428.0,536.8 C430.2,534.8 432.9,534.5 435.3,533.3 C437.7,532.1 440.4,529.7 442.6,529.5 C444.8,529.4 446.7,531.2 448.4,532.4 C450.1,533.7 451.4,535.6 452.8,536.8 C454.3,538.0 455.5,538.8 457.2,539.7 C458.9,540.7 461.1,540.7 463.0,542.7 C465.0,544.6 466.9,548.0 468.9,551.4 C470.8,554.8 472.8,558.7 474.7,563.1 C476.7,567.5 478.6,572.4 480.6,577.7 C482.5,583.1 484.5,588.9 486.4,595.2 C488.4,601.6 490.3,608.9 492.2,615.7 C494.2,622.5 496.1,629.8 498.1,636.1 C500.0,642.4 502.0,648.3 503.9,653.6 C505.9,659.0 507.6,663.9 509.8,668.2 C512.0,672.6 514.6,676.9 517.1,679.9 C519.5,682.9 521.7,684.5 524.4,686.4 C527.1,688.2 529.2,689.9 533.1,691.0 C537.0,692.1 542.4,692.7 547.7,693.1 C553.1,693.5 562.3,693.3 565.3,693.4" fill="none" stroke="#e17c22" stroke-width="2.9" stroke-linejoin="round" stroke-linecap="round" clip-path="url(#cpB1)"/>
<path d="M244.0,693.4 C261.0,693.3 326.7,693.5 346.2,693.1 C365.7,692.7 356.4,692.1 360.8,691.0 C365.2,689.9 369.1,688.4 372.5,686.4 C375.9,684.3 378.6,682.5 381.3,678.5 C383.9,674.5 386.6,668.0 388.6,662.4 C390.5,656.8 391.5,651.2 392.9,644.9 C394.4,638.6 395.9,631.7 397.3,624.4 C398.8,617.1 400.2,609.3 401.7,601.1 C403.2,592.8 404.6,583.1 406.1,574.8 C407.6,566.5 408.8,560.2 410.5,551.4 C412.2,542.7 414.4,530.5 416.3,522.2 C418.3,513.9 420.2,508.1 422.2,501.8 C424.1,495.4 426.3,488.9 428.0,484.3 C429.7,479.6 430.9,476.5 432.4,474.0 C433.8,471.6 435.4,470.6 436.8,469.6 C438.1,468.7 439.0,467.9 440.3,468.2 C441.5,468.4 442.7,468.4 444.1,471.1 C445.4,473.8 447.0,479.1 448.4,484.3 C449.9,489.4 451.4,495.0 452.8,501.8 C454.3,508.6 455.5,516.9 457.2,525.1 C458.9,533.4 461.1,542.7 463.0,551.4 C465.0,560.2 466.9,568.5 468.9,577.7 C470.8,587.0 472.8,597.7 474.7,606.9 C476.7,616.2 478.6,624.9 480.6,633.2 C482.5,641.5 484.5,650.2 486.4,656.6 C488.4,662.9 490.1,667.0 492.2,671.2 C494.4,675.3 497.1,678.7 499.5,681.4 C502.0,684.1 504.2,685.5 506.9,687.2 C509.5,688.9 511.7,690.6 515.6,691.6 C519.5,692.6 524.9,692.8 530.2,693.1 C535.6,693.4 544.8,693.3 547.7,693.4" fill="none" stroke="#529d34" stroke-width="2.9" stroke-linejoin="round" stroke-linecap="round" clip-path="url(#cpB1)"/>
<path d="M244.0,692.2 C248.9,692.0 265.4,691.5 273.2,691.0 C281.0,690.5 285.9,690.1 290.7,689.3 C295.6,688.5 298.0,687.3 302.4,686.4 C306.8,685.4 312.6,684.8 317.0,683.7 C321.4,682.7 325.3,681.5 328.7,679.9 C332.1,678.3 334.5,676.3 337.5,674.1 C340.4,671.9 343.3,669.7 346.2,666.8 C349.1,663.9 352.1,660.7 355.0,656.6 C357.9,652.4 360.8,647.3 363.7,642.0 C366.7,636.6 369.8,630.3 372.5,624.4 C375.2,618.6 377.6,613.7 379.8,606.9 C382.0,600.1 383.9,591.3 385.6,583.6 C387.4,575.8 388.6,567.5 390.0,560.2 C391.5,552.9 392.9,546.1 394.4,539.7 C395.9,533.4 397.3,527.6 398.8,522.2 C400.2,516.9 401.7,511.4 403.2,507.6 C404.6,503.8 405.8,501.3 407.6,499.4 C409.3,497.6 411.4,496.7 413.4,496.5 C415.3,496.3 417.5,497.2 419.2,498.3 C420.9,499.4 421.9,500.2 423.6,503.2 C425.3,506.3 427.8,511.8 429.5,516.4 C431.2,521.0 432.4,525.6 433.8,531.0 C435.3,536.3 436.8,541.7 438.2,548.5 C439.7,555.3 440.9,564.1 442.6,571.9 C444.3,579.7 446.5,587.4 448.4,595.2 C450.4,603.0 452.1,610.8 454.3,618.6 C456.5,626.4 459.1,634.7 461.6,642.0 C464.0,649.3 466.2,656.1 468.9,662.4 C471.6,668.7 474.7,675.6 477.6,679.9 C480.6,684.2 483.0,686.2 486.4,688.1 C489.8,690.1 492.2,690.8 498.1,691.6 C503.9,692.4 515.1,692.8 521.5,693.1 C527.8,693.4 533.6,693.3 536.1,693.4" fill="none" stroke="#b8222a" stroke-width="2.9" stroke-linejoin="round" stroke-linecap="round" clip-path="url(#cpB1)"/>
<rect x="244" y="420.5" width="371.70000000000005" height="272.0" fill="none" stroke="#000" stroke-width="1.6"/>
<line x1="323.6" y1="692.5" x2="323.6" y2="699.5" stroke="#000" stroke-width="1.6"/>
<text x="323.6" y="721.8" font-size="19.6" text-anchor="middle" >100</text>
<line x1="429.9" y1="692.5" x2="429.9" y2="699.5" stroke="#000" stroke-width="1.6"/>
<text x="429.9" y="721.8" font-size="19.6" text-anchor="middle" >120</text>
<line x1="536.0" y1="692.5" x2="536.0" y2="699.5" stroke="#000" stroke-width="1.6"/>
<text x="536.0" y="721.8" font-size="19.6" text-anchor="middle" >140</text>
<line x1="237" y1="692.5" x2="244" y2="692.5" stroke="#000" stroke-width="1.6"/>
<text x="229.8" y="699.2" font-size="19.6" text-anchor="end" >0.00</text>
<line x1="237" y1="638.1" x2="244" y2="638.1" stroke="#000" stroke-width="1.6"/>
<text x="229.8" y="644.8" font-size="19.6" text-anchor="end" >0.02</text>
<line x1="237" y1="583.7" x2="244" y2="583.7" stroke="#000" stroke-width="1.6"/>
<text x="229.8" y="590.4" font-size="19.6" text-anchor="end" >0.04</text>
<line x1="237" y1="529.3" x2="244" y2="529.3" stroke="#000" stroke-width="1.6"/>
<text x="229.8" y="536.0" font-size="19.6" text-anchor="end" >0.06</text>
<line x1="237" y1="474.9" x2="244" y2="474.9" stroke="#000" stroke-width="1.6"/>
<text x="229.8" y="481.6" font-size="19.6" text-anchor="end" >0.08</text>
<line x1="237" y1="420.5" x2="244" y2="420.5" stroke="#000" stroke-width="1.6"/>
<text x="229.8" y="427.2" font-size="19.6" text-anchor="end" >0.10</text>
<text x="429.9" y="407.8" font-size="20.2" text-anchor="middle" >Interdomain angle</text>
<text x="429.9" y="748.0" font-size="20.2" text-anchor="middle" >Interdomain angle (degree)</text>
<text x="177.9" y="559.9" font-size="21" text-anchor="middle" transform="rotate(-90 177.9 559.9)">Probability density</text>
<rect x="252.2" y="428.2" width="146.0" height="96.40000000000003" rx="3" fill="#fff" fill-opacity="0.8" stroke="#cfcfcf" stroke-width="1.5"/>
<line x1="257.1" y1="439.9" x2="292.2" y2="439.9" stroke="#3b6db3" stroke-width="2.9"/>
<text x="303.8" y="445.1" font-size="16.4" text-anchor="start" >WT uP</text>
<line x1="257.1" y1="463.0" x2="292.2" y2="463.0" stroke="#e17c22" stroke-width="2.9"/>
<text x="303.8" y="468.2" font-size="16.4" text-anchor="start" >WT SEP</text>
<line x1="257.1" y1="486.1" x2="292.2" y2="486.1" stroke="#529d34" stroke-width="2.9"/>
<text x="303.8" y="491.3" font-size="16.4" text-anchor="start" >G159D uP</text>
<line x1="257.1" y1="509.2" x2="292.2" y2="509.2" stroke="#b8222a" stroke-width="2.9"/>
<text x="303.8" y="514.4" font-size="16.4" text-anchor="start" >G159D SEP</text>
<clipPath id="cpB2"><rect x="872" y="416.4" width="366.5" height="274.70000000000005"/></clipPath>
<line x1="1067.5" y1="421.4" x2="1067.5" y2="691.1" stroke="#000" stroke-width="1.9"/>
<line x1="1165.2" y1="421.4" x2="1165.2" y2="691.1" stroke="#000" stroke-width="1.9"/>
<path d="M928.1,691.6 C930.5,691.1 938.7,690.4 942.6,688.7 C946.5,687.0 948.4,685.5 951.3,681.4 C954.2,677.3 957.6,669.8 960.0,664.0 C962.5,658.2 963.9,653.3 965.8,646.5 C967.8,639.8 969.7,631.5 971.7,623.3 C973.6,615.1 975.5,604.9 977.5,597.2 C979.4,589.4 981.3,582.6 983.3,576.8 C985.2,571.0 986.7,565.6 989.1,562.3 C991.5,559.0 994.9,557.6 997.8,557.1 C1000.7,556.6 1003.6,558.1 1006.5,559.4 C1009.4,560.8 1012.3,563.3 1015.2,565.2 C1018.1,567.2 1021.0,568.1 1023.9,571.0 C1026.8,573.9 1029.7,578.3 1032.6,582.6 C1035.6,587.0 1038.5,591.8 1041.4,597.2 C1044.3,602.5 1047.2,609.3 1050.1,614.6 C1053.0,619.9 1055.9,624.8 1058.8,629.1 C1061.7,633.5 1064.6,637.3 1067.5,640.7 C1070.4,644.1 1073.3,647.0 1076.2,649.5 C1079.1,651.9 1082.0,653.3 1084.9,655.3 C1087.8,657.2 1090.7,659.8 1093.6,661.1 C1096.5,662.3 1099.0,662.5 1102.4,662.8 C1105.7,663.2 1110.6,662.5 1114.0,663.1 C1117.4,663.7 1119.8,664.7 1122.7,666.3 C1125.6,667.9 1128.5,670.7 1131.4,672.7 C1134.3,674.7 1137.2,676.6 1140.1,678.5 C1143.0,680.4 1145.9,682.8 1148.8,684.3 C1151.7,685.9 1154.6,686.8 1157.5,687.8 C1160.4,688.8 1161.9,689.6 1166.3,690.1 C1170.6,690.6 1176.4,690.7 1183.7,691.0 C1190.9,691.2 1205.5,691.5 1209.8,691.6" fill="none" stroke="#3b6db3" stroke-width="2.9" stroke-linejoin="round" stroke-linecap="round" clip-path="url(#cpB2)"/>
<path d="M870.0,690.7 C874.8,690.4 890.8,689.5 899.0,688.7 C907.3,687.8 913.6,687.2 919.4,685.8 C925.2,684.3 929.5,682.6 933.9,679.9 C938.3,677.3 942.1,674.4 945.5,669.8 C948.9,665.2 951.8,658.2 954.2,652.4 C956.6,646.5 958.1,642.2 960.0,634.9 C962.0,627.7 963.9,617.5 965.8,608.8 C967.8,600.1 969.7,592.3 971.7,582.6 C973.6,573.0 975.5,561.3 977.5,550.7 C979.4,540.1 981.3,527.7 983.3,518.8 C985.2,509.8 987.4,501.8 989.1,497.0 C990.8,492.1 992.0,490.7 993.4,489.7 C994.9,488.7 996.1,488.7 997.8,491.2 C999.5,493.6 1001.2,497.7 1003.6,504.2 C1006.0,510.8 1009.4,521.7 1012.3,530.4 C1015.2,539.1 1018.1,546.8 1021.0,556.5 C1023.9,566.2 1026.8,578.3 1029.7,588.5 C1032.6,598.6 1035.6,608.3 1038.5,617.5 C1041.4,626.7 1044.3,635.9 1047.2,643.6 C1050.1,651.4 1053.0,658.4 1055.9,664.0 C1058.8,669.5 1061.7,673.7 1064.6,677.0 C1067.5,680.4 1069.9,682.4 1073.3,684.3 C1076.7,686.2 1080.1,687.6 1084.9,688.7 C1089.8,689.7 1094.6,690.2 1102.4,690.7 C1110.1,691.2 1126.6,691.4 1131.4,691.6" fill="none" stroke="#e17c22" stroke-width="2.9" stroke-linejoin="round" stroke-linecap="round" clip-path="url(#cpB2)"/>
<path d="M899.0,691.6 C902.9,691.1 916.0,690.1 922.3,688.7 C928.6,687.2 932.4,686.0 936.8,682.9 C941.2,679.7 945.0,675.8 948.4,669.8 C951.8,663.7 954.5,655.3 957.1,646.5 C959.8,637.8 962.2,627.2 964.4,617.5 C966.6,607.8 968.3,599.1 970.2,588.5 C972.1,577.8 974.1,564.7 976.0,553.6 C977.9,542.5 979.9,530.9 981.8,521.7 C983.8,512.5 985.7,503.7 987.6,498.4 C989.6,493.1 991.7,491.4 993.4,489.7 C995.1,488.0 996.3,488.0 997.8,488.3 C999.2,488.5 1000.5,488.0 1002.2,491.2 C1003.8,494.3 1005.8,500.1 1008.0,507.1 C1010.1,514.2 1012.8,525.0 1015.2,533.3 C1017.6,541.5 1020.1,548.8 1022.5,556.5 C1024.9,564.3 1027.3,572.0 1029.7,579.7 C1032.2,587.5 1034.6,595.2 1037.0,603.0 C1039.4,610.7 1041.6,618.5 1044.3,626.2 C1046.9,634.0 1050.1,642.2 1053.0,649.5 C1055.9,656.7 1058.8,664.5 1061.7,669.8 C1064.6,675.1 1067.5,678.4 1070.4,681.4 C1073.3,684.4 1075.7,686.2 1079.1,687.8 C1082.5,689.3 1084.4,690.1 1090.7,690.7 C1097.0,691.3 1112.5,691.4 1116.9,691.6" fill="none" stroke="#529d34" stroke-width="2.9" stroke-linejoin="round" stroke-linecap="round" clip-path="url(#cpB2)"/>
<path d="M907.8,691.6 C911.1,691.2 922.3,690.7 928.1,689.5 C933.9,688.3 938.7,687.1 942.6,684.3 C946.5,681.5 948.4,678.0 951.3,672.7 C954.2,667.4 957.6,659.6 960.0,652.4 C962.5,645.1 963.9,637.8 965.8,629.1 C967.8,620.4 969.7,610.2 971.7,600.1 C973.6,589.9 975.5,577.8 977.5,568.1 C979.4,558.4 981.3,549.7 983.3,542.0 C985.2,534.2 987.1,526.6 989.1,521.7 C991.0,516.7 993.0,513.3 994.9,512.4 C996.8,511.4 998.8,513.8 1000.7,515.8 C1002.6,517.9 1004.6,521.2 1006.5,524.6 C1008.4,527.9 1010.4,531.8 1012.3,536.2 C1014.3,540.5 1015.7,543.9 1018.1,550.7 C1020.5,557.5 1023.9,569.1 1026.8,576.8 C1029.7,584.6 1032.6,590.9 1035.6,597.2 C1038.5,603.5 1041.4,609.3 1044.3,614.6 C1047.2,619.9 1050.1,624.8 1053.0,629.1 C1055.9,633.5 1058.8,636.9 1061.7,640.7 C1064.6,644.6 1067.5,648.0 1070.4,652.4 C1073.3,656.7 1075.7,662.5 1079.1,666.9 C1082.5,671.2 1086.9,675.5 1090.7,678.5 C1094.6,681.5 1098.0,683.2 1102.4,684.9 C1106.7,686.6 1111.1,687.7 1116.9,688.7 C1122.7,689.6 1129.9,690.2 1137.2,690.7 C1144.5,691.2 1156.6,691.4 1160.4,691.6" fill="none" stroke="#b8222a" stroke-width="2.9" stroke-linejoin="round" stroke-linecap="round" clip-path="url(#cpB2)"/>
<rect x="872" y="421.4" width="366.5" height="269.70000000000005" fill="none" stroke="#000" stroke-width="1.6"/>
<line x1="920.9" y1="691.1" x2="920.9" y2="698.1" stroke="#000" stroke-width="1.6"/>
<text x="920.9" y="720.4" font-size="19.6" text-anchor="middle" >80</text>
<line x1="1018.6" y1="691.1" x2="1018.6" y2="698.1" stroke="#000" stroke-width="1.6"/>
<text x="1018.6" y="720.4" font-size="19.6" text-anchor="middle" >100</text>
<line x1="1116.3" y1="691.1" x2="1116.3" y2="698.1" stroke="#000" stroke-width="1.6"/>
<text x="1116.3" y="720.4" font-size="19.6" text-anchor="middle" >120</text>
<line x1="1214.1" y1="691.1" x2="1214.1" y2="698.1" stroke="#000" stroke-width="1.6"/>
<text x="1214.1" y="720.4" font-size="19.6" text-anchor="middle" >140</text>
<line x1="865" y1="691.1" x2="872" y2="691.1" stroke="#000" stroke-width="1.6"/>
<text x="857.1" y="697.8" font-size="19.6" text-anchor="end" >0.00</text>
<line x1="865" y1="637.2" x2="872" y2="637.2" stroke="#000" stroke-width="1.6"/>
<text x="857.1" y="643.9" font-size="19.6" text-anchor="end" >0.02</text>
<line x1="865" y1="583.2" x2="872" y2="583.2" stroke="#000" stroke-width="1.6"/>
<text x="857.1" y="589.9" font-size="19.6" text-anchor="end" >0.04</text>
<line x1="865" y1="529.3" x2="872" y2="529.3" stroke="#000" stroke-width="1.6"/>
<text x="857.1" y="536.0" font-size="19.6" text-anchor="end" >0.06</text>
<line x1="865" y1="475.3" x2="872" y2="475.3" stroke="#000" stroke-width="1.6"/>
<text x="857.1" y="482.1" font-size="19.6" text-anchor="end" >0.08</text>
<line x1="865" y1="421.4" x2="872" y2="421.4" stroke="#000" stroke-width="1.6"/>
<text x="857.1" y="428.1" font-size="19.6" text-anchor="end" >0.10</text>
<text x="1055.2" y="409.4" font-size="20.2" text-anchor="middle" >Interhelical angle</text>
<text x="1055.2" y="746.3" font-size="20.2" text-anchor="middle" >Supplement of interhelical angle (degree)</text>
<text x="806.0" y="561.2" font-size="21" text-anchor="middle" transform="rotate(-90 806.0 561.2)">Probability density</text>
<text x="1000.4" y="447.0" font-size="20.2" text-anchor="start" >Open</text>
<text x="1173.0" y="447.0" font-size="20.2" text-anchor="start" >Closed</text>
<rect x="877.2" y="427.9" width="96.79999999999995" height="71.5" rx="3" fill="#fff" fill-opacity="0.8" stroke="#cfcfcf" stroke-width="1.5"/>
<line x1="881" y1="436.9" x2="896" y2="436.9" stroke="#3b6db3" stroke-width="2.9"/>
<text x="904.3" y="440.7" font-size="12" text-anchor="start" >WT uP</text>
<line x1="881" y1="453.9" x2="896" y2="453.9" stroke="#e17c22" stroke-width="2.9"/>
<text x="904.3" y="457.7" font-size="12" text-anchor="start" >WT SEP</text>
<line x1="881" y1="470.9" x2="896" y2="470.9" stroke="#529d34" stroke-width="2.9"/>
<text x="904.3" y="474.7" font-size="12" text-anchor="start" >G159D uP</text>
<line x1="881" y1="487.9" x2="896" y2="487.9" stroke="#b8222a" stroke-width="2.9"/>
<text x="904.3" y="491.7" font-size="12" text-anchor="start" >G159D SEP</text>
<clipPath id="cpCL0"><rect x="252.2" y="855.4" width="363.50000000000006" height="273.0000000000001"/></clipPath>
<path d="M371.3,1128.4 C375.2,1128.2 389.1,1127.7 394.4,1127.2 C399.7,1126.7 400.4,1126.2 403.1,1125.2 C405.7,1124.1 408.1,1123.0 410.3,1120.9 C412.5,1118.7 414.4,1115.6 416.1,1112.2 C417.8,1108.8 419.0,1105.4 420.4,1100.6 C421.9,1095.8 423.3,1090.0 424.8,1083.3 C426.2,1076.6 427.6,1068.9 429.1,1060.2 C430.5,1051.5 432.0,1040.9 433.4,1031.3 C434.9,1021.7 436.3,1012.1 437.8,1002.4 C439.2,992.8 440.6,982.2 442.1,973.5 C443.5,964.9 445.0,957.7 446.4,950.4 C447.9,943.2 449.3,936.2 450.8,930.2 C452.2,924.2 453.6,917.9 455.1,914.3 C456.5,910.7 458.1,909.5 459.4,908.5 C460.8,907.6 462.1,907.3 463.2,908.5 C464.3,909.8 465.0,912.2 466.1,915.8 C467.1,919.4 468.2,924.0 469.5,930.2 C470.8,936.5 472.4,945.6 473.9,953.3 C475.3,961.0 476.7,968.2 478.2,976.4 C479.6,984.6 481.1,993.8 482.5,1002.4 C484.0,1011.1 485.4,1020.7 486.9,1028.4 C488.3,1036.1 489.7,1041.4 491.2,1048.6 C492.6,1055.9 494.1,1064.5 495.5,1071.7 C497.0,1079.0 498.4,1086.2 499.9,1092.0 C501.3,1097.7 502.5,1102.3 504.2,1106.4 C505.9,1110.5 507.8,1113.7 510.0,1116.5 C512.1,1119.3 514.3,1121.5 517.2,1123.2 C520.1,1124.8 523.7,1125.8 527.3,1126.6 C530.9,1127.4 536.9,1127.8 538.9,1128.1" fill="none" stroke="#3b6db3" stroke-width="3.0" stroke-linejoin="round" stroke-linecap="round" clip-path="url(#cpCL0)"/>
<path d="M310.7,1128.4 C315.0,1128.1 329.9,1127.3 336.7,1126.6 C343.4,1126.0 346.3,1125.3 351.1,1124.3 C355.9,1123.4 361.7,1121.9 365.5,1120.9 C369.4,1119.8 371.3,1119.4 374.2,1118.0 C377.1,1116.5 380.0,1114.8 382.9,1112.2 C385.8,1109.5 388.6,1106.4 391.5,1102.1 C394.4,1097.7 397.6,1092.2 400.2,1086.2 C402.8,1080.2 405.3,1072.7 407.4,1066.0 C409.6,1059.2 411.3,1053.5 413.2,1045.8 C415.1,1038.1 417.3,1028.4 419.0,1019.8 C420.7,1011.1 421.9,1001.5 423.3,993.8 C424.8,986.1 426.2,980.3 427.6,973.5 C429.1,966.8 430.5,958.9 432.0,953.3 C433.4,947.8 434.9,943.4 436.3,940.3 C437.8,937.3 439.3,935.6 440.6,935.1 C441.9,934.6 442.9,935.8 444.1,937.4 C445.3,939.0 446.5,941.0 447.9,944.7 C449.2,948.3 450.8,953.8 452.2,959.1 C453.6,964.4 455.1,970.2 456.5,976.4 C458.0,982.7 459.4,989.4 460.9,996.6 C462.3,1003.9 463.7,1012.1 465.2,1019.8 C466.6,1027.5 468.1,1035.6 469.5,1042.9 C471.0,1050.1 472.4,1056.3 473.9,1063.1 C475.3,1069.8 476.5,1076.6 478.2,1083.3 C479.9,1090.0 482.0,1097.7 484.0,1103.5 C485.9,1109.3 487.6,1114.4 489.7,1118.0 C491.9,1121.6 494.1,1123.5 497.0,1125.2 C499.9,1126.9 503.5,1127.5 507.1,1128.1 C510.7,1128.6 516.7,1128.3 518.6,1128.4" fill="none" stroke="#e17c22" stroke-width="3.0" stroke-linejoin="round" stroke-linecap="round" clip-path="url(#cpCL0)"/>
<path d="M307.8,1128.4 C312.6,1128.2 328.0,1127.6 336.7,1127.2 C345.3,1126.8 353.0,1126.7 359.8,1126.1 C366.5,1125.4 372.8,1124.8 377.1,1123.2 C381.4,1121.6 382.9,1119.3 385.8,1116.5 C388.6,1113.7 391.8,1110.0 394.4,1106.4 C397.1,1102.8 399.2,1099.7 401.6,1094.9 C404.1,1090.0 406.7,1083.3 408.9,1077.5 C411.0,1071.7 412.7,1066.5 414.6,1060.2 C416.6,1053.9 418.7,1047.2 420.4,1040.0 C422.1,1032.8 423.3,1024.6 424.8,1016.9 C426.2,1009.2 427.6,1001.0 429.1,993.8 C430.5,986.5 432.0,980.3 433.4,973.5 C434.9,966.8 436.3,959.1 437.8,953.3 C439.2,947.5 440.6,943.2 442.1,938.9 C443.5,934.5 445.2,930.1 446.4,927.3 C447.6,924.5 448.3,922.8 449.3,922.1 C450.3,921.4 451.0,921.6 452.2,923.0 C453.4,924.3 455.1,926.6 456.5,930.2 C458.0,933.8 459.4,938.4 460.9,944.7 C462.3,950.9 463.7,960.1 465.2,967.8 C466.6,975.5 468.1,983.2 469.5,990.9 C471.0,998.6 472.4,1006.3 473.9,1014.0 C475.3,1021.7 476.7,1029.4 478.2,1037.1 C479.6,1044.8 481.1,1053.0 482.5,1060.2 C484.0,1067.4 485.2,1073.7 486.9,1080.4 C488.5,1087.2 490.7,1094.9 492.6,1100.6 C494.6,1106.4 496.5,1111.5 498.4,1115.1 C500.3,1118.7 501.8,1120.4 504.2,1122.3 C506.6,1124.2 509.0,1125.6 512.9,1126.6 C516.7,1127.6 524.9,1128.1 527.3,1128.4" fill="none" stroke="#529d34" stroke-width="3.0" stroke-linejoin="round" stroke-linecap="round" clip-path="url(#cpCL0)"/>
<path d="M345.3,1128.4 C349.7,1128.2 362.7,1127.8 371.3,1127.5 C380.0,1127.2 391.5,1127.3 397.3,1126.6 C403.1,1126.0 403.6,1125.2 406.0,1123.7 C408.4,1122.3 409.8,1120.9 411.8,1118.0 C413.7,1115.1 415.6,1111.7 417.5,1106.4 C419.5,1101.1 421.6,1093.4 423.3,1086.2 C425.0,1079.0 426.2,1071.7 427.6,1063.1 C429.1,1054.4 430.5,1043.8 432.0,1034.2 C433.4,1024.6 434.9,1014.5 436.3,1005.3 C437.8,996.2 439.2,987.5 440.6,979.3 C442.1,971.1 443.5,962.9 445.0,956.2 C446.4,949.5 447.9,944.4 449.3,938.9 C450.8,933.3 452.2,927.2 453.6,923.0 C455.1,918.8 456.5,914.2 458.0,913.5 C459.4,912.7 460.9,915.4 462.3,918.7 C463.7,921.9 465.2,927.3 466.6,933.1 C468.1,938.9 469.5,946.1 471.0,953.3 C472.4,960.5 473.9,968.7 475.3,976.4 C476.7,984.1 478.2,991.8 479.6,999.5 C481.1,1007.2 482.5,1014.9 484.0,1022.6 C485.4,1030.3 486.9,1038.5 488.3,1045.8 C489.7,1053.0 491.2,1059.2 492.6,1066.0 C494.1,1072.7 495.5,1079.9 497.0,1086.2 C498.4,1092.5 499.6,1098.9 501.3,1103.5 C503.0,1108.1 504.9,1110.7 507.1,1113.6 C509.2,1116.5 511.4,1118.9 514.3,1120.9 C517.2,1122.8 520.8,1124.1 524.4,1125.2 C528.0,1126.3 531.1,1127.0 536.0,1127.5 C540.8,1128.0 550.4,1128.2 553.3,1128.4" fill="none" stroke="#b8222a" stroke-width="3.0" stroke-linejoin="round" stroke-linecap="round" clip-path="url(#cpCL0)"/>
<rect x="252.2" y="860.4" width="363.50000000000006" height="268.0000000000001" fill="none" stroke="#000" stroke-width="1.6"/>
<line x1="292.6" y1="1128.4" x2="292.6" y2="1135.4" stroke="#000" stroke-width="1.6"/>
<text x="292.6" y="1155.1" font-size="15.2" text-anchor="middle" >80</text>
<line x1="373.4" y1="1128.4" x2="373.4" y2="1135.4" stroke="#000" stroke-width="1.6"/>
<text x="373.4" y="1155.1" font-size="15.2" text-anchor="middle" >100</text>
<line x1="454.1" y1="1128.4" x2="454.1" y2="1135.4" stroke="#000" stroke-width="1.6"/>
<text x="454.1" y="1155.1" font-size="15.2" text-anchor="middle" >120</text>
<line x1="534.9" y1="1128.4" x2="534.9" y2="1135.4" stroke="#000" stroke-width="1.6"/>
<text x="534.9" y="1155.1" font-size="15.2" text-anchor="middle" >140</text>
<line x1="615.7" y1="1128.4" x2="615.7" y2="1135.4" stroke="#000" stroke-width="1.6"/>
<text x="615.7" y="1155.1" font-size="15.2" text-anchor="middle" >160</text>
<line x1="245.2" y1="1128.4" x2="252.2" y2="1128.4" stroke="#000" stroke-width="1.6"/>
<text x="236.2" y="1133.6" font-size="15.2" text-anchor="end" >0.00</text>
<line x1="245.2" y1="1074.8" x2="252.2" y2="1074.8" stroke="#000" stroke-width="1.6"/>
<text x="236.2" y="1080.0" font-size="15.2" text-anchor="end" >0.02</text>
<line x1="245.2" y1="1021.2" x2="252.2" y2="1021.2" stroke="#000" stroke-width="1.6"/>
<text x="236.2" y="1026.4" font-size="15.2" text-anchor="end" >0.04</text>
<line x1="245.2" y1="967.6" x2="252.2" y2="967.6" stroke="#000" stroke-width="1.6"/>
<text x="236.2" y="972.8" font-size="15.2" text-anchor="end" >0.06</text>
<line x1="245.2" y1="914.0" x2="252.2" y2="914.0" stroke="#000" stroke-width="1.6"/>
<text x="236.2" y="919.2" font-size="15.2" text-anchor="end" >0.08</text>
<line x1="245.2" y1="860.4" x2="252.2" y2="860.4" stroke="#000" stroke-width="1.6"/>
<text x="236.2" y="865.6" font-size="15.2" text-anchor="end" >0.10</text>
<text x="434.0" y="845.9" font-size="19.8" text-anchor="middle" >Hinge angle distribution for G159D SilybinB</text>
<text x="434.0" y="1180.6" font-size="19.8" text-anchor="middle" >Hinge angle (degree)</text>
<text x="192.9" y="994.4" font-size="19.7" text-anchor="middle" transform="rotate(-90 192.9 994.4)">Probability density</text>
<rect x="257.8" y="866.4" width="111.81879687499998" height="78.79999999999995" rx="3" fill="#fff" fill-opacity="0.8" stroke="#cfcfcf" stroke-width="1.5"/>
<line x1="262.0" y1="876.4" x2="278.09999999999997" y2="876.4" stroke="#3b6db3" stroke-width="3.0"/>
<text x="287.3" y="880.7" font-size="13.3" text-anchor="start" >uP apo</text>
<line x1="262.0" y1="895.2" x2="278.09999999999997" y2="895.2" stroke="#e17c22" stroke-width="3.0"/>
<text x="287.3" y="899.5" font-size="13.3" text-anchor="start" >SEP apo</text>
<line x1="262.0" y1="914.0" x2="278.09999999999997" y2="914.0" stroke="#529d34" stroke-width="3.0"/>
<text x="287.3" y="918.3" font-size="13.3" text-anchor="start" >uP SilybinB</text>
<line x1="262.0" y1="932.8" x2="278.09999999999997" y2="932.8" stroke="#b8222a" stroke-width="3.0"/>
<text x="287.3" y="937.1" font-size="13.3" text-anchor="start" >SEP SilybinB</text>
<clipPath id="cpCR0"><rect x="856.8" y="855.4" width="363.20000000000005" height="273.0000000000001"/></clipPath>
<line x1="1080.3" y1="860.4" x2="1080.3" y2="1128.4" stroke="#000" stroke-width="1.9"/>
<line x1="1136.2" y1="860.4" x2="1136.2" y2="1128.4" stroke="#000" stroke-width="1.9"/>
<path d="M969.5,1128.4 C973.4,1128.3 986.9,1128.3 992.6,1127.8 C998.4,1127.3 1001.1,1126.8 1004.2,1125.2 C1007.3,1123.5 1009.5,1121.1 1011.4,1118.0 C1013.3,1114.8 1014.3,1111.7 1015.8,1106.4 C1017.2,1101.1 1018.6,1094.4 1020.1,1086.2 C1021.5,1078.0 1023.2,1067.4 1024.4,1057.3 C1025.6,1047.2 1026.3,1036.6 1027.3,1025.5 C1028.3,1014.5 1029.2,1001.9 1030.2,990.9 C1031.2,979.8 1032.1,968.2 1033.1,959.1 C1034.1,950.0 1035.0,941.3 1036.0,936.0 C1036.9,930.7 1037.9,928.9 1038.9,927.3 C1039.8,925.8 1040.8,925.8 1041.8,926.7 C1042.7,927.7 1043.7,929.2 1044.6,933.1 C1045.6,937.0 1046.6,943.7 1047.5,950.4 C1048.5,957.2 1049.5,966.3 1050.4,973.5 C1051.4,980.8 1052.3,987.5 1053.3,993.8 C1054.3,1000.0 1055.2,1005.3 1056.2,1011.1 C1057.2,1016.9 1057.9,1022.6 1059.1,1028.4 C1060.3,1034.2 1062.0,1040.0 1063.4,1045.8 C1064.9,1051.5 1066.3,1056.8 1067.7,1063.1 C1069.2,1069.3 1070.6,1076.6 1072.1,1083.3 C1073.5,1090.0 1074.7,1097.7 1076.4,1103.5 C1078.1,1109.3 1080.3,1114.5 1082.2,1118.0 C1084.1,1121.4 1085.6,1122.7 1088.0,1124.3 C1090.4,1125.9 1093.3,1126.8 1096.6,1127.5 C1100.0,1128.2 1106.3,1128.2 1108.2,1128.4" fill="none" stroke="#3b6db3" stroke-width="3.0" stroke-linejoin="round" stroke-linecap="round" clip-path="url(#cpCR0)"/>
<path d="M966.1,1128.4 C968.6,1128.3 976.7,1128.2 981.1,1127.8 C985.5,1127.4 988.8,1127.0 992.6,1126.1 C996.5,1125.1 1001.1,1124.1 1004.2,1122.3 C1007.3,1120.5 1009.5,1118.2 1011.4,1115.1 C1013.3,1111.9 1014.3,1108.8 1015.8,1103.5 C1017.2,1098.2 1018.6,1091.5 1020.1,1083.3 C1021.5,1075.1 1023.2,1063.6 1024.4,1054.4 C1025.6,1045.3 1026.3,1038.5 1027.3,1028.4 C1028.3,1018.3 1029.2,1003.9 1030.2,993.8 C1031.2,983.6 1032.1,974.5 1033.1,967.8 C1034.1,961.0 1035.0,956.3 1036.0,953.3 C1036.9,950.3 1037.9,949.9 1038.9,949.9 C1039.8,949.9 1040.5,950.3 1041.8,953.3 C1043.0,956.3 1044.6,962.5 1046.1,967.8 C1047.5,973.1 1048.7,978.4 1050.4,985.1 C1052.1,991.8 1054.5,1001.0 1056.2,1008.2 C1057.9,1015.4 1058.8,1022.2 1060.5,1028.4 C1062.2,1034.7 1064.4,1040.0 1066.3,1045.8 C1068.2,1051.5 1070.2,1057.8 1072.1,1063.1 C1074.0,1068.4 1075.9,1072.7 1077.9,1077.5 C1079.8,1082.3 1081.7,1087.2 1083.6,1092.0 C1085.6,1096.8 1087.2,1102.1 1089.4,1106.4 C1091.6,1110.7 1094.0,1114.8 1096.6,1118.0 C1099.3,1121.1 1101.9,1123.5 1105.3,1125.2 C1108.7,1126.8 1111.6,1127.3 1116.9,1127.8 C1122.1,1128.3 1133.7,1128.3 1137.1,1128.4" fill="none" stroke="#e17c22" stroke-width="3.0" stroke-linejoin="round" stroke-linecap="round" clip-path="url(#cpCR0)"/>
<path d="M975.3,1128.4 C980.6,1128.3 1000.4,1128.6 1007.1,1128.1 C1013.8,1127.5 1013.3,1126.6 1015.8,1125.2 C1018.2,1123.7 1019.6,1122.1 1021.5,1119.4 C1023.5,1116.8 1025.4,1114.4 1027.3,1109.3 C1029.2,1104.2 1031.4,1096.3 1033.1,1089.1 C1034.8,1081.9 1036.0,1075.6 1037.4,1066.0 C1038.9,1056.3 1040.3,1041.9 1041.8,1031.3 C1043.2,1020.7 1044.6,1012.1 1046.1,1002.4 C1047.5,992.8 1049.0,981.2 1050.4,973.5 C1051.9,965.8 1053.3,960.3 1054.8,956.2 C1056.2,952.1 1057.6,950.0 1059.1,949.0 C1060.5,948.0 1062.0,948.3 1063.4,950.4 C1064.9,952.6 1066.3,957.7 1067.7,962.0 C1069.2,966.3 1070.6,970.2 1072.1,976.4 C1073.5,982.7 1075.0,991.4 1076.4,999.5 C1077.9,1007.7 1079.3,1016.9 1080.7,1025.5 C1082.2,1034.2 1083.6,1043.3 1085.1,1051.5 C1086.5,1059.7 1088.0,1067.4 1089.4,1074.6 C1090.9,1081.9 1092.1,1088.6 1093.7,1094.9 C1095.4,1101.1 1097.4,1107.6 1099.5,1112.2 C1101.7,1116.8 1104.1,1119.9 1106.7,1122.3 C1109.4,1124.7 1111.8,1125.6 1115.4,1126.6 C1119.0,1127.6 1126.2,1128.1 1128.4,1128.4" fill="none" stroke="#529d34" stroke-width="3.0" stroke-linejoin="round" stroke-linecap="round" clip-path="url(#cpCR0)"/>
<path d="M934.9,1128.4 C938.7,1128.3 951.2,1128.1 958.0,1127.8 C964.7,1127.5 971.0,1127.2 975.3,1126.6 C979.6,1126.1 981.1,1125.3 984.0,1124.3 C986.9,1123.4 989.8,1121.9 992.6,1120.9 C995.5,1119.8 998.4,1119.4 1001.3,1118.0 C1004.2,1116.5 1007.3,1114.6 1010.0,1112.2 C1012.6,1109.8 1014.8,1106.9 1017.2,1103.5 C1019.6,1100.2 1022.3,1096.3 1024.4,1092.0 C1026.6,1087.6 1028.5,1082.8 1030.2,1077.5 C1031.9,1072.2 1033.1,1066.5 1034.5,1060.2 C1036.0,1053.9 1037.4,1047.7 1038.9,1040.0 C1040.3,1032.3 1041.8,1022.2 1043.2,1014.0 C1044.6,1005.8 1046.1,997.6 1047.5,990.9 C1049.0,984.1 1050.4,977.2 1051.9,973.5 C1053.3,969.9 1054.8,969.4 1056.2,969.2 C1057.6,969.0 1059.1,969.9 1060.5,972.1 C1062.0,974.3 1063.4,977.6 1064.9,982.2 C1066.3,986.8 1067.7,992.8 1069.2,999.5 C1070.6,1006.3 1072.1,1014.9 1073.5,1022.6 C1075.0,1030.3 1076.4,1038.1 1077.9,1045.8 C1079.3,1053.5 1080.7,1061.6 1082.2,1068.9 C1083.6,1076.1 1084.8,1082.8 1086.5,1089.1 C1088.2,1095.3 1090.1,1101.6 1092.3,1106.4 C1094.5,1111.2 1096.9,1115.0 1099.5,1118.0 C1102.2,1121.0 1104.8,1122.8 1108.2,1124.3 C1111.6,1125.9 1114.9,1126.6 1119.7,1127.2 C1124.6,1127.8 1130.8,1127.9 1137.1,1128.1 C1143.3,1128.3 1153.9,1128.3 1157.3,1128.4" fill="none" stroke="#b8222a" stroke-width="3.0" stroke-linejoin="round" stroke-linecap="round" clip-path="url(#cpCR0)"/>
<rect x="856.8" y="860.4" width="363.20000000000005" height="268.0000000000001" fill="none" stroke="#000" stroke-width="1.6"/>
<line x1="884.7" y1="1128.4" x2="884.7" y2="1135.4" stroke="#000" stroke-width="1.6"/>
<text x="884.7" y="1155.1" font-size="15.2" text-anchor="middle" >40</text>
<line x1="940.6" y1="1128.4" x2="940.6" y2="1135.4" stroke="#000" stroke-width="1.6"/>
<text x="940.6" y="1155.1" font-size="15.2" text-anchor="middle" >60</text>
<line x1="996.5" y1="1128.4" x2="996.5" y2="1135.4" stroke="#000" stroke-width="1.6"/>
<text x="996.5" y="1155.1" font-size="15.2" text-anchor="middle" >80</text>
<line x1="1052.4" y1="1128.4" x2="1052.4" y2="1135.4" stroke="#000" stroke-width="1.6"/>
<text x="1052.4" y="1155.1" font-size="15.2" text-anchor="middle" >100</text>
<line x1="1108.2" y1="1128.4" x2="1108.2" y2="1135.4" stroke="#000" stroke-width="1.6"/>
<text x="1108.2" y="1155.1" font-size="15.2" text-anchor="middle" >120</text>
<line x1="1164.1" y1="1128.4" x2="1164.1" y2="1135.4" stroke="#000" stroke-width="1.6"/>
<text x="1164.1" y="1155.1" font-size="15.2" text-anchor="middle" >140</text>
<line x1="1220.0" y1="1128.4" x2="1220.0" y2="1135.4" stroke="#000" stroke-width="1.6"/>
<text x="1220.0" y="1155.1" font-size="15.2" text-anchor="middle" >160</text>
<line x1="849.8" y1="1128.4" x2="856.8" y2="1128.4" stroke="#000" stroke-width="1.6"/>
<text x="840.8" y="1133.6" font-size="15.2" text-anchor="end" >0.00</text>
<line x1="849.8" y1="1074.8" x2="856.8" y2="1074.8" stroke="#000" stroke-width="1.6"/>
<text x="840.8" y="1080.0" font-size="15.2" text-anchor="end" >0.02</text>
<line x1="849.8" y1="1021.2" x2="856.8" y2="1021.2" stroke="#000" stroke-width="1.6"/>
<text x="840.8" y="1026.4" font-size="15.2" text-anchor="end" >0.04</text>
<line x1="849.8" y1="967.6" x2="856.8" y2="967.6" stroke="#000" stroke-width="1.6"/>
<text x="840.8" y="972.8" font-size="15.2" text-anchor="end" >0.06</text>
<line x1="849.8" y1="914.0" x2="856.8" y2="914.0" stroke="#000" stroke-width="1.6"/>
<text x="840.8" y="919.2" font-size="15.2" text-anchor="end" >0.08</text>
<line x1="849.8" y1="860.4" x2="856.8" y2="860.4" stroke="#000" stroke-width="1.6"/>
<text x="840.8" y="865.6" font-size="15.2" text-anchor="end" >0.10</text>
<text x="1038.4" y="845.9" font-size="19.8" text-anchor="middle" >A-B angle distribution for G159D SilybinB</text>
<text x="1038.4" y="1180.6" font-size="19.8" text-anchor="middle" >Supplement of interhelical angle (degree)</text>
<text x="797.9" y="994.4" font-size="19.7" text-anchor="middle" transform="rotate(-90 797.9 994.4)">Probability density</text>
<text x="983.8" y="885.2" font-size="19.8" text-anchor="start" >Open</text>
<text x="1148.0" y="885.2" font-size="19.8" text-anchor="start" >Closed</text>
<rect x="862.1999999999999" y="866.4" width="111.91879687500011" height="78.79999999999995" rx="3" fill="#fff" fill-opacity="0.8" stroke="#cfcfcf" stroke-width="1.5"/>
<line x1="866.3" y1="876.4" x2="882.6999999999999" y2="876.4" stroke="#3b6db3" stroke-width="3.0"/>
<text x="891.8" y="880.7" font-size="13.3" text-anchor="start" >uP apo</text>
<line x1="866.3" y1="895.2" x2="882.6999999999999" y2="895.2" stroke="#e17c22" stroke-width="3.0"/>
<text x="891.8" y="899.5" font-size="13.3" text-anchor="start" >SEP apo</text>
<line x1="866.3" y1="914.0" x2="882.6999999999999" y2="914.0" stroke="#529d34" stroke-width="3.0"/>
<text x="891.8" y="918.3" font-size="13.3" text-anchor="start" >uP SilybinB</text>
<line x1="866.3" y1="932.8" x2="882.6999999999999" y2="932.8" stroke="#b8222a" stroke-width="3.0"/>
<text x="891.8" y="937.1" font-size="13.3" text-anchor="start" >SEP SilybinB</text>
<clipPath id="cpCL1"><rect x="252.2" y="1261.4" width="363.50000000000006" height="273.0"/></clipPath>
<path d="M371.3,1534.4 C375.2,1534.2 389.1,1533.7 394.4,1533.2 C399.7,1532.7 400.4,1532.2 403.1,1531.2 C405.7,1530.1 408.1,1529.0 410.3,1526.9 C412.5,1524.7 414.4,1521.6 416.1,1518.2 C417.8,1514.8 419.0,1511.4 420.4,1506.6 C421.9,1501.8 423.3,1496.0 424.8,1489.3 C426.2,1482.6 427.6,1474.9 429.1,1466.2 C430.5,1457.5 432.0,1446.9 433.4,1437.3 C434.9,1427.7 436.3,1418.1 437.8,1408.4 C439.2,1398.8 440.6,1388.2 442.1,1379.5 C443.5,1370.9 445.0,1363.7 446.4,1356.4 C447.9,1349.2 449.3,1342.2 450.8,1336.2 C452.2,1330.2 453.6,1323.9 455.1,1320.3 C456.5,1316.7 458.1,1315.5 459.4,1314.5 C460.8,1313.6 462.1,1313.3 463.2,1314.5 C464.3,1315.8 465.0,1318.2 466.1,1321.8 C467.1,1325.4 468.2,1330.0 469.5,1336.2 C470.8,1342.5 472.4,1351.6 473.9,1359.3 C475.3,1367.0 476.7,1374.2 478.2,1382.4 C479.6,1390.6 481.1,1399.8 482.5,1408.4 C484.0,1417.1 485.4,1426.7 486.9,1434.4 C488.3,1442.1 489.7,1447.4 491.2,1454.6 C492.6,1461.9 494.1,1470.5 495.5,1477.7 C497.0,1485.0 498.4,1492.2 499.9,1498.0 C501.3,1503.7 502.5,1508.3 504.2,1512.4 C505.9,1516.5 507.8,1519.7 510.0,1522.5 C512.1,1525.3 514.3,1527.5 517.2,1529.2 C520.1,1530.8 523.7,1531.8 527.3,1532.6 C530.9,1533.4 536.9,1533.8 538.9,1534.1" fill="none" stroke="#3b6db3" stroke-width="3.0" stroke-linejoin="round" stroke-linecap="round" clip-path="url(#cpCL1)"/>
<path d="M310.7,1534.4 C315.0,1534.1 329.9,1533.3 336.7,1532.6 C343.4,1532.0 346.3,1531.3 351.1,1530.3 C355.9,1529.4 361.7,1527.9 365.5,1526.9 C369.4,1525.8 371.3,1525.4 374.2,1524.0 C377.1,1522.5 380.0,1520.8 382.9,1518.2 C385.8,1515.5 388.6,1512.4 391.5,1508.1 C394.4,1503.7 397.6,1498.2 400.2,1492.2 C402.8,1486.2 405.3,1478.7 407.4,1472.0 C409.6,1465.2 411.3,1459.5 413.2,1451.8 C415.1,1444.1 417.3,1434.4 419.0,1425.8 C420.7,1417.1 421.9,1407.5 423.3,1399.8 C424.8,1392.1 426.2,1386.3 427.6,1379.5 C429.1,1372.8 430.5,1364.9 432.0,1359.3 C433.4,1353.8 434.9,1349.4 436.3,1346.3 C437.8,1343.3 439.3,1341.6 440.6,1341.1 C441.9,1340.6 442.9,1341.8 444.1,1343.4 C445.3,1345.0 446.5,1347.0 447.9,1350.7 C449.2,1354.3 450.8,1359.8 452.2,1365.1 C453.6,1370.4 455.1,1376.2 456.5,1382.4 C458.0,1388.7 459.4,1395.4 460.9,1402.6 C462.3,1409.9 463.7,1418.1 465.2,1425.8 C466.6,1433.5 468.1,1441.6 469.5,1448.9 C471.0,1456.1 472.4,1462.3 473.9,1469.1 C475.3,1475.8 476.5,1482.6 478.2,1489.3 C479.9,1496.0 482.0,1503.7 484.0,1509.5 C485.9,1515.3 487.6,1520.4 489.7,1524.0 C491.9,1527.6 494.1,1529.5 497.0,1531.2 C499.9,1532.9 503.5,1533.5 507.1,1534.1 C510.7,1534.6 516.7,1534.3 518.6,1534.4" fill="none" stroke="#e17c22" stroke-width="3.0" stroke-linejoin="round" stroke-linecap="round" clip-path="url(#cpCL1)"/>
<path d="M374.2,1534.4 C378.5,1534.2 393.9,1534.0 400.2,1533.5 C406.5,1533.0 408.4,1532.3 411.8,1531.2 C415.1,1530.1 417.5,1528.5 420.4,1526.9 C423.3,1525.2 426.4,1523.5 429.1,1521.1 C431.7,1518.7 434.1,1516.7 436.3,1512.4 C438.5,1508.1 440.4,1501.8 442.1,1495.1 C443.8,1488.3 445.0,1480.6 446.4,1472.0 C447.9,1463.3 449.3,1452.7 450.8,1443.1 C452.2,1433.5 453.6,1423.3 455.1,1414.2 C456.5,1405.1 458.0,1395.9 459.4,1388.2 C460.9,1380.5 462.3,1374.0 463.7,1368.0 C465.2,1362.0 466.6,1355.7 468.1,1352.1 C469.5,1348.5 471.0,1346.8 472.4,1346.3 C473.9,1345.8 475.3,1347.0 476.7,1349.2 C478.2,1351.4 479.6,1355.2 481.1,1359.3 C482.5,1363.4 484.0,1368.9 485.4,1373.8 C486.9,1378.6 488.3,1383.4 489.7,1388.2 C491.2,1393.0 492.6,1398.3 494.1,1402.6 C495.5,1407.0 496.7,1410.6 498.4,1414.2 C500.1,1417.8 502.5,1420.5 504.2,1424.3 C505.9,1428.2 507.1,1432.3 508.5,1437.3 C510.0,1442.4 511.4,1448.9 512.9,1454.6 C514.3,1460.4 515.7,1466.2 517.2,1472.0 C518.6,1477.7 520.1,1483.5 521.5,1489.3 C523.0,1495.1 524.4,1501.6 525.9,1506.6 C527.3,1511.7 528.5,1516.0 530.2,1519.6 C531.9,1523.2 533.6,1526.1 536.0,1528.3 C538.4,1530.5 540.8,1531.7 544.6,1532.6 C548.5,1533.6 554.3,1533.8 559.1,1534.1 C563.9,1534.4 571.1,1534.3 573.5,1534.4" fill="none" stroke="#529d34" stroke-width="3.0" stroke-linejoin="round" stroke-linecap="round" clip-path="url(#cpCL1)"/>
<path d="M336.7,1534.4 C340.5,1534.2 354.5,1534.2 359.8,1533.2 C365.1,1532.2 365.5,1530.8 368.4,1528.3 C371.3,1525.8 374.2,1521.8 377.1,1518.2 C380.0,1514.6 382.9,1510.2 385.8,1506.6 C388.6,1503.0 391.5,1499.7 394.4,1496.5 C397.3,1493.4 400.2,1490.7 403.1,1487.9 C406.0,1485.0 409.1,1482.3 411.8,1479.2 C414.4,1476.1 416.8,1472.7 419.0,1469.1 C421.1,1465.5 422.8,1461.9 424.8,1457.5 C426.7,1453.2 428.6,1447.9 430.5,1443.1 C432.5,1438.3 434.4,1433.0 436.3,1428.6 C438.2,1424.3 440.2,1420.2 442.1,1417.1 C444.0,1414.0 446.2,1411.3 447.9,1409.9 C449.5,1408.4 450.8,1408.2 452.2,1408.4 C453.6,1408.7 454.8,1409.4 456.5,1411.3 C458.2,1413.2 460.4,1417.1 462.3,1420.0 C464.2,1422.9 466.2,1426.2 468.1,1428.6 C470.0,1431.1 471.9,1432.3 473.9,1434.4 C475.8,1436.6 477.7,1439.2 479.6,1441.6 C481.6,1444.1 483.2,1446.5 485.4,1448.9 C487.6,1451.3 490.5,1453.2 492.6,1456.1 C494.8,1459.0 496.5,1462.6 498.4,1466.2 C500.3,1469.8 502.3,1473.9 504.2,1477.7 C506.1,1481.6 508.0,1485.5 510.0,1489.3 C511.9,1493.2 513.8,1497.0 515.7,1500.9 C517.7,1504.7 519.6,1508.8 521.5,1512.4 C523.4,1516.0 525.1,1519.6 527.3,1522.5 C529.5,1525.4 531.6,1528.0 534.5,1529.7 C537.4,1531.5 540.5,1532.4 544.6,1533.2 C548.7,1534.0 556.7,1534.2 559.1,1534.4" fill="none" stroke="#b8222a" stroke-width="3.0" stroke-linejoin="round" stroke-linecap="round" clip-path="url(#cpCL1)"/>
<rect x="252.2" y="1266.4" width="363.50000000000006" height="268.0" fill="none" stroke="#000" stroke-width="1.6"/>
<line x1="292.6" y1="1534.4" x2="292.6" y2="1541.4" stroke="#000" stroke-width="1.6"/>
<text x="292.6" y="1561.1" font-size="15.2" text-anchor="middle" >80</text>
<line x1="373.4" y1="1534.4" x2="373.4" y2="1541.4" stroke="#000" stroke-width="1.6"/>
<text x="373.4" y="1561.1" font-size="15.2" text-anchor="middle" >100</text>
<line x1="454.1" y1="1534.4" x2="454.1" y2="1541.4" stroke="#000" stroke-width="1.6"/>
<text x="454.1" y="1561.1" font-size="15.2" text-anchor="middle" >120</text>
<line x1="534.9" y1="1534.4" x2="534.9" y2="1541.4" stroke="#000" stroke-width="1.6"/>
<text x="534.9" y="1561.1" font-size="15.2" text-anchor="middle" >140</text>
<line x1="615.7" y1="1534.4" x2="615.7" y2="1541.4" stroke="#000" stroke-width="1.6"/>
<text x="615.7" y="1561.1" font-size="15.2" text-anchor="middle" >160</text>
<line x1="245.2" y1="1534.4" x2="252.2" y2="1534.4" stroke="#000" stroke-width="1.6"/>
<text x="236.2" y="1539.6" font-size="15.2" text-anchor="end" >0.00</text>
<line x1="245.2" y1="1480.8" x2="252.2" y2="1480.8" stroke="#000" stroke-width="1.6"/>
<text x="236.2" y="1486.0" font-size="15.2" text-anchor="end" >0.02</text>
<line x1="245.2" y1="1427.2" x2="252.2" y2="1427.2" stroke="#000" stroke-width="1.6"/>
<text x="236.2" y="1432.4" font-size="15.2" text-anchor="end" >0.04</text>
<line x1="245.2" y1="1373.6" x2="252.2" y2="1373.6" stroke="#000" stroke-width="1.6"/>
<text x="236.2" y="1378.8" font-size="15.2" text-anchor="end" >0.06</text>
<line x1="245.2" y1="1320.0" x2="252.2" y2="1320.0" stroke="#000" stroke-width="1.6"/>
<text x="236.2" y="1325.2" font-size="15.2" text-anchor="end" >0.08</text>
<line x1="245.2" y1="1266.4" x2="252.2" y2="1266.4" stroke="#000" stroke-width="1.6"/>
<text x="236.2" y="1271.6" font-size="15.2" text-anchor="end" >0.10</text>
<text x="434.0" y="1251.9" font-size="19.8" text-anchor="middle" >Hinge angle distribution for G159D SilybinA</text>
<text x="434.0" y="1586.6" font-size="19.8" text-anchor="middle" >Hinge angle (degree)</text>
<text x="192.9" y="1400.4" font-size="19.7" text-anchor="middle" transform="rotate(-90 192.9 1400.4)">Probability density</text>
<rect x="257.8" y="1272.4" width="111.81879687499998" height="78.79999999999995" rx="3" fill="#fff" fill-opacity="0.8" stroke="#cfcfcf" stroke-width="1.5"/>
<line x1="262.0" y1="1282.4" x2="278.09999999999997" y2="1282.4" stroke="#3b6db3" stroke-width="3.0"/>
<text x="287.3" y="1286.7" font-size="13.3" text-anchor="start" >uP apo</text>
<line x1="262.0" y1="1301.2" x2="278.09999999999997" y2="1301.2" stroke="#e17c22" stroke-width="3.0"/>
<text x="287.3" y="1305.5" font-size="13.3" text-anchor="start" >SEP apo</text>
<line x1="262.0" y1="1320.0" x2="278.09999999999997" y2="1320.0" stroke="#529d34" stroke-width="3.0"/>
<text x="287.3" y="1324.3" font-size="13.3" text-anchor="start" >uP SilybinA</text>
<line x1="262.0" y1="1338.8" x2="278.09999999999997" y2="1338.8" stroke="#b8222a" stroke-width="3.0"/>
<text x="287.3" y="1343.1" font-size="13.3" text-anchor="start" >SEP SilybinA</text>
<clipPath id="cpCR1"><rect x="856.8" y="1261.4" width="363.20000000000005" height="273.0"/></clipPath>
<line x1="1080.3" y1="1266.4" x2="1080.3" y2="1534.4" stroke="#000" stroke-width="1.9"/>
<line x1="1136.2" y1="1266.4" x2="1136.2" y2="1534.4" stroke="#000" stroke-width="1.9"/>
<path d="M969.5,1534.4 C973.4,1534.3 986.9,1534.3 992.6,1533.8 C998.4,1533.3 1001.1,1532.8 1004.2,1531.2 C1007.3,1529.5 1009.5,1527.1 1011.4,1524.0 C1013.3,1520.8 1014.3,1517.7 1015.8,1512.4 C1017.2,1507.1 1018.6,1500.4 1020.1,1492.2 C1021.5,1484.0 1023.2,1473.4 1024.4,1463.3 C1025.6,1453.2 1026.3,1442.6 1027.3,1431.5 C1028.3,1420.5 1029.2,1407.9 1030.2,1396.9 C1031.2,1385.8 1032.1,1374.2 1033.1,1365.1 C1034.1,1356.0 1035.0,1347.3 1036.0,1342.0 C1036.9,1336.7 1037.9,1334.9 1038.9,1333.3 C1039.8,1331.8 1040.8,1331.8 1041.8,1332.7 C1042.7,1333.7 1043.7,1335.2 1044.6,1339.1 C1045.6,1343.0 1046.6,1349.7 1047.5,1356.4 C1048.5,1363.2 1049.5,1372.3 1050.4,1379.5 C1051.4,1386.8 1052.3,1393.5 1053.3,1399.8 C1054.3,1406.0 1055.2,1411.3 1056.2,1417.1 C1057.2,1422.9 1057.9,1428.6 1059.1,1434.4 C1060.3,1440.2 1062.0,1446.0 1063.4,1451.8 C1064.9,1457.5 1066.3,1462.8 1067.7,1469.1 C1069.2,1475.3 1070.6,1482.6 1072.1,1489.3 C1073.5,1496.0 1074.7,1503.7 1076.4,1509.5 C1078.1,1515.3 1080.3,1520.5 1082.2,1524.0 C1084.1,1527.4 1085.6,1528.7 1088.0,1530.3 C1090.4,1531.9 1093.3,1532.8 1096.6,1533.5 C1100.0,1534.2 1106.3,1534.2 1108.2,1534.4" fill="none" stroke="#3b6db3" stroke-width="3.0" stroke-linejoin="round" stroke-linecap="round" clip-path="url(#cpCR1)"/>
<path d="M966.1,1534.4 C968.6,1534.3 976.7,1534.2 981.1,1533.8 C985.5,1533.4 988.8,1533.0 992.6,1532.1 C996.5,1531.1 1001.1,1530.1 1004.2,1528.3 C1007.3,1526.5 1009.5,1524.2 1011.4,1521.1 C1013.3,1517.9 1014.3,1514.8 1015.8,1509.5 C1017.2,1504.2 1018.6,1497.5 1020.1,1489.3 C1021.5,1481.1 1023.2,1469.6 1024.4,1460.4 C1025.6,1451.3 1026.3,1444.5 1027.3,1434.4 C1028.3,1424.3 1029.2,1409.9 1030.2,1399.8 C1031.2,1389.6 1032.1,1380.5 1033.1,1373.8 C1034.1,1367.0 1035.0,1362.3 1036.0,1359.3 C1036.9,1356.3 1037.9,1355.9 1038.9,1355.9 C1039.8,1355.9 1040.5,1356.3 1041.8,1359.3 C1043.0,1362.3 1044.6,1368.5 1046.1,1373.8 C1047.5,1379.1 1048.7,1384.4 1050.4,1391.1 C1052.1,1397.8 1054.5,1407.0 1056.2,1414.2 C1057.9,1421.4 1058.8,1428.2 1060.5,1434.4 C1062.2,1440.7 1064.4,1446.0 1066.3,1451.8 C1068.2,1457.5 1070.2,1463.8 1072.1,1469.1 C1074.0,1474.4 1075.9,1478.7 1077.9,1483.5 C1079.8,1488.3 1081.7,1493.2 1083.6,1498.0 C1085.6,1502.8 1087.2,1508.1 1089.4,1512.4 C1091.6,1516.7 1094.0,1520.8 1096.6,1524.0 C1099.3,1527.1 1101.9,1529.5 1105.3,1531.2 C1108.7,1532.8 1111.6,1533.3 1116.9,1533.8 C1122.1,1534.3 1133.7,1534.3 1137.1,1534.4" fill="none" stroke="#e17c22" stroke-width="3.0" stroke-linejoin="round" stroke-linecap="round" clip-path="url(#cpCR1)"/>
<path d="M882.9,1534.4 C887.7,1534.2 903.1,1533.7 911.8,1533.2 C920.4,1532.7 929.1,1532.3 934.9,1531.5 C940.7,1530.7 943.1,1529.3 946.4,1528.3 C949.8,1527.3 952.2,1526.2 955.1,1525.4 C958.0,1524.6 960.4,1523.8 963.8,1523.4 C967.1,1523.0 971.5,1523.1 975.3,1523.1 C979.2,1523.1 983.5,1523.7 986.9,1523.4 C990.2,1523.1 992.9,1522.4 995.5,1521.1 C998.2,1519.7 1000.4,1517.5 1002.8,1515.3 C1005.2,1513.1 1007.8,1510.7 1010.0,1508.1 C1012.1,1505.4 1013.8,1503.0 1015.8,1499.4 C1017.7,1495.8 1019.6,1491.5 1021.5,1486.4 C1023.5,1481.4 1025.4,1474.9 1027.3,1469.1 C1029.2,1463.3 1031.2,1457.5 1033.1,1451.8 C1035.0,1446.0 1037.2,1439.7 1038.9,1434.4 C1040.5,1429.1 1041.8,1424.1 1043.2,1420.0 C1044.6,1415.9 1045.9,1412.4 1047.5,1409.9 C1049.1,1407.4 1051.0,1405.4 1052.7,1405.0 C1054.4,1404.5 1056.1,1405.4 1057.6,1407.0 C1059.2,1408.5 1060.5,1411.1 1062.0,1414.2 C1063.4,1417.3 1064.9,1421.9 1066.3,1425.8 C1067.7,1429.6 1069.2,1433.0 1070.6,1437.3 C1072.1,1441.6 1073.5,1446.9 1075.0,1451.8 C1076.4,1456.6 1077.9,1461.4 1079.3,1466.2 C1080.7,1471.0 1082.0,1475.8 1083.6,1480.6 C1085.3,1485.5 1087.5,1490.5 1089.4,1495.1 C1091.3,1499.7 1093.0,1504.0 1095.2,1508.1 C1097.4,1512.2 1099.8,1516.5 1102.4,1519.6 C1105.1,1522.8 1107.7,1524.9 1111.1,1526.9 C1114.4,1528.8 1118.8,1530.1 1122.6,1531.2 C1126.5,1532.2 1129.9,1532.7 1134.2,1533.2 C1138.5,1533.7 1146.2,1534.2 1148.6,1534.4" fill="none" stroke="#529d34" stroke-width="3.0" stroke-linejoin="round" stroke-linecap="round" clip-path="url(#cpCR1)"/>
<path d="M952.2,1534.4 C956.1,1534.2 969.1,1533.7 975.3,1533.2 C981.6,1532.7 985.4,1532.2 989.8,1531.2 C994.1,1530.1 997.9,1529.0 1001.3,1526.9 C1004.7,1524.7 1007.6,1521.6 1010.0,1518.2 C1012.4,1514.8 1013.8,1511.4 1015.8,1506.6 C1017.7,1501.8 1019.6,1495.6 1021.5,1489.3 C1023.5,1483.0 1025.4,1475.8 1027.3,1469.1 C1029.2,1462.3 1031.2,1456.1 1033.1,1448.9 C1035.0,1441.6 1037.2,1432.5 1038.9,1425.8 C1040.5,1419.0 1041.8,1412.8 1043.2,1408.4 C1044.6,1404.1 1046.2,1401.5 1047.5,1399.8 C1048.8,1398.0 1049.8,1397.5 1051.0,1397.7 C1052.2,1398.0 1053.4,1398.9 1054.8,1401.2 C1056.1,1403.5 1057.6,1406.7 1059.1,1411.3 C1060.5,1415.9 1062.0,1422.4 1063.4,1428.6 C1064.9,1434.9 1066.3,1442.6 1067.7,1448.9 C1069.2,1455.1 1070.6,1460.4 1072.1,1466.2 C1073.5,1472.0 1075.0,1478.7 1076.4,1483.5 C1077.9,1488.3 1079.3,1492.4 1080.7,1495.1 C1082.2,1497.7 1082.9,1498.5 1085.1,1499.4 C1087.2,1500.3 1090.9,1500.1 1093.7,1500.3 C1096.6,1500.4 1099.0,1500.4 1102.4,1500.3 C1105.8,1500.1 1111.1,1499.3 1114.0,1499.4 C1116.9,1499.5 1118.1,1499.9 1119.7,1500.9 C1121.4,1501.8 1122.6,1503.3 1124.1,1505.2 C1125.5,1507.1 1127.0,1510.0 1128.4,1512.4 C1129.9,1514.8 1131.1,1517.2 1132.7,1519.6 C1134.4,1522.0 1136.4,1524.9 1138.5,1526.9 C1140.7,1528.8 1142.6,1530.1 1145.7,1531.2 C1148.9,1532.2 1150.6,1532.7 1157.3,1533.2 C1164.0,1533.7 1181.4,1534.2 1186.2,1534.4" fill="none" stroke="#b8222a" stroke-width="3.0" stroke-linejoin="round" stroke-linecap="round" clip-path="url(#cpCR1)"/>
<rect x="856.8" y="1266.4" width="363.20000000000005" height="268.0" fill="none" stroke="#000" stroke-width="1.6"/>
<line x1="884.7" y1="1534.4" x2="884.7" y2="1541.4" stroke="#000" stroke-width="1.6"/>
<text x="884.7" y="1561.1" font-size="15.2" text-anchor="middle" >40</text>
<line x1="940.6" y1="1534.4" x2="940.6" y2="1541.4" stroke="#000" stroke-width="1.6"/>
<text x="940.6" y="1561.1" font-size="15.2" text-anchor="middle" >60</text>
<line x1="996.5" y1="1534.4" x2="996.5" y2="1541.4" stroke="#000" stroke-width="1.6"/>
<text x="996.5" y="1561.1" font-size="15.2" text-anchor="middle" >80</text>
<line x1="1052.4" y1="1534.4" x2="1052.4" y2="1541.4" stroke="#000" stroke-width="1.6"/>
<text x="1052.4" y="1561.1" font-size="15.2" text-anchor="middle" >100</text>
<line x1="1108.2" y1="1534.4" x2="1108.2" y2="1541.4" stroke="#000" stroke-width="1.6"/>
<text x="1108.2" y="1561.1" font-size="15.2" text-anchor="middle" >120</text>
<line x1="1164.1" y1="1534.4" x2="1164.1" y2="1541.4" stroke="#000" stroke-width="1.6"/>
<text x="1164.1" y="1561.1" font-size="15.2" text-anchor="middle" >140</text>
<line x1="1220.0" y1="1534.4" x2="1220.0" y2="1541.4" stroke="#000" stroke-width="1.6"/>
<text x="1220.0" y="1561.1" font-size="15.2" text-anchor="middle" >160</text>
<line x1="849.8" y1="1534.4" x2="856.8" y2="1534.4" stroke="#000" stroke-width="1.6"/>
<text x="840.8" y="1539.6" font-size="15.2" text-anchor="end" >0.00</text>
<line x1="849.8" y1="1480.8" x2="856.8" y2="1480.8" stroke="#000" stroke-width="1.6"/>
<text x="840.8" y="1486.0" font-size="15.2" text-anchor="end" >0.02</text>
<line x1="849.8" y1="1427.2" x2="856.8" y2="1427.2" stroke="#000" stroke-width="1.6"/>
<text x="840.8" y="1432.4" font-size="15.2" text-anchor="end" >0.04</text>
<line x1="849.8" y1="1373.6" x2="856.8" y2="1373.6" stroke="#000" stroke-width="1.6"/>
<text x="840.8" y="1378.8" font-size="15.2" text-anchor="end" >0.06</text>
<line x1="849.8" y1="1320.0" x2="856.8" y2="1320.0" stroke="#000" stroke-width="1.6"/>
<text x="840.8" y="1325.2" font-size="15.2" text-anchor="end" >0.08</text>
<line x1="849.8" y1="1266.4" x2="856.8" y2="1266.4" stroke="#000" stroke-width="1.6"/>
<text x="840.8" y="1271.6" font-size="15.2" text-anchor="end" >0.10</text>
<text x="1038.4" y="1251.9" font-size="19.8" text-anchor="middle" >A-B angle distribution for G159D SilybinA</text>
<text x="1038.4" y="1586.6" font-size="19.8" text-anchor="middle" >Supplement of interhelical angle (degree)</text>
<text x="797.9" y="1400.4" font-size="19.7" text-anchor="middle" transform="rotate(-90 797.9 1400.4)">Probability density</text>
<text x="983.8" y="1291.2" font-size="19.8" text-anchor="start" >Open</text>
<text x="1148.0" y="1291.2" font-size="19.8" text-anchor="start" >Closed</text>
<rect x="862.1999999999999" y="1272.4" width="111.91879687500011" height="78.79999999999995" rx="3" fill="#fff" fill-opacity="0.8" stroke="#cfcfcf" stroke-width="1.5"/>
<line x1="866.3" y1="1282.4" x2="882.6999999999999" y2="1282.4" stroke="#3b6db3" stroke-width="3.0"/>
<text x="891.8" y="1286.7" font-size="13.3" text-anchor="start" >uP apo</text>
<line x1="866.3" y1="1301.2" x2="882.6999999999999" y2="1301.2" stroke="#e17c22" stroke-width="3.0"/>
<text x="891.8" y="1305.5" font-size="13.3" text-anchor="start" >SEP apo</text>
<line x1="866.3" y1="1320.0" x2="882.6999999999999" y2="1320.0" stroke="#529d34" stroke-width="3.0"/>
<text x="891.8" y="1324.3" font-size="13.3" text-anchor="start" >uP SilybinA</text>
<line x1="866.3" y1="1338.8" x2="882.6999999999999" y2="1338.8" stroke="#b8222a" stroke-width="3.0"/>
<text x="891.8" y="1343.1" font-size="13.3" text-anchor="start" >SEP SilybinA</text>
<clipPath id="cpCL2"><rect x="252.2" y="1667.4" width="363.50000000000006" height="273.0"/></clipPath>
<path d="M371.3,1940.4 C375.2,1940.2 389.1,1939.7 394.4,1939.2 C399.7,1938.7 400.4,1938.2 403.1,1937.2 C405.7,1936.1 408.1,1935.0 410.3,1932.9 C412.5,1930.7 414.4,1927.6 416.1,1924.2 C417.8,1920.8 419.0,1917.4 420.4,1912.6 C421.9,1907.8 423.3,1902.0 424.8,1895.3 C426.2,1888.6 427.6,1880.9 429.1,1872.2 C430.5,1863.5 432.0,1852.9 433.4,1843.3 C434.9,1833.7 436.3,1824.1 437.8,1814.4 C439.2,1804.8 440.6,1794.2 442.1,1785.5 C443.5,1776.9 445.0,1769.7 446.4,1762.4 C447.9,1755.2 449.3,1748.2 450.8,1742.2 C452.2,1736.2 453.6,1729.9 455.1,1726.3 C456.5,1722.7 458.1,1721.5 459.4,1720.5 C460.8,1719.6 462.1,1719.3 463.2,1720.5 C464.3,1721.8 465.0,1724.2 466.1,1727.8 C467.1,1731.4 468.2,1736.0 469.5,1742.2 C470.8,1748.5 472.4,1757.6 473.9,1765.3 C475.3,1773.0 476.7,1780.2 478.2,1788.4 C479.6,1796.6 481.1,1805.8 482.5,1814.4 C484.0,1823.1 485.4,1832.7 486.9,1840.4 C488.3,1848.1 489.7,1853.4 491.2,1860.6 C492.6,1867.9 494.1,1876.5 495.5,1883.7 C497.0,1891.0 498.4,1898.2 499.9,1904.0 C501.3,1909.7 502.5,1914.3 504.2,1918.4 C505.9,1922.5 507.8,1925.7 510.0,1928.5 C512.1,1931.3 514.3,1933.5 517.2,1935.2 C520.1,1936.8 523.7,1937.8 527.3,1938.6 C530.9,1939.4 536.9,1939.8 538.9,1940.1" fill="none" stroke="#3b6db3" stroke-width="3.0" stroke-linejoin="round" stroke-linecap="round" clip-path="url(#cpCL2)"/>
<path d="M310.7,1940.4 C315.0,1940.1 329.9,1939.3 336.7,1938.6 C343.4,1938.0 346.3,1937.3 351.1,1936.3 C355.9,1935.4 361.7,1933.9 365.5,1932.9 C369.4,1931.8 371.3,1931.4 374.2,1930.0 C377.1,1928.5 380.0,1926.8 382.9,1924.2 C385.8,1921.5 388.6,1918.4 391.5,1914.1 C394.4,1909.7 397.6,1904.2 400.2,1898.2 C402.8,1892.2 405.3,1884.7 407.4,1878.0 C409.6,1871.2 411.3,1865.5 413.2,1857.8 C415.1,1850.1 417.3,1840.4 419.0,1831.8 C420.7,1823.1 421.9,1813.5 423.3,1805.8 C424.8,1798.1 426.2,1792.3 427.6,1785.5 C429.1,1778.8 430.5,1770.9 432.0,1765.3 C433.4,1759.8 434.9,1755.4 436.3,1752.3 C437.8,1749.3 439.3,1747.6 440.6,1747.1 C441.9,1746.6 442.9,1747.8 444.1,1749.4 C445.3,1751.0 446.5,1753.0 447.9,1756.7 C449.2,1760.3 450.8,1765.8 452.2,1771.1 C453.6,1776.4 455.1,1782.2 456.5,1788.4 C458.0,1794.7 459.4,1801.4 460.9,1808.6 C462.3,1815.9 463.7,1824.1 465.2,1831.8 C466.6,1839.5 468.1,1847.6 469.5,1854.9 C471.0,1862.1 472.4,1868.3 473.9,1875.1 C475.3,1881.8 476.5,1888.6 478.2,1895.3 C479.9,1902.0 482.0,1909.7 484.0,1915.5 C485.9,1921.3 487.6,1926.4 489.7,1930.0 C491.9,1933.6 494.1,1935.5 497.0,1937.2 C499.9,1938.9 503.5,1939.5 507.1,1940.1 C510.7,1940.6 516.7,1940.3 518.6,1940.4" fill="none" stroke="#e17c22" stroke-width="3.0" stroke-linejoin="round" stroke-linecap="round" clip-path="url(#cpCL2)"/>
<path d="M304.9,1940.4 C309.2,1940.2 324.1,1940.0 330.9,1939.2 C337.6,1938.4 341.0,1937.5 345.3,1935.7 C349.7,1934.0 353.5,1931.4 356.9,1928.5 C360.2,1925.6 362.9,1922.5 365.5,1918.4 C368.2,1914.3 370.4,1909.7 372.8,1904.0 C375.2,1898.2 377.8,1890.0 380.0,1883.7 C382.1,1877.5 383.8,1872.7 385.8,1866.4 C387.7,1860.2 389.6,1852.5 391.5,1846.2 C393.5,1839.9 395.4,1834.6 397.3,1828.9 C399.2,1823.1 401.2,1816.1 403.1,1811.5 C405.0,1807.0 407.1,1803.7 408.9,1801.4 C410.6,1799.2 412.1,1798.0 413.8,1798.0 C415.5,1798.0 417.1,1799.2 419.0,1801.4 C420.8,1803.7 422.8,1807.9 424.8,1811.5 C426.7,1815.1 428.6,1819.2 430.5,1823.1 C432.5,1826.9 434.4,1830.8 436.3,1834.6 C438.2,1838.5 440.2,1842.6 442.1,1846.2 C444.0,1849.8 445.9,1853.4 447.9,1856.3 C449.8,1859.2 451.7,1861.5 453.6,1863.5 C455.6,1865.6 457.5,1867.3 459.4,1868.7 C461.3,1870.2 463.5,1870.7 465.2,1872.2 C466.9,1873.7 468.1,1875.1 469.5,1878.0 C471.0,1880.9 472.4,1885.7 473.9,1889.5 C475.3,1893.4 476.7,1897.2 478.2,1901.1 C479.6,1904.9 480.8,1908.8 482.5,1912.6 C484.2,1916.5 486.1,1920.8 488.3,1924.2 C490.5,1927.6 492.9,1930.5 495.5,1932.9 C498.2,1935.2 500.8,1936.8 504.2,1938.1 C507.6,1939.3 511.4,1939.7 515.7,1940.1 C520.1,1940.5 527.8,1940.3 530.2,1940.4" fill="none" stroke="#529d34" stroke-width="3.0" stroke-linejoin="round" stroke-linecap="round" clip-path="url(#cpCL2)"/>
<path d="M348.2,1940.4 C351.1,1940.2 360.7,1940.0 365.5,1939.5 C370.4,1939.0 373.7,1938.8 377.1,1937.2 C380.5,1935.6 382.9,1933.1 385.8,1930.0 C388.6,1926.8 391.5,1922.5 394.4,1918.4 C397.3,1914.3 400.2,1909.5 403.1,1905.4 C406.0,1901.3 408.9,1897.7 411.8,1893.9 C414.6,1890.0 418.0,1885.2 420.4,1882.3 C422.8,1879.4 424.3,1878.2 426.2,1876.5 C428.1,1874.8 430.1,1874.4 432.0,1872.2 C433.9,1870.0 435.8,1867.4 437.8,1863.5 C439.7,1859.7 441.6,1854.4 443.5,1849.1 C445.5,1843.8 447.4,1838.5 449.3,1831.8 C451.2,1825.0 453.2,1815.9 455.1,1808.6 C457.0,1801.4 458.9,1793.5 460.9,1788.4 C462.8,1783.4 465.0,1780.1 466.6,1778.3 C468.3,1776.5 469.5,1777.2 471.0,1777.5 C472.4,1777.7 473.9,1777.9 475.3,1779.8 C476.7,1781.6 478.2,1784.1 479.6,1788.4 C481.1,1792.8 482.5,1799.5 484.0,1805.8 C485.4,1812.0 486.9,1818.8 488.3,1826.0 C489.7,1833.2 491.2,1841.4 492.6,1849.1 C494.1,1856.8 495.5,1865.0 497.0,1872.2 C498.4,1879.4 499.6,1885.7 501.3,1892.4 C503.0,1899.2 505.2,1907.1 507.1,1912.6 C509.0,1918.2 510.7,1922.0 512.9,1925.6 C515.0,1929.2 517.2,1932.1 520.1,1934.3 C523.0,1936.5 526.1,1937.6 530.2,1938.6 C534.3,1939.6 539.8,1940.1 544.6,1940.4 C549.4,1940.7 556.7,1940.4 559.1,1940.4" fill="none" stroke="#b8222a" stroke-width="3.0" stroke-linejoin="round" stroke-linecap="round" clip-path="url(#cpCL2)"/>
<rect x="252.2" y="1672.4" width="363.50000000000006" height="268.0" fill="none" stroke="#000" stroke-width="1.6"/>
<line x1="292.6" y1="1940.4" x2="292.6" y2="1947.4" stroke="#000" stroke-width="1.6"/>
<text x="292.6" y="1967.1" font-size="15.2" text-anchor="middle" >80</text>
<line x1="373.4" y1="1940.4" x2="373.4" y2="1947.4" stroke="#000" stroke-width="1.6"/>
<text x="373.4" y="1967.1" font-size="15.2" text-anchor="middle" >100</text>
<line x1="454.1" y1="1940.4" x2="454.1" y2="1947.4" stroke="#000" stroke-width="1.6"/>
<text x="454.1" y="1967.1" font-size="15.2" text-anchor="middle" >120</text>
<line x1="534.9" y1="1940.4" x2="534.9" y2="1947.4" stroke="#000" stroke-width="1.6"/>
<text x="534.9" y="1967.1" font-size="15.2" text-anchor="middle" >140</text>
<line x1="615.7" y1="1940.4" x2="615.7" y2="1947.4" stroke="#000" stroke-width="1.6"/>
<text x="615.7" y="1967.1" font-size="15.2" text-anchor="middle" >160</text>
<line x1="245.2" y1="1940.4" x2="252.2" y2="1940.4" stroke="#000" stroke-width="1.6"/>
<text x="236.2" y="1945.6" font-size="15.2" text-anchor="end" >0.00</text>
<line x1="245.2" y1="1886.8" x2="252.2" y2="1886.8" stroke="#000" stroke-width="1.6"/>
<text x="236.2" y="1892.0" font-size="15.2" text-anchor="end" >0.02</text>
<line x1="245.2" y1="1833.2" x2="252.2" y2="1833.2" stroke="#000" stroke-width="1.6"/>
<text x="236.2" y="1838.4" font-size="15.2" text-anchor="end" >0.04</text>
<line x1="245.2" y1="1779.6" x2="252.2" y2="1779.6" stroke="#000" stroke-width="1.6"/>
<text x="236.2" y="1784.8" font-size="15.2" text-anchor="end" >0.06</text>
<line x1="245.2" y1="1726.0" x2="252.2" y2="1726.0" stroke="#000" stroke-width="1.6"/>
<text x="236.2" y="1731.2" font-size="15.2" text-anchor="end" >0.08</text>
<line x1="245.2" y1="1672.4" x2="252.2" y2="1672.4" stroke="#000" stroke-width="1.6"/>
<text x="236.2" y="1677.6" font-size="15.2" text-anchor="end" >0.10</text>
<text x="434.0" y="1657.9" font-size="19.8" text-anchor="middle" >Hinge angle distribution for G159D RVL</text>
<text x="434.0" y="1992.6" font-size="19.8" text-anchor="middle" >Hinge angle (degree)</text>
<text x="192.9" y="1806.4" font-size="19.7" text-anchor="middle" transform="rotate(-90 192.9 1806.4)">Probability density</text>
<rect x="257.8" y="1678.4" width="89.39998437499997" height="78.79999999999995" rx="3" fill="#fff" fill-opacity="0.8" stroke="#cfcfcf" stroke-width="1.5"/>
<line x1="262.0" y1="1688.4" x2="278.09999999999997" y2="1688.4" stroke="#3b6db3" stroke-width="3.0"/>
<text x="287.3" y="1692.7" font-size="13.3" text-anchor="start" >uP apo</text>
<line x1="262.0" y1="1707.2" x2="278.09999999999997" y2="1707.2" stroke="#e17c22" stroke-width="3.0"/>
<text x="287.3" y="1711.5" font-size="13.3" text-anchor="start" >SEP apo</text>
<line x1="262.0" y1="1726.0" x2="278.09999999999997" y2="1726.0" stroke="#529d34" stroke-width="3.0"/>
<text x="287.3" y="1730.3" font-size="13.3" text-anchor="start" >uP RVL</text>
<line x1="262.0" y1="1744.8" x2="278.09999999999997" y2="1744.8" stroke="#b8222a" stroke-width="3.0"/>
<text x="287.3" y="1749.1" font-size="13.3" text-anchor="start" >SEP RVL</text>
<clipPath id="cpCR2"><rect x="856.8" y="1667.4" width="363.20000000000005" height="273.0"/></clipPath>
<line x1="1080.3" y1="1672.4" x2="1080.3" y2="1940.4" stroke="#000" stroke-width="1.9"/>
<line x1="1136.2" y1="1672.4" x2="1136.2" y2="1940.4" stroke="#000" stroke-width="1.9"/>
<path d="M969.5,1940.4 C973.4,1940.3 986.9,1940.3 992.6,1939.8 C998.4,1939.3 1001.1,1938.8 1004.2,1937.2 C1007.3,1935.5 1009.5,1933.1 1011.4,1930.0 C1013.3,1926.8 1014.3,1923.7 1015.8,1918.4 C1017.2,1913.1 1018.6,1906.4 1020.1,1898.2 C1021.5,1890.0 1023.2,1879.4 1024.4,1869.3 C1025.6,1859.2 1026.3,1848.6 1027.3,1837.5 C1028.3,1826.5 1029.2,1813.9 1030.2,1802.9 C1031.2,1791.8 1032.1,1780.2 1033.1,1771.1 C1034.1,1762.0 1035.0,1753.3 1036.0,1748.0 C1036.9,1742.7 1037.9,1740.9 1038.9,1739.3 C1039.8,1737.8 1040.8,1737.8 1041.8,1738.7 C1042.7,1739.7 1043.7,1741.2 1044.6,1745.1 C1045.6,1749.0 1046.6,1755.7 1047.5,1762.4 C1048.5,1769.2 1049.5,1778.3 1050.4,1785.5 C1051.4,1792.8 1052.3,1799.5 1053.3,1805.8 C1054.3,1812.0 1055.2,1817.3 1056.2,1823.1 C1057.2,1828.9 1057.9,1834.6 1059.1,1840.4 C1060.3,1846.2 1062.0,1852.0 1063.4,1857.8 C1064.9,1863.5 1066.3,1868.8 1067.7,1875.1 C1069.2,1881.3 1070.6,1888.6 1072.1,1895.3 C1073.5,1902.0 1074.7,1909.7 1076.4,1915.5 C1078.1,1921.3 1080.3,1926.5 1082.2,1930.0 C1084.1,1933.4 1085.6,1934.7 1088.0,1936.3 C1090.4,1937.9 1093.3,1938.8 1096.6,1939.5 C1100.0,1940.2 1106.3,1940.2 1108.2,1940.4" fill="none" stroke="#3b6db3" stroke-width="3.0" stroke-linejoin="round" stroke-linecap="round" clip-path="url(#cpCR2)"/>
<path d="M966.1,1940.4 C968.6,1940.3 976.7,1940.2 981.1,1939.8 C985.5,1939.4 988.8,1939.0 992.6,1938.1 C996.5,1937.1 1001.1,1936.1 1004.2,1934.3 C1007.3,1932.5 1009.5,1930.2 1011.4,1927.1 C1013.3,1923.9 1014.3,1920.8 1015.8,1915.5 C1017.2,1910.2 1018.6,1903.5 1020.1,1895.3 C1021.5,1887.1 1023.2,1875.6 1024.4,1866.4 C1025.6,1857.3 1026.3,1850.5 1027.3,1840.4 C1028.3,1830.3 1029.2,1815.9 1030.2,1805.8 C1031.2,1795.6 1032.1,1786.5 1033.1,1779.8 C1034.1,1773.0 1035.0,1768.3 1036.0,1765.3 C1036.9,1762.3 1037.9,1761.9 1038.9,1761.9 C1039.8,1761.9 1040.5,1762.3 1041.8,1765.3 C1043.0,1768.3 1044.6,1774.5 1046.1,1779.8 C1047.5,1785.1 1048.7,1790.4 1050.4,1797.1 C1052.1,1803.8 1054.5,1813.0 1056.2,1820.2 C1057.9,1827.4 1058.8,1834.2 1060.5,1840.4 C1062.2,1846.7 1064.4,1852.0 1066.3,1857.8 C1068.2,1863.5 1070.2,1869.8 1072.1,1875.1 C1074.0,1880.4 1075.9,1884.7 1077.9,1889.5 C1079.8,1894.3 1081.7,1899.2 1083.6,1904.0 C1085.6,1908.8 1087.2,1914.1 1089.4,1918.4 C1091.6,1922.7 1094.0,1926.8 1096.6,1930.0 C1099.3,1933.1 1101.9,1935.5 1105.3,1937.2 C1108.7,1938.8 1111.6,1939.3 1116.9,1939.8 C1122.1,1940.3 1133.7,1940.3 1137.1,1940.4" fill="none" stroke="#e17c22" stroke-width="3.0" stroke-linejoin="round" stroke-linecap="round" clip-path="url(#cpCR2)"/>
<path d="M969.5,1940.4 C972.9,1940.2 984.5,1939.9 989.8,1939.5 C995.1,1939.1 997.9,1938.9 1001.3,1938.1 C1004.7,1937.2 1007.3,1936.1 1010.0,1934.3 C1012.6,1932.5 1014.8,1930.2 1017.2,1927.1 C1019.6,1923.9 1022.3,1919.9 1024.4,1915.5 C1026.6,1911.2 1028.3,1906.9 1030.2,1901.1 C1032.1,1895.3 1034.3,1887.6 1036.0,1880.9 C1037.7,1874.1 1038.9,1867.4 1040.3,1860.6 C1041.8,1853.9 1043.2,1846.7 1044.6,1840.4 C1046.1,1834.2 1047.5,1828.4 1049.0,1823.1 C1050.4,1817.8 1051.9,1813.0 1053.3,1808.6 C1054.8,1804.3 1056.2,1799.7 1057.6,1797.1 C1059.1,1794.4 1060.5,1793.1 1062.0,1792.8 C1063.4,1792.4 1064.9,1793.1 1066.3,1794.8 C1067.7,1796.5 1069.2,1798.6 1070.6,1802.9 C1072.1,1807.1 1073.5,1813.9 1075.0,1820.2 C1076.4,1826.5 1077.9,1833.7 1079.3,1840.4 C1080.7,1847.2 1082.2,1854.4 1083.6,1860.6 C1085.1,1866.9 1086.5,1873.2 1088.0,1878.0 C1089.4,1882.8 1090.9,1886.2 1092.3,1889.5 C1093.7,1892.9 1095.2,1895.3 1096.6,1898.2 C1098.1,1901.1 1099.5,1904.0 1101.0,1906.9 C1102.4,1909.7 1103.6,1913.1 1105.3,1915.5 C1107.0,1917.9 1109.2,1920.0 1111.1,1921.3 C1113.0,1922.6 1114.7,1922.9 1116.9,1923.3 C1119.0,1923.7 1121.9,1923.1 1124.1,1923.6 C1126.2,1924.1 1127.9,1925.2 1129.9,1926.5 C1131.8,1927.8 1133.5,1929.9 1135.6,1931.4 C1137.8,1933.0 1139.7,1934.5 1142.9,1935.7 C1146.0,1937.0 1149.6,1938.1 1154.4,1938.9 C1159.2,1939.7 1166.9,1940.1 1171.7,1940.4 C1176.5,1940.6 1181.4,1940.4 1183.3,1940.4" fill="none" stroke="#529d34" stroke-width="3.0" stroke-linejoin="round" stroke-linecap="round" clip-path="url(#cpCR2)"/>
<path d="M926.2,1940.4 C929.6,1940.2 940.7,1939.7 946.4,1939.2 C952.2,1938.7 957.0,1938.0 960.9,1937.2 C964.7,1936.4 966.7,1935.5 969.5,1934.3 C972.4,1933.1 975.6,1932.1 978.2,1930.0 C980.9,1927.8 983.3,1924.2 985.4,1921.3 C987.6,1918.4 989.3,1916.0 991.2,1912.6 C993.1,1909.3 994.8,1905.7 997.0,1901.1 C999.1,1896.5 1002.0,1890.0 1004.2,1885.2 C1006.4,1880.4 1007.8,1876.0 1010.0,1872.2 C1012.1,1868.3 1014.8,1865.7 1017.2,1862.1 C1019.6,1858.5 1022.3,1854.1 1024.4,1850.5 C1026.6,1846.9 1028.3,1844.0 1030.2,1840.4 C1032.1,1836.8 1034.1,1832.5 1036.0,1828.9 C1037.9,1825.3 1040.1,1821.4 1041.8,1818.8 C1043.4,1816.1 1044.6,1814.3 1046.1,1813.0 C1047.5,1811.6 1049.0,1810.4 1050.4,1810.7 C1051.9,1810.9 1053.3,1811.9 1054.8,1814.4 C1056.2,1817.0 1057.6,1821.2 1059.1,1826.0 C1060.5,1830.8 1062.0,1837.1 1063.4,1843.3 C1064.9,1849.6 1066.3,1856.8 1067.7,1863.5 C1069.2,1870.3 1070.6,1877.0 1072.1,1883.7 C1073.5,1890.5 1075.0,1898.2 1076.4,1904.0 C1077.9,1909.7 1079.3,1914.3 1080.7,1918.4 C1082.2,1922.5 1083.4,1925.6 1085.1,1928.5 C1086.8,1931.4 1088.5,1934.0 1090.9,1935.7 C1093.3,1937.5 1095.7,1938.4 1099.5,1939.2 C1103.4,1940.0 1111.6,1940.2 1114.0,1940.4" fill="none" stroke="#b8222a" stroke-width="3.0" stroke-linejoin="round" stroke-linecap="round" clip-path="url(#cpCR2)"/>
<rect x="856.8" y="1672.4" width="363.20000000000005" height="268.0" fill="none" stroke="#000" stroke-width="1.6"/>
<line x1="884.7" y1="1940.4" x2="884.7" y2="1947.4" stroke="#000" stroke-width="1.6"/>
<text x="884.7" y="1967.1" font-size="15.2" text-anchor="middle" >40</text>
<line x1="940.6" y1="1940.4" x2="940.6" y2="1947.4" stroke="#000" stroke-width="1.6"/>
<text x="940.6" y="1967.1" font-size="15.2" text-anchor="middle" >60</text>
<line x1="996.5" y1="1940.4" x2="996.5" y2="1947.4" stroke="#000" stroke-width="1.6"/>
<text x="996.5" y="1967.1" font-size="15.2" text-anchor="middle" >80</text>
<line x1="1052.4" y1="1940.4" x2="1052.4" y2="1947.4" stroke="#000" stroke-width="1.6"/>
<text x="1052.4" y="1967.1" font-size="15.2" text-anchor="middle" >100</text>
<line x1="1108.2" y1="1940.4" x2="1108.2" y2="1947.4" stroke="#000" stroke-width="1.6"/>
<text x="1108.2" y="1967.1" font-size="15.2" text-anchor="middle" >120</text>
<line x1="1164.1" y1="1940.4" x2="1164.1" y2="1947.4" stroke="#000" stroke-width="1.6"/>
<text x="1164.1" y="1967.1" font-size="15.2" text-anchor="middle" >140</text>
<line x1="1220.0" y1="1940.4" x2="1220.0" y2="1947.4" stroke="#000" stroke-width="1.6"/>
<text x="1220.0" y="1967.1" font-size="15.2" text-anchor="middle" >160</text>
<line x1="849.8" y1="1940.4" x2="856.8" y2="1940.4" stroke="#000" stroke-width="1.6"/>
<text x="840.8" y="1945.6" font-size="15.2" text-anchor="end" >0.00</text>
<line x1="849.8" y1="1886.8" x2="856.8" y2="1886.8" stroke="#000" stroke-width="1.6"/>
<text x="840.8" y="1892.0" font-size="15.2" text-anchor="end" >0.02</text>
<line x1="849.8" y1="1833.2" x2="856.8" y2="1833.2" stroke="#000" stroke-width="1.6"/>
<text x="840.8" y="1838.4" font-size="15.2" text-anchor="end" >0.04</text>
<line x1="849.8" y1="1779.6" x2="856.8" y2="1779.6" stroke="#000" stroke-width="1.6"/>
<text x="840.8" y="1784.8" font-size="15.2" text-anchor="end" >0.06</text>
<line x1="849.8" y1="1726.0" x2="856.8" y2="1726.0" stroke="#000" stroke-width="1.6"/>
<text x="840.8" y="1731.2" font-size="15.2" text-anchor="end" >0.08</text>
<line x1="849.8" y1="1672.4" x2="856.8" y2="1672.4" stroke="#000" stroke-width="1.6"/>
<text x="840.8" y="1677.6" font-size="15.2" text-anchor="end" >0.10</text>
<text x="1038.4" y="1657.9" font-size="19.8" text-anchor="middle" >A-B angle distribution for G159D RVL</text>
<text x="1038.4" y="1992.6" font-size="19.8" text-anchor="middle" >Supplement of interhelical angle (degree)</text>
<text x="797.9" y="1806.4" font-size="19.7" text-anchor="middle" transform="rotate(-90 797.9 1806.4)">Probability density</text>
<text x="983.8" y="1697.2" font-size="19.8" text-anchor="start" >Open</text>
<text x="1148.0" y="1697.2" font-size="19.8" text-anchor="start" >Closed</text>
<rect x="862.1999999999999" y="1678.4" width="89.49998437500005" height="78.79999999999995" rx="3" fill="#fff" fill-opacity="0.8" stroke="#cfcfcf" stroke-width="1.5"/>
<line x1="866.3" y1="1688.4" x2="882.6999999999999" y2="1688.4" stroke="#3b6db3" stroke-width="3.0"/>
<text x="891.8" y="1692.7" font-size="13.3" text-anchor="start" >uP apo</text>
<line x1="866.3" y1="1707.2" x2="882.6999999999999" y2="1707.2" stroke="#e17c22" stroke-width="3.0"/>
<text x="891.8" y="1711.5" font-size="13.3" text-anchor="start" >SEP apo</text>
<line x1="866.3" y1="1726.0" x2="882.6999999999999" y2="1726.0" stroke="#529d34" stroke-width="3.0"/>
<text x="891.8" y="1730.3" font-size="13.3" text-anchor="start" >uP RVL</text>
<line x1="866.3" y1="1744.8" x2="882.6999999999999" y2="1744.8" stroke="#b8222a" stroke-width="3.0"/>
<text x="891.8" y="1749.1" font-size="13.3" text-anchor="start" >SEP RVL</text>
<clipPath id="cpCL3"><rect x="252.2" y="2073.4" width="363.50000000000006" height="273.0"/></clipPath>
<path d="M371.3,2346.4 C375.2,2346.2 389.1,2345.7 394.4,2345.2 C399.7,2344.7 400.4,2344.2 403.1,2343.2 C405.7,2342.1 408.1,2341.0 410.3,2338.9 C412.5,2336.7 414.4,2333.6 416.1,2330.2 C417.8,2326.8 419.0,2323.4 420.4,2318.6 C421.9,2313.8 423.3,2308.0 424.8,2301.3 C426.2,2294.6 427.6,2286.9 429.1,2278.2 C430.5,2269.5 432.0,2258.9 433.4,2249.3 C434.9,2239.7 436.3,2230.1 437.8,2220.4 C439.2,2210.8 440.6,2200.2 442.1,2191.5 C443.5,2182.9 445.0,2175.7 446.4,2168.4 C447.9,2161.2 449.3,2154.2 450.8,2148.2 C452.2,2142.2 453.6,2135.9 455.1,2132.3 C456.5,2128.7 458.1,2127.5 459.4,2126.5 C460.8,2125.6 462.1,2125.3 463.2,2126.5 C464.3,2127.8 465.0,2130.2 466.1,2133.8 C467.1,2137.4 468.2,2142.0 469.5,2148.2 C470.8,2154.5 472.4,2163.6 473.9,2171.3 C475.3,2179.0 476.7,2186.2 478.2,2194.4 C479.6,2202.6 481.1,2211.8 482.5,2220.4 C484.0,2229.1 485.4,2238.7 486.9,2246.4 C488.3,2254.1 489.7,2259.4 491.2,2266.6 C492.6,2273.9 494.1,2282.5 495.5,2289.7 C497.0,2297.0 498.4,2304.2 499.9,2310.0 C501.3,2315.7 502.5,2320.3 504.2,2324.4 C505.9,2328.5 507.8,2331.7 510.0,2334.5 C512.1,2337.3 514.3,2339.5 517.2,2341.2 C520.1,2342.8 523.7,2343.8 527.3,2344.6 C530.9,2345.4 536.9,2345.8 538.9,2346.1" fill="none" stroke="#3b6db3" stroke-width="3.0" stroke-linejoin="round" stroke-linecap="round" clip-path="url(#cpCL3)"/>
<path d="M310.7,2346.4 C315.0,2346.1 329.9,2345.3 336.7,2344.6 C343.4,2344.0 346.3,2343.3 351.1,2342.3 C355.9,2341.4 361.7,2339.9 365.5,2338.9 C369.4,2337.8 371.3,2337.4 374.2,2336.0 C377.1,2334.5 380.0,2332.8 382.9,2330.2 C385.8,2327.5 388.6,2324.4 391.5,2320.1 C394.4,2315.7 397.6,2310.2 400.2,2304.2 C402.8,2298.2 405.3,2290.7 407.4,2284.0 C409.6,2277.2 411.3,2271.5 413.2,2263.8 C415.1,2256.1 417.3,2246.4 419.0,2237.8 C420.7,2229.1 421.9,2219.5 423.3,2211.8 C424.8,2204.1 426.2,2198.3 427.6,2191.5 C429.1,2184.8 430.5,2176.9 432.0,2171.3 C433.4,2165.8 434.9,2161.4 436.3,2158.3 C437.8,2155.3 439.3,2153.6 440.6,2153.1 C441.9,2152.6 442.9,2153.8 444.1,2155.4 C445.3,2157.0 446.5,2159.0 447.9,2162.7 C449.2,2166.3 450.8,2171.8 452.2,2177.1 C453.6,2182.4 455.1,2188.2 456.5,2194.4 C458.0,2200.7 459.4,2207.4 460.9,2214.6 C462.3,2221.9 463.7,2230.1 465.2,2237.8 C466.6,2245.5 468.1,2253.6 469.5,2260.9 C471.0,2268.1 472.4,2274.3 473.9,2281.1 C475.3,2287.8 476.5,2294.6 478.2,2301.3 C479.9,2308.0 482.0,2315.7 484.0,2321.5 C485.9,2327.3 487.6,2332.4 489.7,2336.0 C491.9,2339.6 494.1,2341.5 497.0,2343.2 C499.9,2344.9 503.5,2345.5 507.1,2346.1 C510.7,2346.6 516.7,2346.3 518.6,2346.4" fill="none" stroke="#e17c22" stroke-width="3.0" stroke-linejoin="round" stroke-linecap="round" clip-path="url(#cpCL3)"/>
<path d="M322.2,2346.4 C325.6,2346.2 337.6,2345.7 342.4,2345.2 C347.2,2344.7 348.4,2344.7 351.1,2343.2 C353.7,2341.6 356.2,2339.1 358.3,2336.0 C360.5,2332.8 362.2,2329.2 364.1,2324.4 C366.0,2319.6 367.9,2312.9 369.9,2307.1 C371.8,2301.3 373.7,2295.5 375.6,2289.7 C377.6,2284.0 379.5,2277.7 381.4,2272.4 C383.4,2267.1 385.3,2261.8 387.2,2258.0 C389.1,2254.1 390.8,2252.0 393.0,2249.3 C395.1,2246.7 397.8,2244.3 400.2,2242.1 C402.6,2239.9 405.0,2237.6 407.4,2236.3 C409.8,2235.0 412.2,2234.4 414.6,2234.3 C417.1,2234.1 419.7,2234.4 421.9,2235.4 C424.0,2236.5 425.7,2238.3 427.6,2240.6 C429.6,2243.0 431.3,2246.7 433.4,2249.3 C435.6,2252.0 438.2,2254.6 440.6,2256.5 C443.0,2258.5 445.7,2259.2 447.9,2260.9 C450.0,2262.5 451.7,2264.2 453.6,2266.6 C455.6,2269.0 457.3,2272.4 459.4,2275.3 C461.6,2278.2 464.2,2281.3 466.6,2284.0 C469.0,2286.6 471.5,2289.3 473.9,2291.2 C476.3,2293.1 478.9,2294.1 481.1,2295.5 C483.2,2297.0 484.9,2297.9 486.9,2299.9 C488.8,2301.8 490.7,2304.4 492.6,2307.1 C494.6,2309.7 496.5,2313.1 498.4,2315.7 C500.3,2318.4 502.3,2320.6 504.2,2323.0 C506.1,2325.4 507.8,2327.8 510.0,2330.2 C512.1,2332.6 514.8,2335.5 517.2,2337.4 C519.6,2339.3 521.5,2340.5 524.4,2341.7 C527.3,2342.9 530.7,2343.9 534.5,2344.6 C538.4,2345.4 541.5,2345.8 547.5,2346.1 C553.5,2346.4 566.8,2346.3 570.6,2346.4" fill="none" stroke="#529d34" stroke-width="3.0" stroke-linejoin="round" stroke-linecap="round" clip-path="url(#cpCL3)"/>
<path d="M250.0,2346.4 C253.9,2346.3 267.3,2346.5 273.1,2346.1 C278.9,2345.7 281.3,2345.5 284.7,2344.1 C288.0,2342.6 290.7,2340.7 293.3,2337.4 C296.0,2334.1 298.1,2329.5 300.5,2324.4 C303.0,2319.4 305.4,2312.6 307.8,2307.1 C310.2,2301.5 312.8,2295.5 315.0,2291.2 C317.2,2286.9 318.8,2283.6 320.8,2281.1 C322.7,2278.6 324.4,2277.1 326.5,2276.2 C328.7,2275.2 331.6,2275.0 333.8,2275.3 C335.9,2275.6 337.4,2276.8 339.5,2278.2 C341.7,2279.6 344.4,2282.3 346.8,2284.0 C349.2,2285.7 351.3,2287.1 354.0,2288.3 C356.6,2289.5 359.8,2290.4 362.7,2291.2 C365.5,2292.0 368.4,2292.5 371.3,2293.2 C374.2,2293.9 377.1,2294.4 380.0,2295.5 C382.9,2296.6 385.8,2298.2 388.6,2299.9 C391.5,2301.5 394.4,2303.7 397.3,2305.6 C400.2,2307.6 403.3,2310.0 406.0,2311.4 C408.6,2312.9 410.8,2313.6 413.2,2314.3 C415.6,2315.0 418.3,2315.7 420.4,2315.7 C422.6,2315.7 424.3,2315.3 426.2,2314.3 C428.1,2313.3 430.1,2312.1 432.0,2310.0 C433.9,2307.8 435.8,2304.7 437.8,2301.3 C439.7,2297.9 441.6,2293.6 443.5,2289.7 C445.5,2285.9 447.4,2281.8 449.3,2278.2 C451.2,2274.6 453.2,2270.7 455.1,2268.1 C457.0,2265.4 458.9,2263.5 460.9,2262.3 C462.8,2261.1 464.7,2260.6 466.6,2260.9 C468.6,2261.1 470.5,2261.8 472.4,2263.8 C474.3,2265.7 476.3,2269.0 478.2,2272.4 C480.1,2275.8 482.3,2280.1 484.0,2284.0 C485.7,2287.8 486.9,2291.2 488.3,2295.5 C489.7,2299.9 491.2,2305.6 492.6,2310.0 C494.1,2314.3 495.5,2318.2 497.0,2321.5 C498.4,2324.9 499.6,2327.5 501.3,2330.2 C503.0,2332.8 505.2,2335.5 507.1,2337.4 C509.0,2339.3 510.4,2340.5 512.9,2341.7 C515.3,2342.9 518.1,2343.9 521.5,2344.6 C524.9,2345.4 528.7,2345.8 533.1,2346.1 C537.4,2346.4 545.1,2346.3 547.5,2346.4" fill="none" stroke="#b8222a" stroke-width="3.0" stroke-linejoin="round" stroke-linecap="round" clip-path="url(#cpCL3)"/>
<rect x="252.2" y="2078.4" width="363.50000000000006" height="268.0" fill="none" stroke="#000" stroke-width="1.6"/>
<line x1="292.6" y1="2346.4" x2="292.6" y2="2353.4" stroke="#000" stroke-width="1.6"/>
<text x="292.6" y="2373.1" font-size="15.2" text-anchor="middle" >80</text>
<line x1="373.4" y1="2346.4" x2="373.4" y2="2353.4" stroke="#000" stroke-width="1.6"/>
<text x="373.4" y="2373.1" font-size="15.2" text-anchor="middle" >100</text>
<line x1="454.1" y1="2346.4" x2="454.1" y2="2353.4" stroke="#000" stroke-width="1.6"/>
<text x="454.1" y="2373.1" font-size="15.2" text-anchor="middle" >120</text>
<line x1="534.9" y1="2346.4" x2="534.9" y2="2353.4" stroke="#000" stroke-width="1.6"/>
<text x="534.9" y="2373.1" font-size="15.2" text-anchor="middle" >140</text>
<line x1="615.7" y1="2346.4" x2="615.7" y2="2353.4" stroke="#000" stroke-width="1.6"/>
<text x="615.7" y="2373.1" font-size="15.2" text-anchor="middle" >160</text>
<line x1="245.2" y1="2346.4" x2="252.2" y2="2346.4" stroke="#000" stroke-width="1.6"/>
<text x="236.2" y="2351.6" font-size="15.2" text-anchor="end" >0.00</text>
<line x1="245.2" y1="2292.8" x2="252.2" y2="2292.8" stroke="#000" stroke-width="1.6"/>
<text x="236.2" y="2298.0" font-size="15.2" text-anchor="end" >0.02</text>
<line x1="245.2" y1="2239.2" x2="252.2" y2="2239.2" stroke="#000" stroke-width="1.6"/>
<text x="236.2" y="2244.4" font-size="15.2" text-anchor="end" >0.04</text>
<line x1="245.2" y1="2185.6" x2="252.2" y2="2185.6" stroke="#000" stroke-width="1.6"/>
<text x="236.2" y="2190.8" font-size="15.2" text-anchor="end" >0.06</text>
<line x1="245.2" y1="2132.0" x2="252.2" y2="2132.0" stroke="#000" stroke-width="1.6"/>
<text x="236.2" y="2137.2" font-size="15.2" text-anchor="end" >0.08</text>
<line x1="245.2" y1="2078.4" x2="252.2" y2="2078.4" stroke="#000" stroke-width="1.6"/>
<text x="236.2" y="2083.6" font-size="15.2" text-anchor="end" >0.10</text>
<text x="434.0" y="2063.9" font-size="19.8" text-anchor="middle" >Hinge angle distribution for G159D EGCG</text>
<text x="434.0" y="2398.6" font-size="19.8" text-anchor="middle" >Hinge angle (degree)</text>
<text x="192.9" y="2212.4" font-size="19.7" text-anchor="middle" transform="rotate(-90 192.9 2212.4)">Probability density</text>
<rect x="257.8" y="2084.4" width="102.93481250000002" height="78.80000000000018" rx="3" fill="#fff" fill-opacity="0.8" stroke="#cfcfcf" stroke-width="1.5"/>
<line x1="262.0" y1="2094.4" x2="278.09999999999997" y2="2094.4" stroke="#3b6db3" stroke-width="3.0"/>
<text x="287.3" y="2098.7" font-size="13.3" text-anchor="start" >uP apo</text>
<line x1="262.0" y1="2113.2" x2="278.09999999999997" y2="2113.2" stroke="#e17c22" stroke-width="3.0"/>
<text x="287.3" y="2117.5" font-size="13.3" text-anchor="start" >SEP apo</text>
<line x1="262.0" y1="2132.0" x2="278.09999999999997" y2="2132.0" stroke="#529d34" stroke-width="3.0"/>
<text x="287.3" y="2136.3" font-size="13.3" text-anchor="start" >uP EGCG</text>
<line x1="262.0" y1="2150.8" x2="278.09999999999997" y2="2150.8" stroke="#b8222a" stroke-width="3.0"/>
<text x="287.3" y="2155.1" font-size="13.3" text-anchor="start" >SEP EGCG</text>
<clipPath id="cpCR3"><rect x="856.8" y="2073.4" width="363.20000000000005" height="273.0"/></clipPath>
<line x1="1080.3" y1="2078.4" x2="1080.3" y2="2346.4" stroke="#000" stroke-width="1.9"/>
<line x1="1136.2" y1="2078.4" x2="1136.2" y2="2346.4" stroke="#000" stroke-width="1.9"/>
<path d="M969.5,2346.4 C973.4,2346.3 986.9,2346.3 992.6,2345.8 C998.4,2345.3 1001.1,2344.8 1004.2,2343.2 C1007.3,2341.5 1009.5,2339.1 1011.4,2336.0 C1013.3,2332.8 1014.3,2329.7 1015.8,2324.4 C1017.2,2319.1 1018.6,2312.4 1020.1,2304.2 C1021.5,2296.0 1023.2,2285.4 1024.4,2275.3 C1025.6,2265.2 1026.3,2254.6 1027.3,2243.5 C1028.3,2232.5 1029.2,2219.9 1030.2,2208.9 C1031.2,2197.8 1032.1,2186.2 1033.1,2177.1 C1034.1,2168.0 1035.0,2159.3 1036.0,2154.0 C1036.9,2148.7 1037.9,2146.9 1038.9,2145.3 C1039.8,2143.8 1040.8,2143.8 1041.8,2144.7 C1042.7,2145.7 1043.7,2147.2 1044.6,2151.1 C1045.6,2155.0 1046.6,2161.7 1047.5,2168.4 C1048.5,2175.2 1049.5,2184.3 1050.4,2191.5 C1051.4,2198.8 1052.3,2205.5 1053.3,2211.8 C1054.3,2218.0 1055.2,2223.3 1056.2,2229.1 C1057.2,2234.9 1057.9,2240.6 1059.1,2246.4 C1060.3,2252.2 1062.0,2258.0 1063.4,2263.8 C1064.9,2269.5 1066.3,2274.8 1067.7,2281.1 C1069.2,2287.3 1070.6,2294.6 1072.1,2301.3 C1073.5,2308.0 1074.7,2315.7 1076.4,2321.5 C1078.1,2327.3 1080.3,2332.5 1082.2,2336.0 C1084.1,2339.4 1085.6,2340.7 1088.0,2342.3 C1090.4,2343.9 1093.3,2344.8 1096.6,2345.5 C1100.0,2346.2 1106.3,2346.2 1108.2,2346.4" fill="none" stroke="#3b6db3" stroke-width="3.0" stroke-linejoin="round" stroke-linecap="round" clip-path="url(#cpCR3)"/>
<path d="M966.1,2346.4 C968.6,2346.3 976.7,2346.2 981.1,2345.8 C985.5,2345.4 988.8,2345.0 992.6,2344.1 C996.5,2343.1 1001.1,2342.1 1004.2,2340.3 C1007.3,2338.5 1009.5,2336.2 1011.4,2333.1 C1013.3,2329.9 1014.3,2326.8 1015.8,2321.5 C1017.2,2316.2 1018.6,2309.5 1020.1,2301.3 C1021.5,2293.1 1023.2,2281.6 1024.4,2272.4 C1025.6,2263.3 1026.3,2256.5 1027.3,2246.4 C1028.3,2236.3 1029.2,2221.9 1030.2,2211.8 C1031.2,2201.6 1032.1,2192.5 1033.1,2185.8 C1034.1,2179.0 1035.0,2174.3 1036.0,2171.3 C1036.9,2168.3 1037.9,2167.9 1038.9,2167.9 C1039.8,2167.9 1040.5,2168.3 1041.8,2171.3 C1043.0,2174.3 1044.6,2180.5 1046.1,2185.8 C1047.5,2191.1 1048.7,2196.4 1050.4,2203.1 C1052.1,2209.8 1054.5,2219.0 1056.2,2226.2 C1057.9,2233.4 1058.8,2240.2 1060.5,2246.4 C1062.2,2252.7 1064.4,2258.0 1066.3,2263.8 C1068.2,2269.5 1070.2,2275.8 1072.1,2281.1 C1074.0,2286.4 1075.9,2290.7 1077.9,2295.5 C1079.8,2300.3 1081.7,2305.2 1083.6,2310.0 C1085.6,2314.8 1087.2,2320.1 1089.4,2324.4 C1091.6,2328.7 1094.0,2332.8 1096.6,2336.0 C1099.3,2339.1 1101.9,2341.5 1105.3,2343.2 C1108.7,2344.8 1111.6,2345.3 1116.9,2345.8 C1122.1,2346.3 1133.7,2346.3 1137.1,2346.4" fill="none" stroke="#e17c22" stroke-width="3.0" stroke-linejoin="round" stroke-linecap="round" clip-path="url(#cpCR3)"/>
<path d="M975.3,2346.4 C979.2,2346.2 992.6,2346.0 998.4,2345.5 C1004.2,2345.0 1006.8,2344.5 1010.0,2343.2 C1013.1,2341.8 1015.0,2340.1 1017.2,2337.4 C1019.4,2334.8 1021.1,2331.9 1023.0,2327.3 C1024.9,2322.7 1027.1,2316.2 1028.8,2310.0 C1030.4,2303.7 1031.6,2297.9 1033.1,2289.7 C1034.5,2281.6 1036.0,2270.5 1037.4,2260.9 C1038.9,2251.2 1040.3,2241.6 1041.8,2232.0 C1043.2,2222.4 1044.6,2212.2 1046.1,2203.1 C1047.5,2193.9 1049.0,2184.1 1050.4,2177.1 C1051.9,2170.1 1053.5,2164.2 1054.8,2161.2 C1056.0,2158.2 1056.5,2158.7 1057.6,2158.9 C1058.7,2159.1 1060.2,2160.1 1061.4,2162.7 C1062.6,2165.2 1063.6,2168.4 1064.9,2174.2 C1066.2,2180.0 1067.7,2189.1 1069.2,2197.3 C1070.6,2205.5 1072.1,2214.2 1073.5,2223.3 C1075.0,2232.5 1076.4,2243.1 1077.9,2252.2 C1079.3,2261.3 1080.7,2270.5 1082.2,2278.2 C1083.6,2285.9 1085.1,2292.2 1086.5,2298.4 C1088.0,2304.7 1089.2,2310.5 1090.9,2315.7 C1092.5,2321.0 1094.7,2326.3 1096.6,2330.2 C1098.6,2334.0 1100.0,2336.5 1102.4,2338.9 C1104.8,2341.2 1107.7,2342.8 1111.1,2344.1 C1114.4,2345.3 1118.3,2345.7 1122.6,2346.1 C1127.0,2346.5 1134.7,2346.3 1137.1,2346.4" fill="none" stroke="#529d34" stroke-width="3.0" stroke-linejoin="round" stroke-linecap="round" clip-path="url(#cpCR3)"/>
<path d="M854.0,2346.4 C856.9,2346.2 866.0,2345.7 871.3,2345.2 C876.6,2344.7 881.4,2344.2 885.8,2343.2 C890.1,2342.1 893.5,2340.5 897.3,2338.9 C901.2,2337.2 905.0,2334.9 908.9,2333.1 C912.7,2331.2 916.6,2329.2 920.4,2327.9 C924.3,2326.5 928.1,2325.6 932.0,2325.0 C935.8,2324.4 940.2,2324.5 943.5,2324.4 C946.9,2324.3 949.3,2324.9 952.2,2324.4 C955.1,2323.9 958.0,2322.7 960.9,2321.5 C963.8,2320.4 966.7,2318.7 969.5,2317.5 C972.4,2316.3 975.6,2315.0 978.2,2314.3 C980.9,2313.6 983.0,2313.2 985.4,2313.4 C987.8,2313.7 990.0,2314.5 992.6,2315.7 C995.3,2317.0 998.4,2319.4 1001.3,2320.9 C1004.2,2322.5 1007.6,2324.2 1010.0,2325.0 C1012.4,2325.8 1013.8,2326.2 1015.8,2325.9 C1017.7,2325.5 1019.6,2324.9 1021.5,2323.0 C1023.5,2321.0 1025.4,2317.9 1027.3,2314.3 C1029.2,2310.7 1031.2,2306.4 1033.1,2301.3 C1035.0,2296.2 1036.9,2290.2 1038.9,2284.0 C1040.8,2277.7 1042.7,2270.0 1044.6,2263.8 C1046.6,2257.5 1048.5,2251.5 1050.4,2246.4 C1052.3,2241.4 1054.5,2235.4 1056.2,2233.4 C1057.9,2231.4 1059.1,2232.6 1060.5,2234.3 C1062.0,2236.0 1063.4,2239.6 1064.9,2243.5 C1066.3,2247.5 1067.7,2252.7 1069.2,2258.0 C1070.6,2263.3 1072.1,2269.0 1073.5,2275.3 C1075.0,2281.6 1076.4,2288.8 1077.9,2295.5 C1079.3,2302.3 1080.5,2309.7 1082.2,2315.7 C1083.9,2321.8 1086.0,2327.5 1088.0,2331.6 C1089.9,2335.7 1091.3,2338.1 1093.7,2340.3 C1096.2,2342.5 1099.0,2343.7 1102.4,2344.6 C1105.8,2345.6 1109.6,2345.8 1114.0,2346.1 C1118.3,2346.4 1126.0,2346.3 1128.4,2346.4" fill="none" stroke="#b8222a" stroke-width="3.0" stroke-linejoin="round" stroke-linecap="round" clip-path="url(#cpCR3)"/>
<rect x="856.8" y="2078.4" width="363.20000000000005" height="268.0" fill="none" stroke="#000" stroke-width="1.6"/>
<line x1="884.7" y1="2346.4" x2="884.7" y2="2353.4" stroke="#000" stroke-width="1.6"/>
<text x="884.7" y="2373.1" font-size="15.2" text-anchor="middle" >40</text>
<line x1="940.6" y1="2346.4" x2="940.6" y2="2353.4" stroke="#000" stroke-width="1.6"/>
<text x="940.6" y="2373.1" font-size="15.2" text-anchor="middle" >60</text>
<line x1="996.5" y1="2346.4" x2="996.5" y2="2353.4" stroke="#000" stroke-width="1.6"/>
<text x="996.5" y="2373.1" font-size="15.2" text-anchor="middle" >80</text>
<line x1="1052.4" y1="2346.4" x2="1052.4" y2="2353.4" stroke="#000" stroke-width="1.6"/>
<text x="1052.4" y="2373.1" font-size="15.2" text-anchor="middle" >100</text>
<line x1="1108.2" y1="2346.4" x2="1108.2" y2="2353.4" stroke="#000" stroke-width="1.6"/>
<text x="1108.2" y="2373.1" font-size="15.2" text-anchor="middle" >120</text>
<line x1="1164.1" y1="2346.4" x2="1164.1" y2="2353.4" stroke="#000" stroke-width="1.6"/>
<text x="1164.1" y="2373.1" font-size="15.2" text-anchor="middle" >140</text>
<line x1="1220.0" y1="2346.4" x2="1220.0" y2="2353.4" stroke="#000" stroke-width="1.6"/>
<text x="1220.0" y="2373.1" font-size="15.2" text-anchor="middle" >160</text>
<line x1="849.8" y1="2346.4" x2="856.8" y2="2346.4" stroke="#000" stroke-width="1.6"/>
<text x="840.8" y="2351.6" font-size="15.2" text-anchor="end" >0.00</text>
<line x1="849.8" y1="2292.8" x2="856.8" y2="2292.8" stroke="#000" stroke-width="1.6"/>
<text x="840.8" y="2298.0" font-size="15.2" text-anchor="end" >0.02</text>
<line x1="849.8" y1="2239.2" x2="856.8" y2="2239.2" stroke="#000" stroke-width="1.6"/>
<text x="840.8" y="2244.4" font-size="15.2" text-anchor="end" >0.04</text>
<line x1="849.8" y1="2185.6" x2="856.8" y2="2185.6" stroke="#000" stroke-width="1.6"/>
<text x="840.8" y="2190.8" font-size="15.2" text-anchor="end" >0.06</text>
<line x1="849.8" y1="2132.0" x2="856.8" y2="2132.0" stroke="#000" stroke-width="1.6"/>
<text x="840.8" y="2137.2" font-size="15.2" text-anchor="end" >0.08</text>
<line x1="849.8" y1="2078.4" x2="856.8" y2="2078.4" stroke="#000" stroke-width="1.6"/>
<text x="840.8" y="2083.6" font-size="15.2" text-anchor="end" >0.10</text>
<text x="1038.4" y="2063.9" font-size="19.8" text-anchor="middle" >A-B angle distribution for G159D EGCG</text>
<text x="1038.4" y="2398.6" font-size="19.8" text-anchor="middle" >Supplement of interhelical angle (degree)</text>
<text x="797.9" y="2212.4" font-size="19.7" text-anchor="middle" transform="rotate(-90 797.9 2212.4)">Probability density</text>
<text x="983.8" y="2103.2" font-size="19.8" text-anchor="start" >Open</text>
<text x="1148.0" y="2103.2" font-size="19.8" text-anchor="start" >Closed</text>
<rect x="862.1999999999999" y="2084.4" width="103.03481250000004" height="78.80000000000018" rx="3" fill="#fff" fill-opacity="0.8" stroke="#cfcfcf" stroke-width="1.5"/>
<line x1="866.3" y1="2094.4" x2="882.6999999999999" y2="2094.4" stroke="#3b6db3" stroke-width="3.0"/>
<text x="891.8" y="2098.7" font-size="13.3" text-anchor="start" >uP apo</text>
<line x1="866.3" y1="2113.2" x2="882.6999999999999" y2="2113.2" stroke="#e17c22" stroke-width="3.0"/>
<text x="891.8" y="2117.5" font-size="13.3" text-anchor="start" >SEP apo</text>
<line x1="866.3" y1="2132.0" x2="882.6999999999999" y2="2132.0" stroke="#529d34" stroke-width="3.0"/>
<text x="891.8" y="2136.3" font-size="13.3" text-anchor="start" >uP EGCG</text>
<line x1="866.3" y1="2150.8" x2="882.6999999999999" y2="2150.8" stroke="#b8222a" stroke-width="3.0"/>
<text x="891.8" y="2155.1" font-size="13.3" text-anchor="start" >SEP EGCG</text>
</g>
</svg>
</body></html>
